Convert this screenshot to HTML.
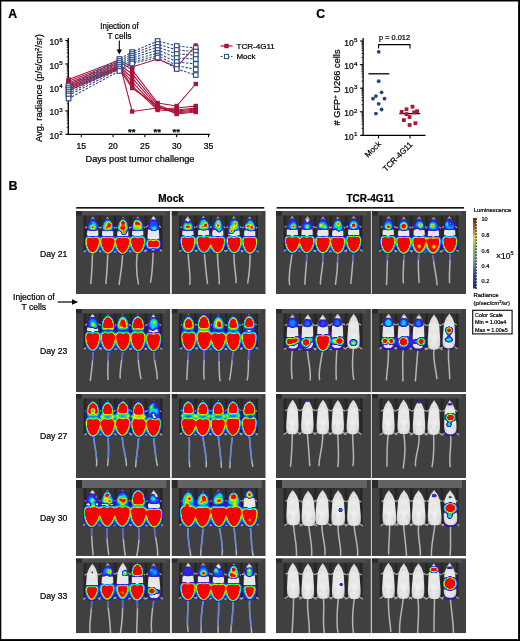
<!DOCTYPE html>
<html><head><meta charset="utf-8"><style>
html,body{margin:0;padding:0;background:#fff;}
body{width:520px;height:641px;overflow:hidden;font-family:"Liberation Sans",sans-serif;}
svg{display:block;will-change:transform;}
text{stroke:#000;stroke-width:0.22px;}
</style></head><body>
<svg width="520" height="641" viewBox="0 0 520 641">
<defs>
<filter id="heat" x="0" y="0" width="1" height="1" color-interpolation-filters="sRGB">
 <feGaussianBlur stdDeviation="1.2"/>
 <feColorMatrix type="matrix" values="1 0 0 0 0  0 1 0 0 0  0 0 1 0 0  1 0 0 0 0"/>
 <feComponentTransfer>
  <feFuncR type="table" tableValues="0.000 0.000 0.000 0.235 0.157 0.078 0.000 0.000 0.000 0.235 0.667 0.980 1.000 1.000 1.000 0.980 0.980 0.980 0.980 0.980"/>
  <feFuncG type="table" tableValues="0.000 0.000 0.000 0.078 0.157 0.353 0.627 0.882 0.902 0.902 0.941 0.922 0.647 0.314 0.059 0.000 0.000 0.000 0.000 0.000"/>
  <feFuncB type="table" tableValues="0.000 0.000 0.000 0.745 0.922 1.000 1.000 0.922 0.549 0.157 0.000 0.000 0.000 0.000 0.000 0.000 0.000 0.000 0.000 0.000"/>
  <feFuncA type="table" tableValues="0 0 0 1 1 1 1 1 1 1 1 1 1 1 1 1 1 1 1 1"/>
 </feComponentTransfer>
</filter>
<filter id="soft" x="-0.1" y="-0.1" width="1.2" height="1.2"><feGaussianBlur stdDeviation="0.45"/></filter>
<filter id="soft2" x="-0.2" y="-0.2" width="1.4" height="1.4"><feGaussianBlur stdDeviation="0.8"/></filter>
<radialGradient id="mg" cx="0.5" cy="0.55" r="0.6"><stop offset="0" stop-color="#f4f4f4"/><stop offset="0.75" stop-color="#e2e2e2"/><stop offset="1" stop-color="#bdbdbd"/></radialGradient>
<path id="mb" d="M0.000,0.000 C0.057,0.000 0.103,0.023 0.170,0.040 C0.237,0.057 0.325,0.077 0.400,0.100 C0.475,0.123 0.557,0.153 0.620,0.180 C0.683,0.207 0.738,0.232 0.780,0.260 C0.822,0.288 0.850,0.317 0.870,0.350 C0.890,0.383 0.885,0.418 0.900,0.460 C0.915,0.502 0.943,0.557 0.960,0.600 C0.977,0.643 0.993,0.683 1.000,0.720 C1.007,0.757 1.008,0.790 1.000,0.820 C0.992,0.850 0.992,0.875 0.950,0.900 C0.908,0.925 0.850,0.953 0.750,0.970 C0.650,0.987 0.533,0.995 0.350,1.000 C0.167,1.005 -0.167,1.005 -0.350,1.000 C-0.533,0.995 -0.650,0.987 -0.750,0.970 C-0.850,0.953 -0.908,0.925 -0.950,0.900 C-0.992,0.875 -0.992,0.850 -1.000,0.820 C-1.008,0.790 -1.007,0.757 -1.000,0.720 C-0.993,0.683 -0.977,0.643 -0.960,0.600 C-0.943,0.557 -0.915,0.502 -0.900,0.460 C-0.885,0.418 -0.890,0.383 -0.870,0.350 C-0.850,0.317 -0.822,0.288 -0.780,0.260 C-0.738,0.232 -0.683,0.207 -0.620,0.180 C-0.557,0.153 -0.475,0.123 -0.400,0.100 C-0.325,0.077 -0.237,0.057 -0.170,0.040 C-0.103,0.023 -0.057,0.000 0.000,0.000Z"/></defs>
<rect width="520" height="641" fill="#fff"/>
<line x1="68.3" y1="38" x2="68.3" y2="134.9" stroke="#000" stroke-width="1.3"/>
<line x1="67.7" y1="134.3" x2="210" y2="134.3" stroke="#000" stroke-width="1.3"/>
<line x1="65.3" y1="134.30" x2="68.3" y2="134.30" stroke="#000" stroke-width="1.1"/>
<line x1="66.7" y1="127.24" x2="68.3" y2="127.24" stroke="#000" stroke-width="0.8"/>
<line x1="66.7" y1="123.11" x2="68.3" y2="123.11" stroke="#000" stroke-width="0.8"/>
<line x1="66.7" y1="120.18" x2="68.3" y2="120.18" stroke="#000" stroke-width="0.8"/>
<line x1="66.7" y1="117.91" x2="68.3" y2="117.91" stroke="#000" stroke-width="0.8"/>
<line x1="66.7" y1="116.05" x2="68.3" y2="116.05" stroke="#000" stroke-width="0.8"/>
<line x1="66.7" y1="114.48" x2="68.3" y2="114.48" stroke="#000" stroke-width="0.8"/>
<line x1="66.7" y1="113.12" x2="68.3" y2="113.12" stroke="#000" stroke-width="0.8"/>
<line x1="66.7" y1="111.92" x2="68.3" y2="111.92" stroke="#000" stroke-width="0.8"/>
<text x="62.699999999999996" y="138.90" font-size="8.5" text-anchor="end" font-family="'Liberation Sans', sans-serif">10<tspan dx="0.3" dy="-3.6" font-size="6.2">2</tspan></text>
<line x1="65.3" y1="110.85" x2="68.3" y2="110.85" stroke="#000" stroke-width="1.1"/>
<line x1="66.7" y1="103.79" x2="68.3" y2="103.79" stroke="#000" stroke-width="0.8"/>
<line x1="66.7" y1="99.66" x2="68.3" y2="99.66" stroke="#000" stroke-width="0.8"/>
<line x1="66.7" y1="96.73" x2="68.3" y2="96.73" stroke="#000" stroke-width="0.8"/>
<line x1="66.7" y1="94.46" x2="68.3" y2="94.46" stroke="#000" stroke-width="0.8"/>
<line x1="66.7" y1="92.60" x2="68.3" y2="92.60" stroke="#000" stroke-width="0.8"/>
<line x1="66.7" y1="91.03" x2="68.3" y2="91.03" stroke="#000" stroke-width="0.8"/>
<line x1="66.7" y1="89.67" x2="68.3" y2="89.67" stroke="#000" stroke-width="0.8"/>
<line x1="66.7" y1="88.47" x2="68.3" y2="88.47" stroke="#000" stroke-width="0.8"/>
<text x="62.699999999999996" y="115.45" font-size="8.5" text-anchor="end" font-family="'Liberation Sans', sans-serif">10<tspan dx="0.3" dy="-3.6" font-size="6.2">3</tspan></text>
<line x1="65.3" y1="87.40" x2="68.3" y2="87.40" stroke="#000" stroke-width="1.1"/>
<line x1="66.7" y1="80.34" x2="68.3" y2="80.34" stroke="#000" stroke-width="0.8"/>
<line x1="66.7" y1="76.21" x2="68.3" y2="76.21" stroke="#000" stroke-width="0.8"/>
<line x1="66.7" y1="73.28" x2="68.3" y2="73.28" stroke="#000" stroke-width="0.8"/>
<line x1="66.7" y1="71.01" x2="68.3" y2="71.01" stroke="#000" stroke-width="0.8"/>
<line x1="66.7" y1="69.15" x2="68.3" y2="69.15" stroke="#000" stroke-width="0.8"/>
<line x1="66.7" y1="67.58" x2="68.3" y2="67.58" stroke="#000" stroke-width="0.8"/>
<line x1="66.7" y1="66.22" x2="68.3" y2="66.22" stroke="#000" stroke-width="0.8"/>
<line x1="66.7" y1="65.02" x2="68.3" y2="65.02" stroke="#000" stroke-width="0.8"/>
<text x="62.699999999999996" y="92.00" font-size="8.5" text-anchor="end" font-family="'Liberation Sans', sans-serif">10<tspan dx="0.3" dy="-3.6" font-size="6.2">4</tspan></text>
<line x1="65.3" y1="63.95" x2="68.3" y2="63.95" stroke="#000" stroke-width="1.1"/>
<line x1="66.7" y1="56.89" x2="68.3" y2="56.89" stroke="#000" stroke-width="0.8"/>
<line x1="66.7" y1="52.76" x2="68.3" y2="52.76" stroke="#000" stroke-width="0.8"/>
<line x1="66.7" y1="49.83" x2="68.3" y2="49.83" stroke="#000" stroke-width="0.8"/>
<line x1="66.7" y1="47.56" x2="68.3" y2="47.56" stroke="#000" stroke-width="0.8"/>
<line x1="66.7" y1="45.70" x2="68.3" y2="45.70" stroke="#000" stroke-width="0.8"/>
<line x1="66.7" y1="44.13" x2="68.3" y2="44.13" stroke="#000" stroke-width="0.8"/>
<line x1="66.7" y1="42.77" x2="68.3" y2="42.77" stroke="#000" stroke-width="0.8"/>
<line x1="66.7" y1="41.57" x2="68.3" y2="41.57" stroke="#000" stroke-width="0.8"/>
<text x="62.699999999999996" y="68.55" font-size="8.5" text-anchor="end" font-family="'Liberation Sans', sans-serif">10<tspan dx="0.3" dy="-3.6" font-size="6.2">5</tspan></text>
<line x1="65.3" y1="40.50" x2="68.3" y2="40.50" stroke="#000" stroke-width="1.1"/>
<text x="62.699999999999996" y="45.10" font-size="8.5" text-anchor="end" font-family="'Liberation Sans', sans-serif">10<tspan dx="0.3" dy="-3.6" font-size="6.2">6</tspan></text>
<line x1="81.30" y1="134.3" x2="81.30" y2="137.3" stroke="#000" stroke-width="1.1"/>
<text x="81.30" y="148.6" font-size="8.6" text-anchor="middle" font-family="'Liberation Sans', sans-serif">15</text>
<line x1="113.10" y1="134.3" x2="113.10" y2="137.3" stroke="#000" stroke-width="1.1"/>
<text x="113.10" y="148.6" font-size="8.6" text-anchor="middle" font-family="'Liberation Sans', sans-serif">20</text>
<line x1="144.90" y1="134.3" x2="144.90" y2="137.3" stroke="#000" stroke-width="1.1"/>
<text x="144.90" y="148.6" font-size="8.6" text-anchor="middle" font-family="'Liberation Sans', sans-serif">25</text>
<line x1="176.70" y1="134.3" x2="176.70" y2="137.3" stroke="#000" stroke-width="1.1"/>
<text x="176.70" y="148.6" font-size="8.6" text-anchor="middle" font-family="'Liberation Sans', sans-serif">30</text>
<line x1="208.50" y1="134.3" x2="208.50" y2="137.3" stroke="#000" stroke-width="1.1"/>
<text x="208.50" y="148.6" font-size="8.6" text-anchor="middle" font-family="'Liberation Sans', sans-serif">35</text>
<text x="140" y="161.5" font-size="9" text-anchor="middle" font-family="'Liberation Sans', sans-serif" textLength="109" lengthAdjust="spacingAndGlyphs">Days post tumor challenge</text>
<text transform="translate(42.3,88) rotate(-90)" font-size="9.6" text-anchor="middle" font-family="'Liberation Sans', sans-serif" textLength="108" lengthAdjust="spacingAndGlyphs">Avg. radiance (p/s/cm<tspan dy="-3" font-size="6">2</tspan><tspan dy="3">/sr)</tspan></text>
<text x="119.5" y="28.9" font-size="8.3" text-anchor="middle" font-family="'Liberation Sans', sans-serif" textLength="38.5" lengthAdjust="spacingAndGlyphs">Injection of</text>
<text x="119.5" y="38.8" font-size="8.3" text-anchor="middle" font-family="'Liberation Sans', sans-serif">T cells</text>
<line x1="119.3" y1="40.5" x2="119.3" y2="51" stroke="#000" stroke-width="1.1"/>
<path d="M116.6,49.5 L122,49.5 L119.3,54.5 Z" fill="#000"/>
<text x="131.7" y="135.2" font-size="9.5" text-anchor="middle" font-family="'Liberation Sans', sans-serif" font-weight="bold">**</text>
<text x="157.2" y="135.2" font-size="9.5" text-anchor="middle" font-family="'Liberation Sans', sans-serif" font-weight="bold">**</text>
<text x="176.2" y="135.2" font-size="9.5" text-anchor="middle" font-family="'Liberation Sans', sans-serif" font-weight="bold">**</text>
<polyline points="68.58,79.6 119.46,60 132.18,67 157.62,59 176.70,67 195.78,45.5" fill="none" stroke="#ad1238" stroke-width="1.1"/>
<polyline points="68.58,81.3 119.46,61.5 132.18,70 157.62,103 176.70,106 195.78,84" fill="none" stroke="#ad1238" stroke-width="1.1"/>
<polyline points="68.58,83 119.46,63 132.18,111.5 157.62,108 176.70,110 195.78,108" fill="none" stroke="#ad1238" stroke-width="1.1"/>
<polyline points="68.58,84.5 119.46,64.5 132.18,74 157.62,105 176.70,112 195.78,110" fill="none" stroke="#ad1238" stroke-width="1.1"/>
<polyline points="68.58,86 119.46,66 132.18,78 157.62,107 176.70,113 195.78,111" fill="none" stroke="#ad1238" stroke-width="1.1"/>
<polyline points="68.58,87.5 119.46,67 132.18,82 157.62,109 176.70,108 195.78,106" fill="none" stroke="#ad1238" stroke-width="1.1"/>
<polyline points="68.58,89 119.46,68 132.18,86 157.62,110 176.70,111 195.78,109" fill="none" stroke="#ad1238" stroke-width="1.1"/>
<polyline points="68.58,90.5 119.46,69 132.18,88 157.62,106 176.70,114 195.78,112" fill="none" stroke="#ad1238" stroke-width="1.1"/>
<polyline points="68.58,85.5 119.46,59 132.18,52 157.62,41 176.70,46 195.78,48" fill="none" stroke="#2c4a82" stroke-width="1.1" stroke-dasharray="2.4,1.5"/>
<polyline points="68.58,87.5 119.46,61 132.18,54 157.62,44 176.70,50 195.78,51.5" fill="none" stroke="#2c4a82" stroke-width="1.1" stroke-dasharray="2.4,1.5"/>
<polyline points="68.58,89.5 119.46,63 132.18,56 157.62,47 176.70,54 195.78,55" fill="none" stroke="#2c4a82" stroke-width="1.1" stroke-dasharray="2.4,1.5"/>
<polyline points="68.58,91.5 119.46,65 132.18,58 157.62,50 176.70,58 195.78,59" fill="none" stroke="#2c4a82" stroke-width="1.1" stroke-dasharray="2.4,1.5"/>
<polyline points="68.58,93.5 119.46,67 132.18,60 157.62,53 176.70,62 195.78,64" fill="none" stroke="#2c4a82" stroke-width="1.1" stroke-dasharray="2.4,1.5"/>
<polyline points="68.58,95.5 119.46,69 132.18,62 157.62,55.5 176.70,65.5 195.78,69.5" fill="none" stroke="#2c4a82" stroke-width="1.1" stroke-dasharray="2.4,1.5"/>
<polyline points="68.58,98.5 119.46,71 132.18,63.5 157.62,57.5 176.70,69 195.78,75" fill="none" stroke="#2c4a82" stroke-width="1.1" stroke-dasharray="2.4,1.5"/>
<rect x="66.38" y="77.40" width="4.4" height="4.4" fill="#ad1238"/>
<rect x="117.26" y="57.80" width="4.4" height="4.4" fill="#ad1238"/>
<rect x="129.98" y="64.80" width="4.4" height="4.4" fill="#ad1238"/>
<rect x="155.42" y="56.80" width="4.4" height="4.4" fill="#ad1238"/>
<rect x="174.50" y="64.80" width="4.4" height="4.4" fill="#ad1238"/>
<rect x="193.58" y="43.30" width="4.4" height="4.4" fill="#ad1238"/>
<rect x="66.38" y="79.10" width="4.4" height="4.4" fill="#ad1238"/>
<rect x="117.26" y="59.30" width="4.4" height="4.4" fill="#ad1238"/>
<rect x="129.98" y="67.80" width="4.4" height="4.4" fill="#ad1238"/>
<rect x="155.42" y="100.80" width="4.4" height="4.4" fill="#ad1238"/>
<rect x="174.50" y="103.80" width="4.4" height="4.4" fill="#ad1238"/>
<rect x="193.58" y="81.80" width="4.4" height="4.4" fill="#ad1238"/>
<rect x="66.38" y="80.80" width="4.4" height="4.4" fill="#ad1238"/>
<rect x="117.26" y="60.80" width="4.4" height="4.4" fill="#ad1238"/>
<rect x="129.98" y="109.30" width="4.4" height="4.4" fill="#ad1238"/>
<rect x="155.42" y="105.80" width="4.4" height="4.4" fill="#ad1238"/>
<rect x="174.50" y="107.80" width="4.4" height="4.4" fill="#ad1238"/>
<rect x="193.58" y="105.80" width="4.4" height="4.4" fill="#ad1238"/>
<rect x="66.38" y="82.30" width="4.4" height="4.4" fill="#ad1238"/>
<rect x="117.26" y="62.30" width="4.4" height="4.4" fill="#ad1238"/>
<rect x="129.98" y="71.80" width="4.4" height="4.4" fill="#ad1238"/>
<rect x="155.42" y="102.80" width="4.4" height="4.4" fill="#ad1238"/>
<rect x="174.50" y="109.80" width="4.4" height="4.4" fill="#ad1238"/>
<rect x="193.58" y="107.80" width="4.4" height="4.4" fill="#ad1238"/>
<rect x="66.38" y="83.80" width="4.4" height="4.4" fill="#ad1238"/>
<rect x="117.26" y="63.80" width="4.4" height="4.4" fill="#ad1238"/>
<rect x="129.98" y="75.80" width="4.4" height="4.4" fill="#ad1238"/>
<rect x="155.42" y="104.80" width="4.4" height="4.4" fill="#ad1238"/>
<rect x="174.50" y="110.80" width="4.4" height="4.4" fill="#ad1238"/>
<rect x="193.58" y="108.80" width="4.4" height="4.4" fill="#ad1238"/>
<rect x="66.38" y="85.30" width="4.4" height="4.4" fill="#ad1238"/>
<rect x="117.26" y="64.80" width="4.4" height="4.4" fill="#ad1238"/>
<rect x="129.98" y="79.80" width="4.4" height="4.4" fill="#ad1238"/>
<rect x="155.42" y="106.80" width="4.4" height="4.4" fill="#ad1238"/>
<rect x="174.50" y="105.80" width="4.4" height="4.4" fill="#ad1238"/>
<rect x="193.58" y="103.80" width="4.4" height="4.4" fill="#ad1238"/>
<rect x="66.38" y="86.80" width="4.4" height="4.4" fill="#ad1238"/>
<rect x="117.26" y="65.80" width="4.4" height="4.4" fill="#ad1238"/>
<rect x="129.98" y="83.80" width="4.4" height="4.4" fill="#ad1238"/>
<rect x="155.42" y="107.80" width="4.4" height="4.4" fill="#ad1238"/>
<rect x="174.50" y="108.80" width="4.4" height="4.4" fill="#ad1238"/>
<rect x="193.58" y="106.80" width="4.4" height="4.4" fill="#ad1238"/>
<rect x="66.38" y="88.30" width="4.4" height="4.4" fill="#ad1238"/>
<rect x="117.26" y="66.80" width="4.4" height="4.4" fill="#ad1238"/>
<rect x="129.98" y="85.80" width="4.4" height="4.4" fill="#ad1238"/>
<rect x="155.42" y="103.80" width="4.4" height="4.4" fill="#ad1238"/>
<rect x="174.50" y="111.80" width="4.4" height="4.4" fill="#ad1238"/>
<rect x="193.58" y="109.80" width="4.4" height="4.4" fill="#ad1238"/>
<rect x="66.28" y="83.20" width="4.6" height="4.6" fill="#fff" stroke="#2c4a82" stroke-width="1.15"/>
<rect x="117.16" y="56.70" width="4.6" height="4.6" fill="#fff" stroke="#2c4a82" stroke-width="1.15"/>
<rect x="129.88" y="49.70" width="4.6" height="4.6" fill="#fff" stroke="#2c4a82" stroke-width="1.15"/>
<rect x="155.32" y="38.70" width="4.6" height="4.6" fill="#fff" stroke="#2c4a82" stroke-width="1.15"/>
<rect x="174.40" y="43.70" width="4.6" height="4.6" fill="#fff" stroke="#2c4a82" stroke-width="1.15"/>
<rect x="193.48" y="45.70" width="4.6" height="4.6" fill="#fff" stroke="#2c4a82" stroke-width="1.15"/>
<rect x="66.28" y="85.20" width="4.6" height="4.6" fill="#fff" stroke="#2c4a82" stroke-width="1.15"/>
<rect x="117.16" y="58.70" width="4.6" height="4.6" fill="#fff" stroke="#2c4a82" stroke-width="1.15"/>
<rect x="129.88" y="51.70" width="4.6" height="4.6" fill="#fff" stroke="#2c4a82" stroke-width="1.15"/>
<rect x="155.32" y="41.70" width="4.6" height="4.6" fill="#fff" stroke="#2c4a82" stroke-width="1.15"/>
<rect x="174.40" y="47.70" width="4.6" height="4.6" fill="#fff" stroke="#2c4a82" stroke-width="1.15"/>
<rect x="193.48" y="49.20" width="4.6" height="4.6" fill="#fff" stroke="#2c4a82" stroke-width="1.15"/>
<rect x="66.28" y="87.20" width="4.6" height="4.6" fill="#fff" stroke="#2c4a82" stroke-width="1.15"/>
<rect x="117.16" y="60.70" width="4.6" height="4.6" fill="#fff" stroke="#2c4a82" stroke-width="1.15"/>
<rect x="129.88" y="53.70" width="4.6" height="4.6" fill="#fff" stroke="#2c4a82" stroke-width="1.15"/>
<rect x="155.32" y="44.70" width="4.6" height="4.6" fill="#fff" stroke="#2c4a82" stroke-width="1.15"/>
<rect x="174.40" y="51.70" width="4.6" height="4.6" fill="#fff" stroke="#2c4a82" stroke-width="1.15"/>
<rect x="193.48" y="52.70" width="4.6" height="4.6" fill="#fff" stroke="#2c4a82" stroke-width="1.15"/>
<rect x="66.28" y="89.20" width="4.6" height="4.6" fill="#fff" stroke="#2c4a82" stroke-width="1.15"/>
<rect x="117.16" y="62.70" width="4.6" height="4.6" fill="#fff" stroke="#2c4a82" stroke-width="1.15"/>
<rect x="129.88" y="55.70" width="4.6" height="4.6" fill="#fff" stroke="#2c4a82" stroke-width="1.15"/>
<rect x="155.32" y="47.70" width="4.6" height="4.6" fill="#fff" stroke="#2c4a82" stroke-width="1.15"/>
<rect x="174.40" y="55.70" width="4.6" height="4.6" fill="#fff" stroke="#2c4a82" stroke-width="1.15"/>
<rect x="193.48" y="56.70" width="4.6" height="4.6" fill="#fff" stroke="#2c4a82" stroke-width="1.15"/>
<rect x="66.28" y="91.20" width="4.6" height="4.6" fill="#fff" stroke="#2c4a82" stroke-width="1.15"/>
<rect x="117.16" y="64.70" width="4.6" height="4.6" fill="#fff" stroke="#2c4a82" stroke-width="1.15"/>
<rect x="129.88" y="57.70" width="4.6" height="4.6" fill="#fff" stroke="#2c4a82" stroke-width="1.15"/>
<rect x="155.32" y="50.70" width="4.6" height="4.6" fill="#fff" stroke="#2c4a82" stroke-width="1.15"/>
<rect x="174.40" y="59.70" width="4.6" height="4.6" fill="#fff" stroke="#2c4a82" stroke-width="1.15"/>
<rect x="193.48" y="61.70" width="4.6" height="4.6" fill="#fff" stroke="#2c4a82" stroke-width="1.15"/>
<rect x="66.28" y="93.20" width="4.6" height="4.6" fill="#fff" stroke="#2c4a82" stroke-width="1.15"/>
<rect x="117.16" y="66.70" width="4.6" height="4.6" fill="#fff" stroke="#2c4a82" stroke-width="1.15"/>
<rect x="129.88" y="59.70" width="4.6" height="4.6" fill="#fff" stroke="#2c4a82" stroke-width="1.15"/>
<rect x="155.32" y="53.20" width="4.6" height="4.6" fill="#fff" stroke="#2c4a82" stroke-width="1.15"/>
<rect x="174.40" y="63.20" width="4.6" height="4.6" fill="#fff" stroke="#2c4a82" stroke-width="1.15"/>
<rect x="193.48" y="67.20" width="4.6" height="4.6" fill="#fff" stroke="#2c4a82" stroke-width="1.15"/>
<rect x="66.28" y="96.20" width="4.6" height="4.6" fill="#fff" stroke="#2c4a82" stroke-width="1.15"/>
<rect x="117.16" y="68.70" width="4.6" height="4.6" fill="#fff" stroke="#2c4a82" stroke-width="1.15"/>
<rect x="129.88" y="61.20" width="4.6" height="4.6" fill="#fff" stroke="#2c4a82" stroke-width="1.15"/>
<rect x="155.32" y="55.20" width="4.6" height="4.6" fill="#fff" stroke="#2c4a82" stroke-width="1.15"/>
<rect x="174.40" y="66.70" width="4.6" height="4.6" fill="#fff" stroke="#2c4a82" stroke-width="1.15"/>
<rect x="193.48" y="72.70" width="4.6" height="4.6" fill="#fff" stroke="#2c4a82" stroke-width="1.15"/>
<line x1="220.5" y1="46" x2="232.5" y2="46" stroke="#ad1238" stroke-width="1.2"/>
<rect x="224.3" y="43.8" width="4.4" height="4.4" fill="#ad1238"/>
<text x="236.5" y="48.9" font-size="7.9" font-family="'Liberation Sans', sans-serif" textLength="38.3" lengthAdjust="spacingAndGlyphs">TCR-4G11</text>
<line x1="220.5" y1="56.5" x2="232.5" y2="56.5" stroke="#2c4a82" stroke-width="1.1" stroke-dasharray="2,1.5"/>
<rect x="224.4" y="54.4" width="4.2" height="4.2" fill="#fff" stroke="#2c4a82" stroke-width="1"/>
<text x="236.5" y="59.4" font-size="7.9" font-family="'Liberation Sans', sans-serif" textLength="18.9" lengthAdjust="spacingAndGlyphs">Mock</text>
<text x="8.3" y="18.3" font-size="12.3" font-weight="bold" font-family="'Liberation Sans', sans-serif">A</text>
<text x="316.3" y="18.4" font-size="12.3" font-weight="bold" font-family="'Liberation Sans', sans-serif">C</text>
<line x1="363.1" y1="38" x2="363.1" y2="136.0" stroke="#000" stroke-width="1.3"/>
<line x1="362.5" y1="135.4" x2="425.5" y2="135.4" stroke="#000" stroke-width="1.3"/>
<line x1="360.1" y1="135.40" x2="363.1" y2="135.40" stroke="#000" stroke-width="1.1"/>
<line x1="361.5" y1="128.30" x2="363.1" y2="128.30" stroke="#000" stroke-width="0.8"/>
<line x1="361.5" y1="124.14" x2="363.1" y2="124.14" stroke="#000" stroke-width="0.8"/>
<line x1="361.5" y1="121.19" x2="363.1" y2="121.19" stroke="#000" stroke-width="0.8"/>
<line x1="361.5" y1="118.90" x2="363.1" y2="118.90" stroke="#000" stroke-width="0.8"/>
<line x1="361.5" y1="117.04" x2="363.1" y2="117.04" stroke="#000" stroke-width="0.8"/>
<line x1="361.5" y1="115.46" x2="363.1" y2="115.46" stroke="#000" stroke-width="0.8"/>
<line x1="361.5" y1="114.09" x2="363.1" y2="114.09" stroke="#000" stroke-width="0.8"/>
<line x1="361.5" y1="112.88" x2="363.1" y2="112.88" stroke="#000" stroke-width="0.8"/>
<text x="357.5" y="140.00" font-size="8.5" text-anchor="end" font-family="'Liberation Sans', sans-serif">10<tspan dx="0.3" dy="-3.6" font-size="6.2">1</tspan></text>
<line x1="360.1" y1="111.80" x2="363.1" y2="111.80" stroke="#000" stroke-width="1.1"/>
<line x1="361.5" y1="104.70" x2="363.1" y2="104.70" stroke="#000" stroke-width="0.8"/>
<line x1="361.5" y1="100.54" x2="363.1" y2="100.54" stroke="#000" stroke-width="0.8"/>
<line x1="361.5" y1="97.59" x2="363.1" y2="97.59" stroke="#000" stroke-width="0.8"/>
<line x1="361.5" y1="95.30" x2="363.1" y2="95.30" stroke="#000" stroke-width="0.8"/>
<line x1="361.5" y1="93.44" x2="363.1" y2="93.44" stroke="#000" stroke-width="0.8"/>
<line x1="361.5" y1="91.86" x2="363.1" y2="91.86" stroke="#000" stroke-width="0.8"/>
<line x1="361.5" y1="90.49" x2="363.1" y2="90.49" stroke="#000" stroke-width="0.8"/>
<line x1="361.5" y1="89.28" x2="363.1" y2="89.28" stroke="#000" stroke-width="0.8"/>
<text x="357.5" y="116.40" font-size="8.5" text-anchor="end" font-family="'Liberation Sans', sans-serif">10<tspan dx="0.3" dy="-3.6" font-size="6.2">2</tspan></text>
<line x1="360.1" y1="88.20" x2="363.1" y2="88.20" stroke="#000" stroke-width="1.1"/>
<line x1="361.5" y1="81.10" x2="363.1" y2="81.10" stroke="#000" stroke-width="0.8"/>
<line x1="361.5" y1="76.94" x2="363.1" y2="76.94" stroke="#000" stroke-width="0.8"/>
<line x1="361.5" y1="73.99" x2="363.1" y2="73.99" stroke="#000" stroke-width="0.8"/>
<line x1="361.5" y1="71.70" x2="363.1" y2="71.70" stroke="#000" stroke-width="0.8"/>
<line x1="361.5" y1="69.84" x2="363.1" y2="69.84" stroke="#000" stroke-width="0.8"/>
<line x1="361.5" y1="68.26" x2="363.1" y2="68.26" stroke="#000" stroke-width="0.8"/>
<line x1="361.5" y1="66.89" x2="363.1" y2="66.89" stroke="#000" stroke-width="0.8"/>
<line x1="361.5" y1="65.68" x2="363.1" y2="65.68" stroke="#000" stroke-width="0.8"/>
<text x="357.5" y="92.80" font-size="8.5" text-anchor="end" font-family="'Liberation Sans', sans-serif">10<tspan dx="0.3" dy="-3.6" font-size="6.2">3</tspan></text>
<line x1="360.1" y1="64.60" x2="363.1" y2="64.60" stroke="#000" stroke-width="1.1"/>
<line x1="361.5" y1="57.50" x2="363.1" y2="57.50" stroke="#000" stroke-width="0.8"/>
<line x1="361.5" y1="53.34" x2="363.1" y2="53.34" stroke="#000" stroke-width="0.8"/>
<line x1="361.5" y1="50.39" x2="363.1" y2="50.39" stroke="#000" stroke-width="0.8"/>
<line x1="361.5" y1="48.10" x2="363.1" y2="48.10" stroke="#000" stroke-width="0.8"/>
<line x1="361.5" y1="46.24" x2="363.1" y2="46.24" stroke="#000" stroke-width="0.8"/>
<line x1="361.5" y1="44.66" x2="363.1" y2="44.66" stroke="#000" stroke-width="0.8"/>
<line x1="361.5" y1="43.29" x2="363.1" y2="43.29" stroke="#000" stroke-width="0.8"/>
<line x1="361.5" y1="42.08" x2="363.1" y2="42.08" stroke="#000" stroke-width="0.8"/>
<text x="357.5" y="69.20" font-size="8.5" text-anchor="end" font-family="'Liberation Sans', sans-serif">10<tspan dx="0.3" dy="-3.6" font-size="6.2">4</tspan></text>
<line x1="360.1" y1="41.00" x2="363.1" y2="41.00" stroke="#000" stroke-width="1.1"/>
<text x="357.5" y="45.60" font-size="8.5" text-anchor="end" font-family="'Liberation Sans', sans-serif">10<tspan dx="0.3" dy="-3.6" font-size="6.2">5</tspan></text>
<line x1="378.5" y1="135.4" x2="378.5" y2="138.4" stroke="#000" stroke-width="1.1"/>
<line x1="410" y1="135.4" x2="410" y2="138.4" stroke="#000" stroke-width="1.1"/>
<text transform="translate(340,87.5) rotate(-90)" font-size="8.3" text-anchor="middle" font-family="'Liberation Sans', sans-serif" textLength="76" lengthAdjust="spacingAndGlyphs"># GFP<tspan dy="-3" font-size="5.5">+</tspan><tspan dy="3"> U266 cells</tspan></text>
<path d="M378.6,48.4 L378.6,44.6 L410,44.6 L410,48.4" fill="none" stroke="#000" stroke-width="1.1"/>
<text x="394.5" y="40" font-size="7.4" text-anchor="middle" font-family="'Liberation Sans', sans-serif">p = 0.012</text>
<line x1="368.4" y1="73.8" x2="389.3" y2="73.8" stroke="#000" stroke-width="1.3"/>
<line x1="399.3" y1="113.6" x2="420.2" y2="113.6" stroke="#000" stroke-width="1.3"/>
<circle cx="378.7" cy="51.8" r="1.9" fill="#26467a"/>
<circle cx="378.7" cy="81.2" r="1.9" fill="#26467a"/>
<circle cx="381.6" cy="92.3" r="1.9" fill="#26467a"/>
<circle cx="375.9" cy="96.1" r="1.9" fill="#26467a"/>
<circle cx="373" cy="98.7" r="1.9" fill="#26467a"/>
<circle cx="384.5" cy="98.7" r="1.9" fill="#26467a"/>
<circle cx="378.7" cy="103.8" r="1.9" fill="#26467a"/>
<circle cx="381.6" cy="109.5" r="1.9" fill="#26467a"/>
<circle cx="375.9" cy="113.6" r="1.9" fill="#26467a"/>
<rect x="410.6" y="104.8" width="3.8" height="3.8" fill="#a8183a"/>
<rect x="404.6" y="107.39999999999999" width="3.8" height="3.8" fill="#a8183a"/>
<rect x="399.8" y="110.0" width="3.8" height="3.8" fill="#a8183a"/>
<rect x="415.20000000000005" y="109.3" width="3.8" height="3.8" fill="#a8183a"/>
<rect x="412.3" y="110.5" width="3.8" height="3.8" fill="#a8183a"/>
<rect x="404.6" y="112.19999999999999" width="3.8" height="3.8" fill="#a8183a"/>
<rect x="407.70000000000005" y="115.1" width="3.8" height="3.8" fill="#a8183a"/>
<rect x="402.0" y="118.19999999999999" width="3.8" height="3.8" fill="#a8183a"/>
<rect x="413.5" y="121.3" width="3.8" height="3.8" fill="#a8183a"/>
<rect x="407.70000000000005" y="123.1" width="3.8" height="3.8" fill="#a8183a"/>
<text transform="translate(381.5,144.5) rotate(-45)" font-size="8" text-anchor="end" font-family="'Liberation Sans', sans-serif">Mock</text>
<text transform="translate(413,145) rotate(-45)" font-size="8" text-anchor="end" font-family="'Liberation Sans', sans-serif">TCR-4G11</text>
<text x="8.5" y="190" font-size="12.5" font-weight="bold" font-family="'Liberation Sans', sans-serif">B</text>
<text x="171" y="202.3" font-size="10" font-weight="bold" text-anchor="middle" font-family="'Liberation Sans', sans-serif">Mock</text>
<text x="370.3" y="202.2" font-size="10" font-weight="bold" text-anchor="middle" font-family="'Liberation Sans', sans-serif">TCR-4G11</text>
<rect x="76.2" y="207.1" width="188" height="1.5" fill="#000"/>
<rect x="276.6" y="207.1" width="187.5" height="1.5" fill="#000"/>
<text x="53.7" y="256.7" font-size="8.6" text-anchor="middle" font-family="'Liberation Sans', sans-serif">Day 21</text>
<text x="53.7" y="353.70000000000005" font-size="8.6" text-anchor="middle" font-family="'Liberation Sans', sans-serif">Day 23</text>
<text x="53.7" y="439.1" font-size="8.6" text-anchor="middle" font-family="'Liberation Sans', sans-serif">Day 27</text>
<text x="53.7" y="521.1" font-size="8.6" text-anchor="middle" font-family="'Liberation Sans', sans-serif">Day 30</text>
<text x="53.7" y="598.5" font-size="8.6" text-anchor="middle" font-family="'Liberation Sans', sans-serif">Day 33</text>
<text x="33.8" y="299.6" font-size="8.6" text-anchor="middle" font-family="'Liberation Sans', sans-serif">Injection of</text>
<text x="33.8" y="309.6" font-size="8.6" text-anchor="middle" font-family="'Liberation Sans', sans-serif">T cells</text>
<line x1="57.7" y1="302" x2="73" y2="302" stroke="#000" stroke-width="1.2"/>
<path d="M72,299.2 L78.2,302 L72,304.8 Z" fill="#000"/>
<rect x="370.7" y="211" width="1.5" height="83" fill="#c4c4c4"/>
<rect x="370.7" y="309" width="1.5" height="83.3" fill="#c4c4c4"/>
<rect x="370.7" y="394" width="1.5" height="84" fill="#c4c4c4"/>
<rect x="370.7" y="480" width="1.5" height="76" fill="#c4c4c4"/>
<rect x="370.7" y="558.2" width="1.5" height="75" fill="#c4c4c4"/>
<clipPath id="cp00"><rect x="76" y="211" width="94.4" height="83"/></clipPath>
<g clip-path="url(#cp00)">
<g filter="url(#soft)"><rect x="76" y="211" width="94.4" height="83" fill="#414141"/><rect x="82" y="211" width="84.4" height="4.5" fill="#4e4e4e"/><rect x="76" y="211" width="6" height="4.5" fill="#2a2a2a"/><rect x="84.00" y="215.5" width="78.20" height="34.1" fill="#333"/><rect x="83.60" y="215.5" width="2.4" height="34.1" fill="#262626"/><rect x="98.90" y="215.5" width="2.4" height="34.1" fill="#262626"/><rect x="114.20" y="215.5" width="2.4" height="34.1" fill="#262626"/><rect x="129.50" y="215.5" width="2.4" height="34.1" fill="#262626"/><rect x="144.80" y="215.5" width="2.4" height="34.1" fill="#262626"/><rect x="160.10" y="215.5" width="2.4" height="34.1" fill="#262626"/><path d="M92.65,250.71 C92.08,262.85 92.05,273.99 90.72,283.53" fill="none" stroke="#b4b4b4" stroke-width="1.5" stroke-linecap="round"/><path d="M88.1,249.2 L84.3,251.7 M97.1,249.2 L100.9,251.7 M88.2,226.5 l-2.6,1.2 M97.2,226.5 l2.6,1.2" stroke="#a8a8a8" stroke-width="1.3" stroke-linecap="round"/><use href="#mb" transform="matrix(6.20 0 -0.13 35.00 92.78 216.71)" fill="url(#mg)"/><ellipse cx="91.01" cy="223.71" rx="0.74" ry="0.97" fill="#9a9a9a" opacity="0.25"/><ellipse cx="94.49" cy="223.71" rx="0.74" ry="0.97" fill="#9a9a9a" opacity="0.25"/><ellipse cx="92.71" cy="234.21" rx="2.79" ry="3.63" fill="#9a9a9a" opacity="0.1"/><ellipse cx="89.58" cy="242.96" rx="1.55" ry="2.02" fill="#9a9a9a" opacity="0.1"/><ellipse cx="95.78" cy="244.01" rx="1.55" ry="2.02" fill="#9a9a9a" opacity="0.1"/><path d="M107.93,250.82 C107.53,262.90 106.77,273.99 105.97,283.49" fill="none" stroke="#b4b4b4" stroke-width="1.5" stroke-linecap="round"/><path d="M103.4,249.3 L99.6,251.8 M112.4,249.3 L116.2,251.8 M103.1,226.6 l-2.6,1.2 M112.1,226.6 l2.6,1.2" stroke="#a8a8a8" stroke-width="1.3" stroke-linecap="round"/><use href="#mb" transform="matrix(6.20 0 0.42 35.00 107.51 216.82)" fill="url(#mg)"/><ellipse cx="105.86" cy="223.82" rx="0.74" ry="0.97" fill="#9a9a9a" opacity="0.25"/><ellipse cx="109.33" cy="223.82" rx="0.74" ry="0.97" fill="#9a9a9a" opacity="0.25"/><ellipse cx="107.72" cy="234.32" rx="2.79" ry="3.63" fill="#9a9a9a" opacity="0.1"/><ellipse cx="104.72" cy="243.07" rx="1.55" ry="2.02" fill="#9a9a9a" opacity="0.1"/><ellipse cx="110.94" cy="244.12" rx="1.55" ry="2.02" fill="#9a9a9a" opacity="0.1"/><path d="M122.46,250.94 C123.07,263.34 120.15,274.74 119.13,284.51" fill="none" stroke="#b4b4b4" stroke-width="1.5" stroke-linecap="round"/><path d="M118.0,249.4 L114.2,251.9 M127.0,249.4 L130.8,251.9 M118.5,226.7 l-2.6,1.2 M127.5,226.7 l2.6,1.2" stroke="#a8a8a8" stroke-width="1.3" stroke-linecap="round"/><use href="#mb" transform="matrix(6.20 0 -0.71 35.00 123.16 216.94)" fill="url(#mg)"/><ellipse cx="121.29" cy="223.94" rx="0.74" ry="0.97" fill="#9a9a9a" opacity="0.25"/><ellipse cx="124.76" cy="223.94" rx="0.74" ry="0.97" fill="#9a9a9a" opacity="0.25"/><ellipse cx="122.81" cy="234.44" rx="2.79" ry="3.63" fill="#9a9a9a" opacity="0.1"/><ellipse cx="119.53" cy="243.19" rx="1.55" ry="2.02" fill="#9a9a9a" opacity="0.1"/><ellipse cx="125.71" cy="244.24" rx="1.55" ry="2.02" fill="#9a9a9a" opacity="0.1"/><path d="M137.58,250.45 C135.93,262.80 136.38,274.15 138.41,283.88" fill="none" stroke="#b4b4b4" stroke-width="1.5" stroke-linecap="round"/><path d="M133.1,249.0 L129.3,251.5 M142.1,249.0 L145.9,251.5 M133.2,226.3 l-2.6,1.2 M142.2,226.3 l2.6,1.2" stroke="#a8a8a8" stroke-width="1.3" stroke-linecap="round"/><use href="#mb" transform="matrix(6.20 0 -0.21 35.00 137.79 216.45)" fill="url(#mg)"/><ellipse cx="136.01" cy="223.45" rx="0.74" ry="0.97" fill="#9a9a9a" opacity="0.25"/><ellipse cx="139.48" cy="223.45" rx="0.74" ry="0.97" fill="#9a9a9a" opacity="0.25"/><ellipse cx="137.69" cy="233.95" rx="2.79" ry="3.63" fill="#9a9a9a" opacity="0.1"/><ellipse cx="134.53" cy="242.70" rx="1.55" ry="2.02" fill="#9a9a9a" opacity="0.1"/><ellipse cx="140.73" cy="243.75" rx="1.55" ry="2.02" fill="#9a9a9a" opacity="0.1"/><path d="M153.32,249.92 C152.65,261.87 152.51,272.82 150.56,282.20" fill="none" stroke="#b4b4b4" stroke-width="1.5" stroke-linecap="round"/><path d="M148.8,248.4 L145.0,250.9 M157.8,248.4 L161.6,250.9 M148.9,225.7 l-2.6,1.2 M157.9,225.7 l2.6,1.2" stroke="#a8a8a8" stroke-width="1.3" stroke-linecap="round"/><use href="#mb" transform="matrix(6.20 0 -0.17 35.00 153.49 215.92)" fill="url(#mg)"/><ellipse cx="151.72" cy="222.92" rx="0.74" ry="0.97" fill="#9a9a9a" opacity="0.25"/><ellipse cx="155.19" cy="222.92" rx="0.74" ry="0.97" fill="#9a9a9a" opacity="0.25"/><ellipse cx="153.41" cy="233.42" rx="2.79" ry="3.63" fill="#9a9a9a" opacity="0.1"/><ellipse cx="150.26" cy="242.17" rx="1.55" ry="2.02" fill="#9a9a9a" opacity="0.1"/><ellipse cx="156.46" cy="243.22" rx="1.55" ry="2.02" fill="#9a9a9a" opacity="0.1"/></g>
<g filter="url(#heat)"><rect x="76" y="211" width="94.4" height="83" fill="#000"/><use href="#mb" transform="matrix(7.44 0 -0.13 37.40 92.78 216.11)" fill="rgb(56,56,56)"/><use href="#mb" transform="matrix(5.58 0 -0.13 32.60 92.78 218.11)" fill="rgb(0,0,0)"/><use href="#mb" transform="matrix(4.46 0 -0.04 10.50 92.74 220.00)" fill="rgb(89,89,89)"/><ellipse cx="92.70" cy="236.31" rx="4.92" ry="2.50" fill="#000"/><path d="M86.00,238.41 Q89.61,235.96 92.70,238.06 Q95.81,235.96 99.39,238.41 C99.93,244.71 97.61,251.36 92.64,253.46 C87.69,251.36 85.42,244.71 86.00,238.41Z" fill="rgb(230,230,230)"/><ellipse cx="92.74" cy="227.21" rx="1.55" ry="1.63" fill="rgb(255,255,255)"/><ellipse cx="90.89" cy="223.71" rx="0.93" ry="0.98" fill="rgb(0,0,0)"/><use href="#mb" transform="matrix(7.44 0 0.42 37.40 107.51 216.22)" fill="rgb(56,56,56)"/><use href="#mb" transform="matrix(5.58 0 0.42 32.60 107.51 218.22)" fill="rgb(0,0,0)"/><use href="#mb" transform="matrix(4.46 0 0.13 10.50 107.63 220.11)" fill="rgb(128,128,128)"/><ellipse cx="109.19" cy="222.70" rx="1.14" ry="1.25" fill="rgb(204,204,204)"/><ellipse cx="107.29" cy="229.72" rx="1.12" ry="1.23" fill="rgb(204,204,204)"/><ellipse cx="106.36" cy="230.14" rx="1.63" ry="1.79" fill="rgb(38,38,38)"/><ellipse cx="107.74" cy="236.42" rx="4.18" ry="2.08" fill="#000"/><path d="M101.07,238.52 Q104.64,236.07 107.76,238.17 Q110.84,236.07 114.47,238.52 C115.10,244.82 112.89,251.47 107.95,253.57 C102.97,251.47 100.59,244.82 101.07,238.52Z" fill="rgb(255,255,255)"/><ellipse cx="109.47" cy="225.22" rx="1.86" ry="1.95" fill="rgb(242,242,242)"/><ellipse cx="106.40" cy="228.02" rx="1.55" ry="1.63" fill="rgb(230,230,230)"/><use href="#mb" transform="matrix(7.44 0 -0.71 37.40 123.16 216.34)" fill="rgb(56,56,56)"/><use href="#mb" transform="matrix(5.58 0 -0.71 32.60 123.16 218.34)" fill="rgb(0,0,0)"/><use href="#mb" transform="matrix(4.46 0 -0.21 10.50 122.97 220.23)" fill="rgb(140,140,140)"/><ellipse cx="121.87" cy="228.20" rx="1.64" ry="1.81" fill="rgb(255,255,255)"/><ellipse cx="123.86" cy="232.33" rx="1.67" ry="1.84" fill="rgb(255,255,255)"/><ellipse cx="125.46" cy="227.55" rx="1.50" ry="1.65" fill="rgb(179,179,179)"/><ellipse cx="122.77" cy="236.54" rx="4.92" ry="2.50" fill="#000"/><path d="M116.03,238.64 Q119.67,236.19 122.73,238.29 Q125.87,236.19 129.42,238.64 C129.85,244.94 127.42,251.59 122.42,253.69 C117.50,251.59 115.34,244.94 116.03,238.64Z" fill="rgb(255,255,255)"/><ellipse cx="123.05" cy="222.54" rx="2.17" ry="2.28" fill="rgb(242,242,242)"/><ellipse cx="124.19" cy="227.44" rx="1.24" ry="1.30" fill="rgb(230,230,230)"/><use href="#mb" transform="matrix(7.44 0 -0.21 37.40 137.79 215.85)" fill="rgb(56,56,56)"/><use href="#mb" transform="matrix(5.58 0 -0.21 32.60 137.79 217.85)" fill="rgb(0,0,0)"/><use href="#mb" transform="matrix(4.46 0 -0.06 10.50 137.73 219.74)" fill="rgb(153,153,153)"/><ellipse cx="139.63" cy="224.08" rx="1.32" ry="1.45" fill="rgb(229,229,229)"/><ellipse cx="137.96" cy="227.12" rx="1.46" ry="1.61" fill="rgb(102,102,102)"/><ellipse cx="136.26" cy="222.95" rx="1.92" ry="2.11" fill="rgb(229,229,229)"/><ellipse cx="137.67" cy="236.05" rx="4.92" ry="2.50" fill="#000"/><path d="M130.97,238.15 Q134.58,235.70 137.66,237.80 Q140.78,235.70 144.36,238.15 C144.88,244.45 142.54,251.10 137.57,253.20 C132.62,251.10 130.37,244.45 130.97,238.15Z" fill="rgb(255,255,255)"/><ellipse cx="135.86" cy="227.65" rx="1.24" ry="1.30" fill="rgb(128,128,128)"/><use href="#mb" transform="matrix(7.44 0 -0.17 37.40 153.49 215.32)" fill="rgb(56,56,56)"/><use href="#mb" transform="matrix(5.58 0 -0.17 32.60 153.49 217.32)" fill="rgb(0,0,0)"/><ellipse cx="153.48" cy="217.67" rx="1.55" ry="2.10" fill="rgb(0,0,0)"/><use href="#mb" transform="matrix(4.46 0 -0.05 10.50 153.44 219.21)" fill="rgb(64,64,64)"/><ellipse cx="155.10" cy="228.86" rx="1.31" ry="1.44" fill="rgb(191,191,191)"/><ellipse cx="152.65" cy="229.01" rx="1.83" ry="2.02" fill="rgb(102,102,102)"/><ellipse cx="150.75" cy="243.92" rx="3.41" ry="4.09" fill="rgb(255,255,255)"/><ellipse cx="155.96" cy="243.92" rx="3.41" ry="4.09" fill="rgb(255,255,255)"/><ellipse cx="153.36" cy="243.92" rx="1.86" ry="1.95" fill="rgb(153,153,153)"/></g>
</g>
<clipPath id="cp01"><rect x="76" y="309" width="94.4" height="83.3"/></clipPath>
<g clip-path="url(#cp01)">
<g filter="url(#soft)"><rect x="76" y="309" width="94.4" height="83.3" fill="#414141"/><rect x="82" y="309" width="84.4" height="4.5" fill="#4e4e4e"/><rect x="76" y="309" width="6" height="4.5" fill="#2a2a2a"/><rect x="84.00" y="313.5" width="78.20" height="33.8" fill="#333"/><rect x="83.60" y="313.5" width="2.4" height="33.8" fill="#262626"/><rect x="98.90" y="313.5" width="2.4" height="33.8" fill="#262626"/><rect x="114.20" y="313.5" width="2.4" height="33.8" fill="#262626"/><rect x="129.50" y="313.5" width="2.4" height="33.8" fill="#262626"/><rect x="144.80" y="313.5" width="2.4" height="33.8" fill="#262626"/><rect x="160.10" y="313.5" width="2.4" height="33.8" fill="#262626"/><path d="M92.68,347.91 C93.74,359.95 91.18,370.98 90.33,380.44" fill="none" stroke="#b4b4b4" stroke-width="1.5" stroke-linecap="round"/><path d="M88.2,346.4 L84.4,348.9 M97.2,346.4 L101.0,348.9 M88.1,323.7 l-2.6,1.2 M97.1,323.7 l2.6,1.2" stroke="#a8a8a8" stroke-width="1.3" stroke-linecap="round"/><use href="#mb" transform="matrix(6.20 0 0.12 35.00 92.56 313.91)" fill="url(#mg)"/><ellipse cx="90.85" cy="320.91" rx="0.74" ry="0.97" fill="#9a9a9a" opacity="0.25"/><ellipse cx="94.32" cy="320.91" rx="0.74" ry="0.97" fill="#9a9a9a" opacity="0.25"/><ellipse cx="92.62" cy="331.41" rx="2.79" ry="3.63" fill="#9a9a9a" opacity="0.1"/><ellipse cx="89.55" cy="340.16" rx="1.55" ry="2.02" fill="#9a9a9a" opacity="0.1"/><ellipse cx="95.75" cy="341.21" rx="1.55" ry="2.02" fill="#9a9a9a" opacity="0.1"/><path d="M92.68,347.91 C93.74,359.95 91.18,370.98 90.33,380.44" fill="none" stroke="#4048d8" stroke-width="1.5" opacity="0.75" stroke-dasharray="12.6,200"/><path d="M108.44,348.07 C108.76,359.73 106.93,370.39 108.17,379.52" fill="none" stroke="#b4b4b4" stroke-width="1.5" stroke-linecap="round"/><path d="M103.9,346.6 L100.1,349.1 M112.9,346.6 L116.7,349.1 M103.5,323.9 l-2.6,1.2 M112.5,323.9 l2.6,1.2" stroke="#a8a8a8" stroke-width="1.3" stroke-linecap="round"/><use href="#mb" transform="matrix(6.20 0 0.68 35.00 107.76 314.07)" fill="url(#mg)"/><ellipse cx="106.16" cy="321.07" rx="0.74" ry="0.97" fill="#9a9a9a" opacity="0.25"/><ellipse cx="109.63" cy="321.07" rx="0.74" ry="0.97" fill="#9a9a9a" opacity="0.25"/><ellipse cx="108.10" cy="331.57" rx="2.79" ry="3.63" fill="#9a9a9a" opacity="0.1"/><ellipse cx="105.17" cy="340.32" rx="1.55" ry="2.02" fill="#9a9a9a" opacity="0.1"/><ellipse cx="111.39" cy="341.37" rx="1.55" ry="2.02" fill="#9a9a9a" opacity="0.1"/><path d="M108.44,348.07 C108.76,359.73 106.93,370.39 108.17,379.52" fill="none" stroke="#4048d8" stroke-width="1.5" opacity="0.75" stroke-dasharray="12.2,200"/><path d="M123.05,348.19 C122.26,359.28 119.57,369.38 120.19,378.03" fill="none" stroke="#b4b4b4" stroke-width="1.5" stroke-linecap="round"/><path d="M118.5,346.7 L114.7,349.2 M127.5,346.7 L131.3,349.2 M118.4,324.0 l-2.6,1.2 M127.4,324.0 l2.6,1.2" stroke="#a8a8a8" stroke-width="1.3" stroke-linecap="round"/><use href="#mb" transform="matrix(6.20 0 0.27 35.00 122.78 314.19)" fill="url(#mg)"/><ellipse cx="121.10" cy="321.19" rx="0.74" ry="0.97" fill="#9a9a9a" opacity="0.25"/><ellipse cx="124.57" cy="321.19" rx="0.74" ry="0.97" fill="#9a9a9a" opacity="0.25"/><ellipse cx="122.91" cy="331.69" rx="2.79" ry="3.63" fill="#9a9a9a" opacity="0.1"/><ellipse cx="119.88" cy="340.44" rx="1.55" ry="2.02" fill="#9a9a9a" opacity="0.1"/><ellipse cx="126.09" cy="341.49" rx="1.55" ry="2.02" fill="#9a9a9a" opacity="0.1"/><path d="M123.05,348.19 C122.26,359.28 119.57,369.38 120.19,378.03" fill="none" stroke="#4048d8" stroke-width="1.5" opacity="0.75" stroke-dasharray="11.5,200"/><path d="M138.10,348.22 C137.30,359.49 139.21,369.76 140.90,378.56" fill="none" stroke="#b4b4b4" stroke-width="1.5" stroke-linecap="round"/><path d="M133.6,346.7 L129.8,349.2 M142.6,346.7 L146.4,349.2 M133.4,324.0 l-2.6,1.2 M142.4,324.0 l2.6,1.2" stroke="#a8a8a8" stroke-width="1.3" stroke-linecap="round"/><use href="#mb" transform="matrix(6.20 0 0.29 35.00 137.81 314.22)" fill="url(#mg)"/><ellipse cx="136.13" cy="321.22" rx="0.74" ry="0.97" fill="#9a9a9a" opacity="0.25"/><ellipse cx="139.60" cy="321.22" rx="0.74" ry="0.97" fill="#9a9a9a" opacity="0.25"/><ellipse cx="137.95" cy="331.72" rx="2.79" ry="3.63" fill="#9a9a9a" opacity="0.1"/><ellipse cx="134.93" cy="340.47" rx="1.55" ry="2.02" fill="#9a9a9a" opacity="0.1"/><ellipse cx="141.14" cy="341.52" rx="1.55" ry="2.02" fill="#9a9a9a" opacity="0.1"/><path d="M138.10,348.22 C137.30,359.49 139.21,369.76 140.90,378.56" fill="none" stroke="#4048d8" stroke-width="1.5" opacity="0.75" stroke-dasharray="11.7,200"/><path d="M153.63,348.24 C153.00,359.59 157.74,369.94 157.15,378.81" fill="none" stroke="#b4b4b4" stroke-width="1.5" stroke-linecap="round"/><path d="M149.1,346.7 L145.3,349.2 M158.1,346.7 L161.9,349.2 M149.0,324.0 l-2.6,1.2 M158.0,324.0 l2.6,1.2" stroke="#a8a8a8" stroke-width="1.3" stroke-linecap="round"/><use href="#mb" transform="matrix(6.20 0 0.24 35.00 153.39 314.24)" fill="url(#mg)"/><ellipse cx="151.70" cy="321.24" rx="0.74" ry="0.97" fill="#9a9a9a" opacity="0.25"/><ellipse cx="155.17" cy="321.24" rx="0.74" ry="0.97" fill="#9a9a9a" opacity="0.25"/><ellipse cx="153.51" cy="331.74" rx="2.79" ry="3.63" fill="#9a9a9a" opacity="0.1"/><ellipse cx="150.47" cy="340.49" rx="1.55" ry="2.02" fill="#9a9a9a" opacity="0.1"/><ellipse cx="156.68" cy="341.54" rx="1.55" ry="2.02" fill="#9a9a9a" opacity="0.1"/><path d="M153.63,348.24 C153.00,359.59 157.74,369.94 157.15,378.81" fill="none" stroke="#4048d8" stroke-width="1.5" opacity="0.75" stroke-dasharray="11.8,200"/></g>
<g filter="url(#heat)"><rect x="76" y="309" width="94.4" height="83.3" fill="#000"/><use href="#mb" transform="matrix(7.44 0 0.12 37.40 92.56 313.31)" fill="rgb(56,56,56)"/><use href="#mb" transform="matrix(5.58 0 0.12 32.60 92.56 315.31)" fill="rgb(0,0,0)"/><ellipse cx="92.56" cy="315.66" rx="1.55" ry="2.10" fill="rgb(0,0,0)"/><use href="#mb" transform="matrix(4.46 0 0.04 10.50 92.59 317.20)" fill="rgb(76,76,76)"/><ellipse cx="90.70" cy="324.28" rx="1.40" ry="1.54" fill="rgb(25,25,25)"/><ellipse cx="95.13" cy="326.64" rx="1.43" ry="1.57" fill="rgb(153,153,153)"/><path d="M85.93,333.94 Q89.52,331.22 92.63,333.55 Q95.72,331.22 99.32,333.94 C99.91,340.94 97.64,348.33 92.69,350.66 C87.72,348.33 85.40,340.94 85.93,333.94Z" fill="rgb(255,255,255)"/><ellipse cx="92.59" cy="324.41" rx="1.36" ry="1.43" fill="rgb(242,242,242)"/><ellipse cx="92.61" cy="327.91" rx="0.93" ry="0.98" fill="rgb(0,0,0)"/><use href="#mb" transform="matrix(7.44 0 0.68 37.40 107.76 313.47)" fill="rgb(56,56,56)"/><use href="#mb" transform="matrix(5.58 0 0.68 32.60 107.76 315.47)" fill="rgb(76,76,76)"/><use href="#mb" transform="matrix(5.36 0 0.20 13.12 107.97 316.43)" fill="rgb(255,255,255)"/><ellipse cx="108.10" cy="331.57" rx="5.89" ry="3.50" fill="rgb(56,56,56)"/><path d="M101.45,334.10 Q105.00,331.38 108.14,333.71 Q111.20,331.38 114.85,334.10 C115.54,341.10 113.39,348.49 108.47,350.82 C103.47,348.49 101.03,341.10 101.45,334.10Z" fill="rgb(255,255,255)"/><use href="#mb" transform="matrix(7.44 0 0.27 37.40 122.78 313.59)" fill="rgb(56,56,56)"/><use href="#mb" transform="matrix(5.58 0 0.27 32.60 122.78 315.59)" fill="rgb(51,51,51)"/><use href="#mb" transform="matrix(4.91 0 0.08 11.55 122.85 316.83)" fill="rgb(153,153,153)"/><ellipse cx="124.60" cy="326.34" rx="1.64" ry="1.80" fill="rgb(255,255,255)"/><ellipse cx="120.09" cy="325.64" rx="1.96" ry="2.16" fill="rgb(191,191,191)"/><ellipse cx="121.00" cy="328.60" rx="1.17" ry="1.28" fill="rgb(102,102,102)"/><ellipse cx="122.93" cy="333.79" rx="3.43" ry="1.66" fill="#000"/><path d="M116.24,334.22 Q119.81,331.49 122.93,333.83 Q126.01,331.49 129.63,334.22 C130.24,341.22 128.00,348.61 123.06,350.94 C118.08,348.61 115.73,341.22 116.24,334.22Z" fill="rgb(255,255,255)"/><ellipse cx="122.84" cy="321.89" rx="1.86" ry="1.95" fill="rgb(255,255,255)"/><use href="#mb" transform="matrix(7.44 0 0.29 37.40 137.81 313.62)" fill="rgb(56,56,56)"/><use href="#mb" transform="matrix(5.58 0 0.29 32.60 137.81 315.62)" fill="rgb(76,76,76)"/><use href="#mb" transform="matrix(5.36 0 0.09 12.60 137.90 316.91)" fill="rgb(255,255,255)"/><ellipse cx="137.95" cy="331.72" rx="5.89" ry="3.50" fill="rgb(64,64,64)"/><path d="M131.28,334.25 Q134.85,331.53 137.97,333.86 Q141.05,331.53 144.67,334.25 C145.29,341.25 143.06,348.64 138.12,350.97 C133.14,348.64 130.78,341.25 131.28,334.25Z" fill="rgb(255,255,255)"/><use href="#mb" transform="matrix(7.44 0 0.24 37.40 153.39 313.64)" fill="rgb(56,56,56)"/><use href="#mb" transform="matrix(5.58 0 0.24 32.60 153.39 315.64)" fill="rgb(26,26,26)"/><ellipse cx="153.40" cy="315.99" rx="1.55" ry="2.10" fill="rgb(0,0,0)"/><use href="#mb" transform="matrix(4.46 0 0.07 10.50 153.45 317.53)" fill="rgb(89,89,89)"/><ellipse cx="154.33" cy="322.32" rx="1.71" ry="1.88" fill="rgb(166,166,166)"/><ellipse cx="152.89" cy="328.69" rx="1.34" ry="1.48" fill="rgb(128,128,128)"/><ellipse cx="153.52" cy="333.84" rx="4.92" ry="2.50" fill="#000"/><path d="M146.83,334.94 Q150.41,332.33 153.53,334.57 Q156.61,332.33 160.23,334.94 C160.83,341.66 158.59,348.75 153.64,350.99 C148.67,348.75 146.32,341.66 146.83,334.94Z" fill="rgb(255,255,255)"/></g>
</g>
<clipPath id="cp02"><rect x="76" y="394" width="94.4" height="84"/></clipPath>
<g clip-path="url(#cp02)">
<g filter="url(#soft)"><rect x="76" y="394" width="94.4" height="84" fill="#414141"/><rect x="82" y="394" width="84.4" height="4.5" fill="#4e4e4e"/><rect x="76" y="394" width="6" height="4.5" fill="#2a2a2a"/><rect x="84.00" y="398.5" width="78.20" height="34.3" fill="#333"/><rect x="83.60" y="398.5" width="2.4" height="34.3" fill="#262626"/><rect x="98.90" y="398.5" width="2.4" height="34.3" fill="#262626"/><rect x="114.20" y="398.5" width="2.4" height="34.3" fill="#262626"/><rect x="129.50" y="398.5" width="2.4" height="34.3" fill="#262626"/><rect x="144.80" y="398.5" width="2.4" height="34.3" fill="#262626"/><rect x="160.10" y="398.5" width="2.4" height="34.3" fill="#262626"/><path d="M93.25,433.72 C94.12,445.59 97.78,456.46 96.49,465.78" fill="none" stroke="#b4b4b4" stroke-width="1.5" stroke-linecap="round"/><path d="M88.8,432.2 L85.0,434.7 M97.8,432.2 L101.6,434.7 M88.4,409.9 l-2.6,1.2 M97.4,409.9 l2.6,1.2" stroke="#a8a8a8" stroke-width="1.3" stroke-linecap="round"/><use href="#mb" transform="matrix(6.20 0 0.43 34.50 92.82 400.22)" fill="url(#mg)"/><ellipse cx="91.17" cy="407.12" rx="0.74" ry="0.97" fill="#9a9a9a" opacity="0.25"/><ellipse cx="94.65" cy="407.12" rx="0.74" ry="0.97" fill="#9a9a9a" opacity="0.25"/><ellipse cx="93.04" cy="417.47" rx="2.79" ry="3.63" fill="#9a9a9a" opacity="0.1"/><ellipse cx="90.04" cy="426.10" rx="1.55" ry="2.02" fill="#9a9a9a" opacity="0.1"/><ellipse cx="96.26" cy="427.13" rx="1.55" ry="2.02" fill="#9a9a9a" opacity="0.1"/><path d="M93.25,433.72 C94.12,445.59 97.78,456.46 96.49,465.78" fill="none" stroke="#4a78e8" stroke-width="1.5" opacity="0.75" stroke-dasharray="24.8,200"/><path d="M107.75,433.73 C108.90,445.55 108.83,456.37 107.58,465.65" fill="none" stroke="#b4b4b4" stroke-width="1.5" stroke-linecap="round"/><path d="M103.2,432.2 L99.4,434.7 M112.2,432.2 L116.0,434.7 M103.1,409.9 l-2.6,1.2 M112.1,409.9 l2.6,1.2" stroke="#a8a8a8" stroke-width="1.3" stroke-linecap="round"/><use href="#mb" transform="matrix(6.20 0 0.22 34.50 107.53 400.23)" fill="url(#mg)"/><ellipse cx="105.84" cy="407.13" rx="0.74" ry="0.97" fill="#9a9a9a" opacity="0.25"/><ellipse cx="109.31" cy="407.13" rx="0.74" ry="0.97" fill="#9a9a9a" opacity="0.25"/><ellipse cx="107.64" cy="417.48" rx="2.79" ry="3.63" fill="#9a9a9a" opacity="0.1"/><ellipse cx="104.59" cy="426.10" rx="1.55" ry="2.02" fill="#9a9a9a" opacity="0.1"/><ellipse cx="110.80" cy="427.14" rx="1.55" ry="2.02" fill="#9a9a9a" opacity="0.1"/><path d="M107.75,433.73 C108.90,445.55 108.83,456.37 107.58,465.65" fill="none" stroke="#4a78e8" stroke-width="1.5" opacity="0.75" stroke-dasharray="24.7,200"/><path d="M122.40,433.07 C121.29,445.09 126.60,456.11 126.39,465.55" fill="none" stroke="#b4b4b4" stroke-width="1.5" stroke-linecap="round"/><path d="M117.9,431.6 L114.1,434.1 M126.9,431.6 L130.7,434.1 M118.5,409.2 l-2.6,1.2 M127.5,409.2 l2.6,1.2" stroke="#a8a8a8" stroke-width="1.3" stroke-linecap="round"/><use href="#mb" transform="matrix(6.20 0 -0.76 34.50 123.17 399.57)" fill="url(#mg)"/><ellipse cx="121.28" cy="406.47" rx="0.74" ry="0.97" fill="#9a9a9a" opacity="0.25"/><ellipse cx="124.75" cy="406.47" rx="0.74" ry="0.97" fill="#9a9a9a" opacity="0.25"/><ellipse cx="122.79" cy="416.82" rx="2.79" ry="3.63" fill="#9a9a9a" opacity="0.1"/><ellipse cx="119.49" cy="425.44" rx="1.55" ry="2.02" fill="#9a9a9a" opacity="0.1"/><ellipse cx="125.67" cy="426.48" rx="1.55" ry="2.02" fill="#9a9a9a" opacity="0.1"/><path d="M122.40,433.07 C121.29,445.09 126.60,456.11 126.39,465.55" fill="none" stroke="#4a78e8" stroke-width="1.5" opacity="0.75" stroke-dasharray="25.2,200"/><path d="M138.97,434.04 C138.33,446.15 136.09,457.25 135.64,466.78" fill="none" stroke="#b4b4b4" stroke-width="1.5" stroke-linecap="round"/><path d="M134.5,432.5 L130.7,435.0 M143.5,432.5 L147.3,435.0 M134.0,410.2 l-2.6,1.2 M143.0,410.2 l2.6,1.2" stroke="#a8a8a8" stroke-width="1.3" stroke-linecap="round"/><use href="#mb" transform="matrix(6.20 0 0.63 34.50 138.34 400.54)" fill="url(#mg)"/><ellipse cx="136.73" cy="407.44" rx="0.74" ry="0.97" fill="#9a9a9a" opacity="0.25"/><ellipse cx="140.20" cy="407.44" rx="0.74" ry="0.97" fill="#9a9a9a" opacity="0.25"/><ellipse cx="138.65" cy="417.79" rx="2.79" ry="3.63" fill="#9a9a9a" opacity="0.1"/><ellipse cx="135.71" cy="426.41" rx="1.55" ry="2.02" fill="#9a9a9a" opacity="0.1"/><ellipse cx="141.93" cy="427.45" rx="1.55" ry="2.02" fill="#9a9a9a" opacity="0.1"/><path d="M138.97,434.04 C138.33,446.15 136.09,457.25 135.64,466.78" fill="none" stroke="#4a78e8" stroke-width="1.5" opacity="0.75" stroke-dasharray="25.4,200"/><path d="M153.36,433.91 C154.44,445.64 155.32,456.38 157.35,465.58" fill="none" stroke="#b4b4b4" stroke-width="1.5" stroke-linecap="round"/><path d="M148.9,432.4 L145.1,434.9 M157.9,432.4 L161.7,434.9 M149.2,410.1 l-2.6,1.2 M158.2,410.1 l2.6,1.2" stroke="#a8a8a8" stroke-width="1.3" stroke-linecap="round"/><use href="#mb" transform="matrix(6.20 0 -0.51 34.50 153.87 400.41)" fill="url(#mg)"/><ellipse cx="152.03" cy="407.31" rx="0.74" ry="0.97" fill="#9a9a9a" opacity="0.25"/><ellipse cx="155.50" cy="407.31" rx="0.74" ry="0.97" fill="#9a9a9a" opacity="0.25"/><ellipse cx="153.62" cy="417.66" rx="2.79" ry="3.63" fill="#9a9a9a" opacity="0.1"/><ellipse cx="150.39" cy="426.28" rx="1.55" ry="2.02" fill="#9a9a9a" opacity="0.1"/><ellipse cx="156.57" cy="427.32" rx="1.55" ry="2.02" fill="#9a9a9a" opacity="0.1"/><path d="M153.36,433.91 C154.44,445.64 155.32,456.38 157.35,465.58" fill="none" stroke="#4a78e8" stroke-width="1.5" opacity="0.75" stroke-dasharray="24.5,200"/></g>
<g filter="url(#heat)"><rect x="76" y="394" width="94.4" height="84" fill="#000"/><use href="#mb" transform="matrix(7.44 0 0.43 36.90 92.82 399.62)" fill="rgb(56,56,56)"/><use href="#mb" transform="matrix(5.58 0 0.43 32.10 92.82 401.62)" fill="rgb(89,89,89)"/><use href="#mb" transform="matrix(5.36 0 0.13 12.42 92.94 402.18)" fill="rgb(242,242,242)"/><ellipse cx="93.04" cy="417.47" rx="5.89" ry="3.45" fill="rgb(76,76,76)"/><path d="M86.38,420.29 Q89.94,417.67 93.07,419.92 Q96.14,417.67 99.77,420.29 C100.41,427.06 98.20,434.19 93.27,436.45 C88.28,434.19 85.90,427.06 86.38,420.29Z" fill="rgb(255,255,255)"/><ellipse cx="93.88" cy="410.57" rx="1.24" ry="1.30" fill="rgb(0,0,0)"/><ellipse cx="92.95" cy="410.57" rx="2.48" ry="2.60" fill="rgb(89,89,89)"/><use href="#mb" transform="matrix(7.44 0 0.22 36.90 107.53 399.63)" fill="rgb(56,56,56)"/><use href="#mb" transform="matrix(5.58 0 0.22 32.10 107.53 401.63)" fill="rgb(89,89,89)"/><use href="#mb" transform="matrix(4.82 0 0.06 11.18 107.59 402.96)" fill="rgb(255,255,255)"/><ellipse cx="107.64" cy="417.48" rx="5.89" ry="3.45" fill="rgb(107,107,107)"/><path d="M100.96,420.63 Q104.54,418.05 107.66,420.26 Q110.74,418.05 114.36,420.63 C114.96,427.25 112.70,434.24 107.76,436.45 C102.78,434.24 100.45,427.25 100.96,420.63Z" fill="rgb(255,255,255)"/><ellipse cx="101.74" cy="416.44" rx="0.99" ry="1.79" fill="rgb(255,255,255)"/><ellipse cx="113.52" cy="416.44" rx="0.99" ry="1.79" fill="rgb(255,255,255)"/><ellipse cx="107.64" cy="417.13" rx="2.17" ry="1.30" fill="rgb(56,56,56)"/><use href="#mb" transform="matrix(7.44 0 -0.76 36.90 123.17 398.97)" fill="rgb(56,56,56)"/><use href="#mb" transform="matrix(5.58 0 -0.76 32.10 123.17 400.97)" fill="rgb(89,89,89)"/><use href="#mb" transform="matrix(4.82 0 -0.23 11.18 122.95 402.30)" fill="rgb(255,255,255)"/><ellipse cx="122.79" cy="416.82" rx="5.89" ry="3.45" fill="rgb(97,97,97)"/><path d="M116.02,419.97 Q119.67,417.39 122.72,419.60 Q125.87,417.39 129.41,419.97 C129.82,426.59 127.38,433.59 122.37,435.79 C117.46,433.59 115.32,426.59 116.02,419.97Z" fill="rgb(255,255,255)"/><ellipse cx="116.92" cy="415.78" rx="0.99" ry="1.79" fill="rgb(255,255,255)"/><ellipse cx="128.70" cy="415.78" rx="0.99" ry="1.79" fill="rgb(255,255,255)"/><ellipse cx="122.79" cy="416.47" rx="2.17" ry="1.30" fill="rgb(64,64,64)"/><use href="#mb" transform="matrix(7.44 0 0.63 36.90 138.34 399.94)" fill="rgb(56,56,56)"/><use href="#mb" transform="matrix(5.58 0 0.63 32.10 138.34 401.94)" fill="rgb(115,115,115)"/><use href="#mb" transform="matrix(4.82 0 0.19 11.18 138.52 403.27)" fill="rgb(255,255,255)"/><ellipse cx="138.65" cy="417.79" rx="5.89" ry="3.45" fill="rgb(128,128,128)"/><path d="M132.02,420.94 Q135.56,418.36 138.70,420.57 Q141.76,418.36 145.41,420.94 C146.09,427.56 143.92,434.56 139.00,436.76 C134.00,434.56 131.58,427.56 132.02,420.94Z" fill="rgb(255,255,255)"/><ellipse cx="132.75" cy="416.75" rx="0.99" ry="1.79" fill="rgb(255,255,255)"/><ellipse cx="144.53" cy="416.75" rx="0.99" ry="1.79" fill="rgb(255,255,255)"/><use href="#mb" transform="matrix(7.44 0 -0.51 36.90 153.87 399.81)" fill="rgb(56,56,56)"/><use href="#mb" transform="matrix(5.58 0 -0.51 32.10 153.87 401.81)" fill="rgb(64,64,64)"/><use href="#mb" transform="matrix(4.46 0 -0.15 10.35 153.73 403.65)" fill="rgb(102,102,102)"/><ellipse cx="155.21" cy="406.80" rx="1.73" ry="1.90" fill="rgb(13,13,13)"/><ellipse cx="153.34" cy="414.20" rx="1.97" ry="2.17" fill="rgb(13,13,13)"/><ellipse cx="151.14" cy="406.98" rx="1.54" ry="1.70" fill="rgb(178,178,178)"/><ellipse cx="153.59" cy="419.73" rx="4.55" ry="2.26" fill="#000"/><path d="M146.88,420.15 Q150.52,417.47 153.58,419.77 Q156.72,417.47 160.28,420.15 C160.73,427.05 158.33,434.33 153.34,436.63 C148.41,434.33 146.22,427.05 146.88,420.15Z" fill="rgb(255,255,255)"/><ellipse cx="155.16" cy="418.35" rx="1.86" ry="1.95" fill="rgb(0,0,0)"/></g>
</g>
<clipPath id="cp03"><rect x="76" y="480" width="94.4" height="76"/></clipPath>
<g clip-path="url(#cp03)">
<g filter="url(#soft)"><rect x="76" y="480" width="94.4" height="76" fill="#414141"/><rect x="82" y="480" width="84.4" height="8" fill="#646464"/><rect x="76" y="480" width="6" height="8" fill="#2a2a2a"/><rect x="84.00" y="488" width="78.20" height="35.6" fill="#333"/><rect x="83.60" y="488" width="2.4" height="35.6" fill="#262626"/><rect x="98.90" y="488" width="2.4" height="35.6" fill="#262626"/><rect x="114.20" y="488" width="2.4" height="35.6" fill="#262626"/><rect x="129.50" y="488" width="2.4" height="35.6" fill="#262626"/><rect x="144.80" y="488" width="2.4" height="35.6" fill="#262626"/><rect x="160.10" y="488" width="2.4" height="35.6" fill="#262626"/><path d="M91.78,524.15 C90.93,535.47 92.47,545.79 93.01,554.63" fill="none" stroke="#b4b4b4" stroke-width="1.5" stroke-linecap="round"/><path d="M87.3,522.6 L83.5,525.1 M96.3,522.6 L100.1,525.1 M87.8,499.8 l-2.6,1.2 M96.8,499.8 l2.6,1.2" stroke="#a8a8a8" stroke-width="1.3" stroke-linecap="round"/><use href="#mb" transform="matrix(6.80 0 -0.75 35.20 92.53 489.95)" fill="url(#mg)"/><ellipse cx="90.48" cy="496.99" rx="0.82" ry="1.06" fill="#9a9a9a" opacity="0.25"/><ellipse cx="94.28" cy="496.99" rx="0.82" ry="1.06" fill="#9a9a9a" opacity="0.25"/><ellipse cx="92.16" cy="507.55" rx="3.06" ry="3.98" fill="#9a9a9a" opacity="0.1"/><ellipse cx="88.57" cy="516.35" rx="1.70" ry="2.21" fill="#9a9a9a" opacity="0.1"/><ellipse cx="95.34" cy="517.40" rx="1.70" ry="2.21" fill="#9a9a9a" opacity="0.1"/><path d="M91.78,524.15 C90.93,535.47 92.47,545.79 93.01,554.63" fill="none" stroke="#4048d8" stroke-width="1.5" opacity="0.75" stroke-dasharray="11.8,200"/><path d="M107.24,523.93 C105.84,535.25 107.49,545.57 108.71,554.42" fill="none" stroke="#b4b4b4" stroke-width="1.5" stroke-linecap="round"/><path d="M102.7,522.4 L98.9,524.9 M111.7,522.4 L115.5,524.9 M102.9,499.6 l-2.6,1.2 M111.9,499.6 l2.6,1.2" stroke="#a8a8a8" stroke-width="1.3" stroke-linecap="round"/><use href="#mb" transform="matrix(6.80 0 -0.17 35.20 107.41 489.73)" fill="url(#mg)"/><ellipse cx="105.47" cy="496.77" rx="0.82" ry="1.06" fill="#9a9a9a" opacity="0.25"/><ellipse cx="109.28" cy="496.77" rx="0.82" ry="1.06" fill="#9a9a9a" opacity="0.25"/><ellipse cx="107.32" cy="507.33" rx="3.06" ry="3.98" fill="#9a9a9a" opacity="0.1"/><ellipse cx="103.88" cy="516.13" rx="1.70" ry="2.21" fill="#9a9a9a" opacity="0.1"/><ellipse cx="110.68" cy="517.19" rx="1.70" ry="2.21" fill="#9a9a9a" opacity="0.1"/><path d="M107.24,523.93 C105.84,535.25 107.49,545.57 108.71,554.42" fill="none" stroke="#4048d8" stroke-width="1.5" opacity="0.75" stroke-dasharray="14.7,200"/><path d="M122.15,524.06 C123.35,535.71 123.43,546.36 125.35,555.49" fill="none" stroke="#b4b4b4" stroke-width="1.5" stroke-linecap="round"/><path d="M117.6,522.6 L113.8,525.1 M126.6,522.6 L130.4,525.1 M117.9,499.7 l-2.6,1.2 M126.9,499.7 l2.6,1.2" stroke="#a8a8a8" stroke-width="1.3" stroke-linecap="round"/><use href="#mb" transform="matrix(6.80 0 -0.31 35.20 122.46 489.86)" fill="url(#mg)"/><ellipse cx="120.49" cy="496.90" rx="0.82" ry="1.06" fill="#9a9a9a" opacity="0.25"/><ellipse cx="124.30" cy="496.90" rx="0.82" ry="1.06" fill="#9a9a9a" opacity="0.25"/><ellipse cx="122.30" cy="507.46" rx="3.06" ry="3.98" fill="#9a9a9a" opacity="0.1"/><ellipse cx="118.83" cy="516.26" rx="1.70" ry="2.21" fill="#9a9a9a" opacity="0.1"/><ellipse cx="125.62" cy="517.31" rx="1.70" ry="2.21" fill="#9a9a9a" opacity="0.1"/><path d="M122.15,524.06 C123.35,535.71 123.43,546.36 125.35,555.49" fill="none" stroke="#4048d8" stroke-width="1.5" opacity="0.75" stroke-dasharray="15.2,200"/><path d="M138.56,524.56 C139.95,536.20 138.60,546.84 136.78,555.96" fill="none" stroke="#b4b4b4" stroke-width="1.5" stroke-linecap="round"/><path d="M134.1,523.1 L130.3,525.6 M143.1,523.1 L146.9,525.6 M133.7,500.2 l-2.6,1.2 M142.7,500.2 l2.6,1.2" stroke="#a8a8a8" stroke-width="1.3" stroke-linecap="round"/><use href="#mb" transform="matrix(6.80 0 0.51 35.20 138.06 490.36)" fill="url(#mg)"/><ellipse cx="136.25" cy="497.40" rx="0.82" ry="1.06" fill="#9a9a9a" opacity="0.25"/><ellipse cx="140.06" cy="497.40" rx="0.82" ry="1.06" fill="#9a9a9a" opacity="0.25"/><ellipse cx="138.31" cy="507.96" rx="3.06" ry="3.98" fill="#9a9a9a" opacity="0.1"/><ellipse cx="135.04" cy="516.76" rx="1.70" ry="2.21" fill="#9a9a9a" opacity="0.1"/><ellipse cx="141.85" cy="517.81" rx="1.70" ry="2.21" fill="#9a9a9a" opacity="0.1"/><path d="M138.56,524.56 C139.95,536.20 138.60,546.84 136.78,555.96" fill="none" stroke="#4048d8" stroke-width="1.5" opacity="0.75" stroke-dasharray="15.2,200"/><path d="M154.27,524.50 C154.05,536.40 158.94,547.30 157.46,556.65" fill="none" stroke="#b4b4b4" stroke-width="1.5" stroke-linecap="round"/><path d="M149.8,523.0 L146.0,525.5 M158.8,523.0 L162.6,525.5 M149.4,500.2 l-2.6,1.2 M158.4,500.2 l2.6,1.2" stroke="#a8a8a8" stroke-width="1.3" stroke-linecap="round"/><use href="#mb" transform="matrix(6.80 0 0.55 35.20 153.72 490.30)" fill="url(#mg)"/><ellipse cx="151.93" cy="497.34" rx="0.82" ry="1.06" fill="#9a9a9a" opacity="0.25"/><ellipse cx="155.74" cy="497.34" rx="0.82" ry="1.06" fill="#9a9a9a" opacity="0.25"/><ellipse cx="154.00" cy="507.90" rx="3.06" ry="3.98" fill="#9a9a9a" opacity="0.1"/><ellipse cx="150.74" cy="516.70" rx="1.70" ry="2.21" fill="#9a9a9a" opacity="0.1"/><ellipse cx="157.55" cy="517.76" rx="1.70" ry="2.21" fill="#9a9a9a" opacity="0.1"/><path d="M154.27,524.50 C154.05,536.40 158.94,547.30 157.46,556.65" fill="none" stroke="#4048d8" stroke-width="1.5" opacity="0.75" stroke-dasharray="12.5,200"/></g>
<g filter="url(#heat)"><rect x="76" y="480" width="94.4" height="76" fill="#000"/><use href="#mb" transform="matrix(8.16 0 -0.75 37.60 92.53 489.35)" fill="rgb(56,56,56)"/><use href="#mb" transform="matrix(6.12 0 -0.75 32.80 92.53 491.35)" fill="rgb(0,0,0)"/><ellipse cx="92.49" cy="491.71" rx="1.70" ry="2.11" fill="rgb(0,0,0)"/><use href="#mb" transform="matrix(4.90 0 -0.23 10.56 92.32 493.26)" fill="rgb(64,64,64)"/><ellipse cx="93.07" cy="505.32" rx="1.66" ry="1.83" fill="rgb(191,191,191)"/><ellipse cx="95.39" cy="497.44" rx="1.29" ry="1.42" fill="rgb(13,13,13)"/><path d="M84.79,508.41 Q88.80,505.40 92.15,507.98 Q95.60,505.40 99.48,508.41 C99.93,516.15 97.24,524.33 91.74,526.91 C86.36,524.33 84.02,516.15 84.79,508.41Z" fill="rgb(255,255,255)"/><ellipse cx="92.31" cy="500.51" rx="1.36" ry="1.43" fill="rgb(242,242,242)"/><use href="#mb" transform="matrix(8.16 0 -0.17 37.60 107.41 489.13)" fill="rgb(56,56,56)"/><use href="#mb" transform="matrix(6.12 0 -0.17 32.80 107.41 491.13)" fill="rgb(0,0,0)"/><use href="#mb" transform="matrix(4.90 0 -0.05 10.56 107.36 493.04)" fill="rgb(115,115,115)"/><ellipse cx="108.95" cy="496.22" rx="1.93" ry="2.12" fill="rgb(26,26,26)"/><ellipse cx="105.13" cy="500.32" rx="1.65" ry="1.82" fill="rgb(191,191,191)"/><path d="M99.98,508.20 Q103.93,505.18 107.32,507.77 Q110.73,505.18 114.66,508.20 C115.24,515.94 112.68,524.11 107.23,526.69 C101.80,524.11 99.33,515.94 99.98,508.20Z" fill="rgb(255,255,255)"/><ellipse cx="107.38" cy="495.01" rx="2.38" ry="2.50" fill="rgb(255,255,255)"/><ellipse cx="109.73" cy="501.35" rx="1.70" ry="1.78" fill="rgb(230,230,230)"/><use href="#mb" transform="matrix(8.16 0 -0.31 37.60 122.46 489.26)" fill="rgb(56,56,56)"/><use href="#mb" transform="matrix(6.12 0 -0.31 32.80 122.46 491.26)" fill="rgb(51,51,51)"/><use href="#mb" transform="matrix(4.90 0 -0.09 10.56 122.37 493.17)" fill="rgb(115,115,115)"/><ellipse cx="122.39" cy="503.69" rx="1.72" ry="1.89" fill="rgb(191,191,191)"/><ellipse cx="121.63" cy="494.79" rx="1.94" ry="2.14" fill="rgb(64,64,64)"/><path d="M114.95,508.32 Q118.92,505.31 122.30,507.89 Q125.72,505.31 129.64,508.32 C130.18,516.06 127.59,524.24 122.13,526.82 C116.71,524.24 114.27,516.06 114.95,508.32Z" fill="rgb(255,255,255)"/><ellipse cx="124.41" cy="500.42" rx="1.70" ry="1.78" fill="rgb(255,255,255)"/><ellipse cx="120.33" cy="499.71" rx="1.70" ry="1.78" fill="rgb(242,242,242)"/><use href="#mb" transform="matrix(8.16 0 0.51 37.60 138.06 489.76)" fill="rgb(56,56,56)"/><use href="#mb" transform="matrix(6.12 0 0.51 32.80 138.06 491.76)" fill="rgb(64,64,64)"/><use href="#mb" transform="matrix(5.88 0 0.15 14.26 138.18 490.32)" fill="rgb(255,255,255)"/><path d="M130.98,508.82 Q134.88,505.81 138.32,508.39 Q141.68,505.81 145.67,508.82 C146.39,516.56 143.99,524.74 138.59,527.32 C133.11,524.74 130.48,516.56 130.98,508.82Z" fill="rgb(255,255,255)"/><use href="#mb" transform="matrix(8.16 0 0.55 37.60 153.72 489.70)" fill="rgb(56,56,56)"/><use href="#mb" transform="matrix(6.12 0 0.55 32.80 153.72 491.70)" fill="rgb(0,0,0)"/><ellipse cx="153.75" cy="492.06" rx="1.70" ry="2.11" fill="rgb(0,0,0)"/><use href="#mb" transform="matrix(4.90 0 0.16 10.56 153.88 493.61)" fill="rgb(64,64,64)"/><ellipse cx="153.39" cy="498.46" rx="1.31" ry="1.45" fill="rgb(191,191,191)"/><ellipse cx="155.79" cy="496.25" rx="1.55" ry="1.71" fill="rgb(0,0,0)"/><path d="M146.69,510.45 Q150.59,507.71 154.03,510.05 Q157.39,507.71 161.38,510.45 C162.10,517.49 159.70,524.92 154.30,527.26 C148.82,524.92 146.19,517.49 146.69,510.45Z" fill="rgb(255,255,255)"/></g>
</g>
<clipPath id="cp04"><rect x="76" y="558.2" width="94.4" height="75"/></clipPath>
<g clip-path="url(#cp04)">
<g filter="url(#soft)"><rect x="76" y="558.2" width="94.4" height="75" fill="#414141"/><rect x="82" y="558.2" width="84.4" height="4.5" fill="#4e4e4e"/><rect x="76" y="558.2" width="6" height="4.5" fill="#2a2a2a"/><rect x="84.00" y="562.7" width="78.20" height="34.2" fill="#333"/><rect x="83.60" y="562.7" width="2.4" height="34.2" fill="#262626"/><rect x="98.90" y="562.7" width="2.4" height="34.2" fill="#262626"/><rect x="114.20" y="562.7" width="2.4" height="34.2" fill="#262626"/><rect x="129.50" y="562.7" width="2.4" height="34.2" fill="#262626"/><rect x="144.80" y="562.7" width="2.4" height="34.2" fill="#262626"/><rect x="160.10" y="562.7" width="2.4" height="34.2" fill="#262626"/><path d="M91.72,598.15 C92.20,611.38 88.66,623.61 89.98,634.09" fill="none" stroke="#b4b4b4" stroke-width="1.5" stroke-linecap="round"/><path d="M87.2,596.7 L83.4,599.2 M96.2,596.7 L100.0,599.2 M87.8,573.6 l-2.6,1.2 M96.8,573.6 l2.6,1.2" stroke="#a8a8a8" stroke-width="1.3" stroke-linecap="round"/><use href="#mb" transform="matrix(6.30 0 -0.75 35.50 92.47 563.65)" fill="url(#mg)"/><ellipse cx="90.55" cy="570.75" rx="0.76" ry="0.98" fill="#9a9a9a" opacity="0.25"/><ellipse cx="94.08" cy="570.75" rx="0.76" ry="0.98" fill="#9a9a9a" opacity="0.25"/><ellipse cx="92.09" cy="581.40" rx="2.83" ry="3.69" fill="#9a9a9a" opacity="0.1"/><ellipse cx="88.76" cy="590.28" rx="1.57" ry="2.05" fill="#9a9a9a" opacity="0.1"/><ellipse cx="95.03" cy="591.34" rx="1.57" ry="2.05" fill="#9a9a9a" opacity="0.1"/><path d="M91.72,598.15 C92.20,611.38 88.66,623.61 89.98,634.09" fill="none" stroke="#4048d8" stroke-width="1.5" opacity="0.75" stroke-dasharray="10.5,200"/><path d="M107.17,597.38 C108.26,610.47 110.36,622.57 110.48,632.93" fill="none" stroke="#b4b4b4" stroke-width="1.5" stroke-linecap="round"/><path d="M102.7,595.9 L98.9,598.4 M111.7,595.9 L115.5,598.4 M103.1,572.8 l-2.6,1.2 M112.1,572.8 l2.6,1.2" stroke="#a8a8a8" stroke-width="1.3" stroke-linecap="round"/><use href="#mb" transform="matrix(6.30 0 -0.53 35.50 107.70 562.88)" fill="url(#mg)"/><ellipse cx="105.83" cy="569.98" rx="0.76" ry="0.98" fill="#9a9a9a" opacity="0.25"/><ellipse cx="109.36" cy="569.98" rx="0.76" ry="0.98" fill="#9a9a9a" opacity="0.25"/><ellipse cx="107.44" cy="580.63" rx="2.83" ry="3.69" fill="#9a9a9a" opacity="0.1"/><ellipse cx="104.15" cy="589.50" rx="1.57" ry="2.05" fill="#9a9a9a" opacity="0.1"/><ellipse cx="110.44" cy="590.57" rx="1.57" ry="2.05" fill="#9a9a9a" opacity="0.1"/><path d="M107.17,597.38 C108.26,610.47 110.36,622.57 110.48,632.93" fill="none" stroke="#4048d8" stroke-width="1.5" opacity="0.75" stroke-dasharray="10.4,200"/><path d="M122.55,597.13 C123.04,610.48 122.13,622.83 120.34,633.41" fill="none" stroke="#b4b4b4" stroke-width="1.5" stroke-linecap="round"/><path d="M118.1,595.6 L114.3,598.1 M127.1,595.6 L130.9,598.1 M118.3,572.6 l-2.6,1.2 M127.3,572.6 l2.6,1.2" stroke="#a8a8a8" stroke-width="1.3" stroke-linecap="round"/><use href="#mb" transform="matrix(6.30 0 -0.36 35.50 122.91 562.63)" fill="url(#mg)"/><ellipse cx="121.08" cy="569.73" rx="0.76" ry="0.98" fill="#9a9a9a" opacity="0.25"/><ellipse cx="124.60" cy="569.73" rx="0.76" ry="0.98" fill="#9a9a9a" opacity="0.25"/><ellipse cx="122.73" cy="580.38" rx="2.83" ry="3.69" fill="#9a9a9a" opacity="0.1"/><ellipse cx="119.49" cy="589.26" rx="1.57" ry="2.05" fill="#9a9a9a" opacity="0.1"/><ellipse cx="125.78" cy="590.32" rx="1.57" ry="2.05" fill="#9a9a9a" opacity="0.1"/><path d="M122.55,597.13 C123.04,610.48 122.13,622.83 120.34,633.41" fill="none" stroke="#4048d8" stroke-width="1.5" opacity="0.75" stroke-dasharray="10.6,200"/><path d="M137.06,597.94 C138.20,610.93 136.60,622.93 136.76,633.21" fill="none" stroke="#b4b4b4" stroke-width="1.5" stroke-linecap="round"/><path d="M132.6,596.4 L128.8,598.9 M141.6,596.4 L145.4,598.9 M133.0,573.4 l-2.6,1.2 M142.0,573.4 l2.6,1.2" stroke="#a8a8a8" stroke-width="1.3" stroke-linecap="round"/><use href="#mb" transform="matrix(6.30 0 -0.57 35.50 137.63 563.44)" fill="url(#mg)"/><ellipse cx="135.75" cy="570.54" rx="0.76" ry="0.98" fill="#9a9a9a" opacity="0.25"/><ellipse cx="139.28" cy="570.54" rx="0.76" ry="0.98" fill="#9a9a9a" opacity="0.25"/><ellipse cx="137.35" cy="581.19" rx="2.83" ry="3.69" fill="#9a9a9a" opacity="0.1"/><ellipse cx="134.05" cy="590.06" rx="1.57" ry="2.05" fill="#9a9a9a" opacity="0.1"/><ellipse cx="140.34" cy="591.13" rx="1.57" ry="2.05" fill="#9a9a9a" opacity="0.1"/><path d="M137.06,597.94 C138.20,610.93 136.60,622.93 136.76,633.21" fill="none" stroke="#4048d8" stroke-width="1.5" opacity="0.75" stroke-dasharray="10.3,200"/><path d="M154.21,597.75 C152.06,610.34 150.34,621.94 151.62,631.88" fill="none" stroke="#b4b4b4" stroke-width="1.5" stroke-linecap="round"/><path d="M149.7,596.3 L145.9,598.8 M158.7,596.3 L162.5,598.8 M149.3,573.2 l-2.6,1.2 M158.3,573.2 l2.6,1.2" stroke="#a8a8a8" stroke-width="1.3" stroke-linecap="round"/><use href="#mb" transform="matrix(6.30 0 0.58 35.50 153.63 563.25)" fill="url(#mg)"/><ellipse cx="151.98" cy="570.35" rx="0.76" ry="0.98" fill="#9a9a9a" opacity="0.25"/><ellipse cx="155.51" cy="570.35" rx="0.76" ry="0.98" fill="#9a9a9a" opacity="0.25"/><ellipse cx="153.92" cy="581.00" rx="2.83" ry="3.69" fill="#9a9a9a" opacity="0.1"/><ellipse cx="150.91" cy="589.88" rx="1.57" ry="2.05" fill="#9a9a9a" opacity="0.1"/><ellipse cx="157.23" cy="590.94" rx="1.57" ry="2.05" fill="#9a9a9a" opacity="0.1"/><path d="M154.21,597.75 C152.06,610.34 150.34,621.94 151.62,631.88" fill="none" stroke="#4048d8" stroke-width="1.5" opacity="0.75" stroke-dasharray="9.9,200"/></g>
<g filter="url(#heat)"><rect x="76" y="558.2" width="94.4" height="75" fill="#000"/><use href="#mb" transform="matrix(7.56 0 -0.75 37.90 92.47 563.05)" fill="rgb(51,51,51)"/><use href="#mb" transform="matrix(5.67 0 -0.75 33.10 92.47 565.05)" fill="rgb(0,0,0)"/><path d="M86.53,587.23 Q89.49,585.24 91.98,586.94 Q94.53,585.24 97.41,587.23 C97.76,592.34 95.78,597.73 91.71,599.44 C87.72,597.73 85.96,592.34 86.53,587.23Z" fill="rgb(242,242,242)"/><ellipse cx="92.28" cy="572.53" rx="1.39" ry="1.46" fill="rgb(76,76,76)"/><use href="#mb" transform="matrix(7.56 0 -0.53 37.90 107.70 562.28)" fill="rgb(56,56,56)"/><use href="#mb" transform="matrix(5.67 0 -0.53 33.10 107.70 564.28)" fill="rgb(0,0,0)"/><use href="#mb" transform="matrix(4.54 0 -0.16 10.65 107.56 566.21)" fill="rgb(76,76,76)"/><ellipse cx="106.85" cy="575.64" rx="1.64" ry="1.81" fill="rgb(25,25,25)"/><path d="M101.37,585.82 Q104.62,583.64 107.36,585.51 Q110.16,583.64 113.35,585.82 C113.76,591.45 111.62,597.38 107.16,599.26 C102.75,597.38 100.79,591.45 101.37,585.82Z" fill="rgb(255,255,255)"/><ellipse cx="109.47" cy="571.40" rx="1.57" ry="1.65" fill="rgb(242,242,242)"/><use href="#mb" transform="matrix(7.56 0 -0.36 37.90 122.91 562.03)" fill="rgb(51,51,51)"/><use href="#mb" transform="matrix(5.67 0 -0.36 33.10 122.91 564.03)" fill="rgb(0,0,0)"/><path d="M117.09,586.05 Q120.11,584.01 122.68,585.75 Q125.28,584.01 128.25,586.05 C128.67,591.29 126.70,596.82 122.55,598.56 C118.43,596.82 116.58,591.29 117.09,586.05Z" fill="rgb(217,217,217)"/><ellipse cx="124.69" cy="573.28" rx="2.65" ry="2.78" fill="rgb(76,76,76)"/><ellipse cx="124.69" cy="573.28" rx="1.57" ry="1.65" fill="rgb(242,242,242)"/><ellipse cx="122.61" cy="592.81" rx="1.89" ry="1.98" fill="rgb(153,153,153)"/><use href="#mb" transform="matrix(7.56 0 -0.57 37.90 137.63 562.84)" fill="rgb(56,56,56)"/><use href="#mb" transform="matrix(5.67 0 -0.57 33.10 137.63 564.84)" fill="rgb(0,0,0)"/><use href="#mb" transform="matrix(4.99 0 -0.17 11.72 137.51 563.98)" fill="rgb(255,255,255)"/><ellipse cx="137.31" cy="583.32" rx="4.60" ry="2.32" fill="#000"/><path d="M130.81,585.84 Q134.32,583.48 137.28,585.50 Q140.30,583.48 143.74,585.84 C144.18,591.91 141.86,598.31 137.04,600.34 C132.28,598.31 130.17,591.91 130.81,585.84Z" fill="rgb(255,255,255)"/><use href="#mb" transform="matrix(7.56 0 0.58 37.90 153.63 562.65)" fill="rgb(56,56,56)"/><use href="#mb" transform="matrix(5.67 0 0.58 33.10 153.63 564.65)" fill="rgb(0,0,0)"/><use href="#mb" transform="matrix(4.54 0 0.17 10.65 153.79 566.59)" fill="rgb(64,64,64)"/><ellipse cx="150.95" cy="569.89" rx="1.59" ry="1.75" fill="rgb(102,102,102)"/><ellipse cx="154.87" cy="572.25" rx="1.49" ry="1.64" fill="rgb(102,102,102)"/><ellipse cx="151.87" cy="590.94" rx="3.15" ry="3.31" fill="rgb(255,255,255)"/><ellipse cx="156.61" cy="591.65" rx="2.20" ry="2.32" fill="rgb(102,102,102)"/></g>
</g>
<clipPath id="cp10"><rect x="171.5" y="211" width="94.2" height="83"/></clipPath>
<g clip-path="url(#cp10)">
<g filter="url(#soft)"><rect x="171.5" y="211" width="94.2" height="83" fill="#414141"/><rect x="177.5" y="211" width="84.2" height="4.5" fill="#4e4e4e"/><rect x="171.5" y="211" width="6" height="4.5" fill="#2a2a2a"/><rect x="179.50" y="215.5" width="78.20" height="34.1" fill="#333"/><rect x="179.10" y="215.5" width="2.4" height="34.1" fill="#262626"/><rect x="194.40" y="215.5" width="2.4" height="34.1" fill="#262626"/><rect x="209.70" y="215.5" width="2.4" height="34.1" fill="#262626"/><rect x="225.00" y="215.5" width="2.4" height="34.1" fill="#262626"/><rect x="240.30" y="215.5" width="2.4" height="34.1" fill="#262626"/><rect x="255.60" y="215.5" width="2.4" height="34.1" fill="#262626"/><path d="M188.15,250.35 C188.05,262.84 190.83,274.34 189.79,284.20" fill="none" stroke="#b4b4b4" stroke-width="1.5" stroke-linecap="round"/><path d="M183.6,248.8 L179.8,251.3 M192.6,248.8 L196.4,251.3 M183.3,226.1 l-2.6,1.2 M192.3,226.1 l2.6,1.2" stroke="#a8a8a8" stroke-width="1.3" stroke-linecap="round"/><use href="#mb" transform="matrix(6.20 0 0.43 35.00 187.72 216.35)" fill="url(#mg)"/><ellipse cx="186.07" cy="223.35" rx="0.74" ry="0.97" fill="#9a9a9a" opacity="0.25"/><ellipse cx="189.54" cy="223.35" rx="0.74" ry="0.97" fill="#9a9a9a" opacity="0.25"/><ellipse cx="187.93" cy="233.85" rx="2.79" ry="3.63" fill="#9a9a9a" opacity="0.1"/><ellipse cx="184.94" cy="242.60" rx="1.55" ry="2.02" fill="#9a9a9a" opacity="0.1"/><ellipse cx="191.15" cy="243.65" rx="1.55" ry="2.02" fill="#9a9a9a" opacity="0.1"/><path d="M204.11,250.03 C205.10,262.36 206.02,273.69 207.50,283.40" fill="none" stroke="#b4b4b4" stroke-width="1.5" stroke-linecap="round"/><path d="M199.6,248.5 L195.8,251.0 M208.6,248.5 L212.4,251.0 M199.1,225.8 l-2.6,1.2 M208.1,225.8 l2.6,1.2" stroke="#a8a8a8" stroke-width="1.3" stroke-linecap="round"/><use href="#mb" transform="matrix(6.20 0 0.74 35.00 203.36 216.03)" fill="url(#mg)"/><ellipse cx="201.78" cy="223.03" rx="0.74" ry="0.97" fill="#9a9a9a" opacity="0.25"/><ellipse cx="205.25" cy="223.03" rx="0.74" ry="0.97" fill="#9a9a9a" opacity="0.25"/><ellipse cx="203.74" cy="233.53" rx="2.79" ry="3.63" fill="#9a9a9a" opacity="0.1"/><ellipse cx="200.82" cy="242.28" rx="1.55" ry="2.02" fill="#9a9a9a" opacity="0.1"/><ellipse cx="207.05" cy="243.33" rx="1.55" ry="2.02" fill="#9a9a9a" opacity="0.1"/><path d="M217.49,250.54 C217.20,262.84 219.49,274.14 219.19,283.82" fill="none" stroke="#b4b4b4" stroke-width="1.5" stroke-linecap="round"/><path d="M213.0,249.0 L209.2,251.5 M222.0,249.0 L225.8,251.5 M213.4,226.3 l-2.6,1.2 M222.4,226.3 l2.6,1.2" stroke="#a8a8a8" stroke-width="1.3" stroke-linecap="round"/><use href="#mb" transform="matrix(6.20 0 -0.53 35.00 218.02 216.54)" fill="url(#mg)"/><ellipse cx="216.18" cy="223.54" rx="0.74" ry="0.97" fill="#9a9a9a" opacity="0.25"/><ellipse cx="219.65" cy="223.54" rx="0.74" ry="0.97" fill="#9a9a9a" opacity="0.25"/><ellipse cx="217.75" cy="234.04" rx="2.79" ry="3.63" fill="#9a9a9a" opacity="0.1"/><ellipse cx="214.52" cy="242.79" rx="1.55" ry="2.02" fill="#9a9a9a" opacity="0.1"/><ellipse cx="220.71" cy="243.84" rx="1.55" ry="2.02" fill="#9a9a9a" opacity="0.1"/><path d="M234.23,250.35 C232.73,262.30 236.34,273.26 236.11,282.64" fill="none" stroke="#b4b4b4" stroke-width="1.5" stroke-linecap="round"/><path d="M229.7,248.8 L225.9,251.3 M238.7,248.8 L242.5,251.3 M229.5,226.1 l-2.6,1.2 M238.5,226.1 l2.6,1.2" stroke="#a8a8a8" stroke-width="1.3" stroke-linecap="round"/><use href="#mb" transform="matrix(6.20 0 0.35 35.00 233.88 216.35)" fill="url(#mg)"/><ellipse cx="232.22" cy="223.35" rx="0.74" ry="0.97" fill="#9a9a9a" opacity="0.25"/><ellipse cx="235.69" cy="223.35" rx="0.74" ry="0.97" fill="#9a9a9a" opacity="0.25"/><ellipse cx="234.06" cy="233.85" rx="2.79" ry="3.63" fill="#9a9a9a" opacity="0.1"/><ellipse cx="231.05" cy="242.60" rx="1.55" ry="2.02" fill="#9a9a9a" opacity="0.1"/><ellipse cx="237.26" cy="243.65" rx="1.55" ry="2.02" fill="#9a9a9a" opacity="0.1"/><path d="M249.94,250.85 C250.58,262.75 249.20,273.65 247.76,282.99" fill="none" stroke="#b4b4b4" stroke-width="1.5" stroke-linecap="round"/><path d="M245.4,249.3 L241.6,251.8 M254.4,249.3 L258.2,251.8 M245.2,226.6 l-2.6,1.2 M254.2,226.6 l2.6,1.2" stroke="#a8a8a8" stroke-width="1.3" stroke-linecap="round"/><use href="#mb" transform="matrix(6.20 0 0.37 35.00 249.57 216.85)" fill="url(#mg)"/><ellipse cx="247.91" cy="223.85" rx="0.74" ry="0.97" fill="#9a9a9a" opacity="0.25"/><ellipse cx="251.38" cy="223.85" rx="0.74" ry="0.97" fill="#9a9a9a" opacity="0.25"/><ellipse cx="249.75" cy="234.35" rx="2.79" ry="3.63" fill="#9a9a9a" opacity="0.1"/><ellipse cx="246.75" cy="243.10" rx="1.55" ry="2.02" fill="#9a9a9a" opacity="0.1"/><ellipse cx="252.96" cy="244.15" rx="1.55" ry="2.02" fill="#9a9a9a" opacity="0.1"/></g>
<g filter="url(#heat)"><rect x="171.5" y="211" width="94.2" height="83" fill="#000"/><use href="#mb" transform="matrix(7.44 0 0.43 37.40 187.72 215.75)" fill="rgb(56,56,56)"/><use href="#mb" transform="matrix(5.58 0 0.43 32.60 187.72 217.75)" fill="rgb(0,0,0)"/><use href="#mb" transform="matrix(4.46 0 0.13 10.50 187.85 220.34)" fill="rgb(102,102,102)"/><ellipse cx="187.97" cy="222.09" rx="1.51" ry="1.66" fill="rgb(13,13,13)"/><ellipse cx="188.75" cy="228.04" rx="1.29" ry="1.42" fill="rgb(51,51,51)"/><ellipse cx="187.96" cy="235.95" rx="4.92" ry="2.50" fill="#000"/><path d="M181.29,238.05 Q184.85,235.60 187.98,237.70 Q191.05,235.60 194.68,238.05 C195.32,244.35 193.11,251.00 188.17,253.10 C183.19,251.00 180.81,244.35 181.29,238.05Z" fill="rgb(255,255,255)"/><ellipse cx="187.85" cy="226.85" rx="3.41" ry="1.71" fill="rgb(230,230,230)"/><use href="#mb" transform="matrix(7.44 0 0.74 37.40 203.36 215.43)" fill="rgb(56,56,56)"/><use href="#mb" transform="matrix(5.58 0 0.74 32.60 203.36 217.43)" fill="rgb(0,0,0)"/><use href="#mb" transform="matrix(4.46 0 0.22 10.50 203.57 219.32)" fill="rgb(128,128,128)"/><ellipse cx="201.98" cy="223.96" rx="1.72" ry="1.89" fill="rgb(76,76,76)"/><ellipse cx="202.61" cy="225.53" rx="1.34" ry="1.47" fill="rgb(76,76,76)"/><ellipse cx="203.78" cy="235.63" rx="4.18" ry="2.08" fill="#000"/><path d="M197.13,237.73 Q200.67,235.28 203.82,237.38 Q206.87,235.28 210.52,237.73 C211.21,244.03 209.06,250.68 204.15,252.78 C199.14,250.68 196.71,244.03 197.13,237.73Z" fill="rgb(255,255,255)"/><ellipse cx="205.73" cy="225.13" rx="1.86" ry="1.95" fill="rgb(242,242,242)"/><ellipse cx="201.73" cy="226.53" rx="1.36" ry="1.43" fill="rgb(230,230,230)"/><use href="#mb" transform="matrix(7.44 0 -0.53 37.40 218.02 215.94)" fill="rgb(56,56,56)"/><use href="#mb" transform="matrix(5.58 0 -0.53 32.60 218.02 217.94)" fill="rgb(0,0,0)"/><use href="#mb" transform="matrix(4.46 0 -0.16 10.50 217.87 219.83)" fill="rgb(76,76,76)"/><ellipse cx="218.31" cy="221.89" rx="1.58" ry="1.73" fill="rgb(204,204,204)"/><ellipse cx="219.18" cy="230.73" rx="1.28" ry="1.40" fill="rgb(153,153,153)"/><ellipse cx="217.54" cy="226.80" rx="1.19" ry="1.31" fill="rgb(0,0,0)"/><ellipse cx="217.72" cy="236.14" rx="4.92" ry="2.50" fill="#000"/><path d="M210.99,238.24 Q214.63,235.79 217.70,237.89 Q220.83,235.79 224.39,238.24 C224.85,244.54 222.46,251.19 217.46,253.29 C212.54,251.19 210.34,244.54 210.99,238.24Z" fill="rgb(255,255,255)"/><ellipse cx="217.88" cy="225.64" rx="1.86" ry="1.95" fill="rgb(230,230,230)"/><ellipse cx="219.70" cy="228.44" rx="1.24" ry="1.30" fill="rgb(153,153,153)"/><use href="#mb" transform="matrix(7.44 0 0.35 37.40 233.88 215.75)" fill="rgb(56,56,56)"/><use href="#mb" transform="matrix(5.58 0 0.35 32.60 233.88 217.75)" fill="rgb(0,0,0)"/><use href="#mb" transform="matrix(4.46 0 0.11 10.50 233.98 219.64)" fill="rgb(128,128,128)"/><ellipse cx="231.86" cy="225.26" rx="1.89" ry="2.08" fill="rgb(38,38,38)"/><ellipse cx="233.89" cy="222.63" rx="1.62" ry="1.78" fill="rgb(38,38,38)"/><ellipse cx="231.49" cy="231.35" rx="1.72" ry="1.89" fill="rgb(255,255,255)"/><ellipse cx="234.08" cy="235.95" rx="4.55" ry="2.29" fill="#000"/><path d="M227.40,238.05 Q230.98,235.60 234.10,237.70 Q237.18,235.60 240.80,238.05 C241.42,244.35 239.19,251.00 234.25,253.10 C229.27,251.00 226.91,244.35 227.40,238.05Z" fill="rgb(255,255,255)"/><ellipse cx="235.19" cy="223.35" rx="1.55" ry="1.63" fill="rgb(242,242,242)"/><ellipse cx="232.44" cy="226.85" rx="1.24" ry="1.30" fill="rgb(242,242,242)"/><use href="#mb" transform="matrix(7.44 0 0.37 37.40 249.57 216.25)" fill="rgb(56,56,56)"/><use href="#mb" transform="matrix(5.58 0 0.37 32.60 249.57 218.25)" fill="rgb(0,0,0)"/><use href="#mb" transform="matrix(4.46 0 0.11 10.50 249.67 220.14)" fill="rgb(128,128,128)"/><ellipse cx="246.94" cy="223.50" rx="1.89" ry="2.08" fill="rgb(38,38,38)"/><ellipse cx="247.34" cy="229.66" rx="1.44" ry="1.58" fill="rgb(38,38,38)"/><ellipse cx="249.78" cy="236.45" rx="4.92" ry="2.50" fill="#000"/><path d="M243.10,238.55 Q246.67,236.10 249.79,238.20 Q252.87,236.10 256.49,238.55 C257.12,244.85 254.90,251.50 249.96,253.60 C244.98,251.50 242.61,244.85 243.10,238.55Z" fill="rgb(255,255,255)"/><ellipse cx="247.49" cy="225.95" rx="1.55" ry="1.63" fill="rgb(255,255,255)"/><ellipse cx="252.16" cy="227.35" rx="1.55" ry="1.63" fill="rgb(255,255,255)"/></g>
</g>
<clipPath id="cp11"><rect x="171.5" y="309" width="94.2" height="83.3"/></clipPath>
<g clip-path="url(#cp11)">
<g filter="url(#soft)"><rect x="171.5" y="309" width="94.2" height="83.3" fill="#414141"/><rect x="177.5" y="309" width="84.2" height="4.5" fill="#4e4e4e"/><rect x="171.5" y="309" width="6" height="4.5" fill="#2a2a2a"/><rect x="179.50" y="313.5" width="78.20" height="33.8" fill="#333"/><rect x="179.10" y="313.5" width="2.4" height="33.8" fill="#262626"/><rect x="194.40" y="313.5" width="2.4" height="33.8" fill="#262626"/><rect x="209.70" y="313.5" width="2.4" height="33.8" fill="#262626"/><rect x="225.00" y="313.5" width="2.4" height="33.8" fill="#262626"/><rect x="240.30" y="313.5" width="2.4" height="33.8" fill="#262626"/><rect x="255.60" y="313.5" width="2.4" height="33.8" fill="#262626"/><path d="M188.86,347.87 C187.75,359.57 187.21,370.27 186.84,379.45" fill="none" stroke="#b4b4b4" stroke-width="1.5" stroke-linecap="round"/><path d="M184.4,346.4 L180.6,348.9 M193.4,346.4 L197.2,348.9 M184.0,323.7 l-2.6,1.2 M193.0,323.7 l2.6,1.2" stroke="#a8a8a8" stroke-width="1.3" stroke-linecap="round"/><use href="#mb" transform="matrix(6.20 0 0.51 35.00 188.35 313.87)" fill="url(#mg)"/><ellipse cx="186.71" cy="320.87" rx="0.74" ry="0.97" fill="#9a9a9a" opacity="0.25"/><ellipse cx="190.19" cy="320.87" rx="0.74" ry="0.97" fill="#9a9a9a" opacity="0.25"/><ellipse cx="188.60" cy="331.37" rx="2.79" ry="3.63" fill="#9a9a9a" opacity="0.1"/><ellipse cx="185.63" cy="340.12" rx="1.55" ry="2.02" fill="#9a9a9a" opacity="0.1"/><ellipse cx="191.85" cy="341.17" rx="1.55" ry="2.02" fill="#9a9a9a" opacity="0.1"/><path d="M188.86,347.87 C187.75,359.57 187.21,370.27 186.84,379.45" fill="none" stroke="#4048d8" stroke-width="1.5" opacity="0.75" stroke-dasharray="12.2,200"/><path d="M204.27,347.66 C204.73,359.34 202.90,370.03 204.22,379.19" fill="none" stroke="#b4b4b4" stroke-width="1.5" stroke-linecap="round"/><path d="M199.8,346.2 L196.0,348.7 M208.8,346.2 L212.6,348.7 M199.3,323.5 l-2.6,1.2 M208.3,323.5 l2.6,1.2" stroke="#a8a8a8" stroke-width="1.3" stroke-linecap="round"/><use href="#mb" transform="matrix(6.20 0 0.71 35.00 203.56 313.66)" fill="url(#mg)"/><ellipse cx="201.97" cy="320.66" rx="0.74" ry="0.97" fill="#9a9a9a" opacity="0.25"/><ellipse cx="205.44" cy="320.66" rx="0.74" ry="0.97" fill="#9a9a9a" opacity="0.25"/><ellipse cx="203.92" cy="331.16" rx="2.79" ry="3.63" fill="#9a9a9a" opacity="0.1"/><ellipse cx="200.99" cy="339.91" rx="1.55" ry="2.02" fill="#9a9a9a" opacity="0.1"/><ellipse cx="207.21" cy="340.96" rx="1.55" ry="2.02" fill="#9a9a9a" opacity="0.1"/><path d="M204.27,347.66 C204.73,359.34 202.90,370.03 204.22,379.19" fill="none" stroke="#4048d8" stroke-width="1.5" opacity="0.75" stroke-dasharray="12.2,200"/><path d="M218.48,348.20 C219.64,360.23 218.56,371.25 220.07,380.71" fill="none" stroke="#b4b4b4" stroke-width="1.5" stroke-linecap="round"/><path d="M214.0,346.7 L210.2,349.2 M223.0,346.7 L226.8,349.2 M213.8,324.0 l-2.6,1.2 M222.8,324.0 l2.6,1.2" stroke="#a8a8a8" stroke-width="1.3" stroke-linecap="round"/><use href="#mb" transform="matrix(6.20 0 0.19 35.00 218.28 314.20)" fill="url(#mg)"/><ellipse cx="216.59" cy="321.20" rx="0.74" ry="0.97" fill="#9a9a9a" opacity="0.25"/><ellipse cx="220.06" cy="321.20" rx="0.74" ry="0.97" fill="#9a9a9a" opacity="0.25"/><ellipse cx="218.38" cy="331.70" rx="2.79" ry="3.63" fill="#9a9a9a" opacity="0.1"/><ellipse cx="215.33" cy="340.45" rx="1.55" ry="2.02" fill="#9a9a9a" opacity="0.1"/><ellipse cx="221.53" cy="341.50" rx="1.55" ry="2.02" fill="#9a9a9a" opacity="0.1"/><path d="M218.48,348.20 C219.64,360.23 218.56,371.25 220.07,380.71" fill="none" stroke="#4048d8" stroke-width="1.5" opacity="0.75" stroke-dasharray="12.6,200"/><path d="M233.48,348.44 C232.05,360.01 231.54,370.59 229.62,379.65" fill="none" stroke="#b4b4b4" stroke-width="1.5" stroke-linecap="round"/><path d="M229.0,346.9 L225.2,349.4 M238.0,346.9 L241.8,349.4 M228.7,324.2 l-2.6,1.2 M237.7,324.2 l2.6,1.2" stroke="#a8a8a8" stroke-width="1.3" stroke-linecap="round"/><use href="#mb" transform="matrix(6.20 0 0.36 35.00 233.12 314.44)" fill="url(#mg)"/><ellipse cx="231.46" cy="321.44" rx="0.74" ry="0.97" fill="#9a9a9a" opacity="0.25"/><ellipse cx="234.93" cy="321.44" rx="0.74" ry="0.97" fill="#9a9a9a" opacity="0.25"/><ellipse cx="233.30" cy="331.94" rx="2.79" ry="3.63" fill="#9a9a9a" opacity="0.1"/><ellipse cx="230.29" cy="340.69" rx="1.55" ry="2.02" fill="#9a9a9a" opacity="0.1"/><ellipse cx="236.50" cy="341.74" rx="1.55" ry="2.02" fill="#9a9a9a" opacity="0.1"/><path d="M233.48,348.44 C232.05,360.01 231.54,370.59 229.62,379.65" fill="none" stroke="#4048d8" stroke-width="1.5" opacity="0.75" stroke-dasharray="12.1,200"/><path d="M249.26,347.52 C247.67,359.49 249.33,370.47 247.21,379.87" fill="none" stroke="#b4b4b4" stroke-width="1.5" stroke-linecap="round"/><path d="M244.8,346.0 L241.0,348.5 M253.8,346.0 L257.6,348.5 M244.6,323.3 l-2.6,1.2 M253.6,323.3 l2.6,1.2" stroke="#a8a8a8" stroke-width="1.3" stroke-linecap="round"/><use href="#mb" transform="matrix(6.20 0 0.27 35.00 248.99 313.52)" fill="url(#mg)"/><ellipse cx="247.31" cy="320.52" rx="0.74" ry="0.97" fill="#9a9a9a" opacity="0.25"/><ellipse cx="250.78" cy="320.52" rx="0.74" ry="0.97" fill="#9a9a9a" opacity="0.25"/><ellipse cx="249.13" cy="331.02" rx="2.79" ry="3.63" fill="#9a9a9a" opacity="0.1"/><ellipse cx="246.09" cy="339.77" rx="1.55" ry="2.02" fill="#9a9a9a" opacity="0.1"/><ellipse cx="252.30" cy="340.82" rx="1.55" ry="2.02" fill="#9a9a9a" opacity="0.1"/><path d="M249.26,347.52 C247.67,359.49 249.33,370.47 247.21,379.87" fill="none" stroke="#4048d8" stroke-width="1.5" opacity="0.75" stroke-dasharray="12.5,200"/></g>
<g filter="url(#heat)"><rect x="171.5" y="309" width="94.2" height="83.3" fill="#000"/><use href="#mb" transform="matrix(7.44 0 0.51 37.40 188.35 313.27)" fill="rgb(56,56,56)"/><use href="#mb" transform="matrix(5.58 0 0.51 32.60 188.35 315.27)" fill="rgb(64,64,64)"/><use href="#mb" transform="matrix(4.46 0 0.15 10.50 188.50 317.86)" fill="rgb(230,230,230)"/><ellipse cx="188.64" cy="333.47" rx="4.55" ry="2.29" fill="#000"/><path d="M181.95,333.89 Q185.50,331.17 188.64,333.50 Q191.70,331.17 195.34,333.89 C196.00,340.89 193.81,348.28 188.89,350.62 C183.89,348.28 181.49,340.89 181.95,333.89Z" fill="rgb(255,255,255)"/><use href="#mb" transform="matrix(7.44 0 0.71 37.40 203.56 313.06)" fill="rgb(56,56,56)"/><use href="#mb" transform="matrix(5.58 0 0.71 32.60 203.56 315.06)" fill="rgb(102,102,102)"/><use href="#mb" transform="matrix(5.36 0 0.21 12.60 203.76 315.64)" fill="rgb(242,242,242)"/><ellipse cx="202.04" cy="322.98" rx="1.32" ry="1.45" fill="rgb(255,255,255)"/><ellipse cx="203.27" cy="322.58" rx="1.36" ry="1.49" fill="rgb(191,191,191)"/><ellipse cx="203.92" cy="331.16" rx="5.89" ry="3.50" fill="rgb(115,115,115)"/><path d="M197.27,333.68 Q200.81,330.96 203.96,333.29 Q207.01,330.96 210.66,333.68 C211.36,340.68 209.22,348.07 204.31,350.41 C199.30,348.07 196.85,340.68 197.27,333.68Z" fill="rgb(255,255,255)"/><use href="#mb" transform="matrix(7.44 0 0.19 37.40 218.28 313.60)" fill="rgb(56,56,56)"/><use href="#mb" transform="matrix(5.58 0 0.19 32.60 218.28 315.60)" fill="rgb(51,51,51)"/><use href="#mb" transform="matrix(4.46 0 0.06 10.50 218.34 317.49)" fill="rgb(153,153,153)"/><ellipse cx="216.78" cy="323.87" rx="1.45" ry="1.60" fill="rgb(102,102,102)"/><ellipse cx="219.62" cy="324.02" rx="1.42" ry="1.56" fill="rgb(102,102,102)"/><ellipse cx="219.65" cy="326.17" rx="1.71" ry="1.88" fill="rgb(229,229,229)"/><ellipse cx="218.39" cy="333.80" rx="4.92" ry="2.50" fill="#000"/><path d="M211.70,334.23 Q215.28,331.50 218.39,333.84 Q221.48,331.50 225.09,334.23 C225.69,341.23 223.43,348.62 218.49,350.95 C213.51,348.62 211.18,341.23 211.70,334.23Z" fill="rgb(255,255,255)"/><ellipse cx="218.96" cy="324.00" rx="1.86" ry="1.95" fill="rgb(255,255,255)"/><use href="#mb" transform="matrix(7.44 0 0.36 37.40 233.12 313.84)" fill="rgb(56,56,56)"/><use href="#mb" transform="matrix(5.58 0 0.36 32.60 233.12 315.84)" fill="rgb(76,76,76)"/><use href="#mb" transform="matrix(4.46 0 0.11 10.50 233.22 317.73)" fill="rgb(230,230,230)"/><ellipse cx="235.18" cy="322.51" rx="1.64" ry="1.80" fill="rgb(255,255,255)"/><ellipse cx="235.73" cy="322.52" rx="1.41" ry="1.55" fill="rgb(178,178,178)"/><ellipse cx="233.32" cy="334.04" rx="4.18" ry="2.08" fill="#000"/><path d="M226.63,334.47 Q230.20,331.75 233.32,334.08 Q236.40,331.75 240.02,334.47 C240.65,341.47 238.43,348.86 233.50,351.19 C228.51,348.86 226.14,341.47 226.63,334.47Z" fill="rgb(255,255,255)"/><use href="#mb" transform="matrix(7.44 0 0.27 37.40 248.99 312.92)" fill="rgb(56,56,56)"/><use href="#mb" transform="matrix(5.58 0 0.27 32.60 248.99 314.92)" fill="rgb(51,51,51)"/><use href="#mb" transform="matrix(4.46 0 0.08 10.50 249.07 316.81)" fill="rgb(242,242,242)"/><ellipse cx="249.14" cy="333.12" rx="5.27" ry="2.71" fill="#000"/><path d="M242.45,334.21 Q246.03,331.60 249.15,333.84 Q252.23,331.60 255.85,334.21 C256.45,340.93 254.21,348.03 249.27,350.27 C244.29,348.03 241.95,340.93 242.45,334.21Z" fill="rgb(255,255,255)"/></g>
</g>
<clipPath id="cp12"><rect x="171.5" y="394" width="94.2" height="84"/></clipPath>
<g clip-path="url(#cp12)">
<g filter="url(#soft)"><rect x="171.5" y="394" width="94.2" height="84" fill="#414141"/><rect x="177.5" y="394" width="84.2" height="4.5" fill="#4e4e4e"/><rect x="171.5" y="394" width="6" height="4.5" fill="#2a2a2a"/><rect x="179.50" y="398.5" width="78.20" height="34.3" fill="#333"/><rect x="179.10" y="398.5" width="2.4" height="34.3" fill="#262626"/><rect x="194.40" y="398.5" width="2.4" height="34.3" fill="#262626"/><rect x="209.70" y="398.5" width="2.4" height="34.3" fill="#262626"/><rect x="225.00" y="398.5" width="2.4" height="34.3" fill="#262626"/><rect x="240.30" y="398.5" width="2.4" height="34.3" fill="#262626"/><rect x="255.60" y="398.5" width="2.4" height="34.3" fill="#262626"/><path d="M188.74,433.13 C190.61,445.55 188.08,456.98 189.82,466.77" fill="none" stroke="#b4b4b4" stroke-width="1.5" stroke-linecap="round"/><path d="M184.2,431.6 L180.4,434.1 M193.2,431.6 L197.0,434.1 M183.7,409.3 l-2.6,1.2 M192.7,409.3 l2.6,1.2" stroke="#a8a8a8" stroke-width="1.3" stroke-linecap="round"/><use href="#mb" transform="matrix(6.20 0 0.72 34.50 188.01 399.63)" fill="url(#mg)"/><ellipse cx="186.42" cy="406.53" rx="0.74" ry="0.97" fill="#9a9a9a" opacity="0.25"/><ellipse cx="189.89" cy="406.53" rx="0.74" ry="0.97" fill="#9a9a9a" opacity="0.25"/><ellipse cx="188.37" cy="416.88" rx="2.79" ry="3.63" fill="#9a9a9a" opacity="0.1"/><ellipse cx="185.46" cy="425.50" rx="1.55" ry="2.02" fill="#9a9a9a" opacity="0.1"/><ellipse cx="191.68" cy="426.54" rx="1.55" ry="2.02" fill="#9a9a9a" opacity="0.1"/><path d="M188.74,433.13 C190.61,445.55 188.08,456.98 189.82,466.77" fill="none" stroke="#4a78e8" stroke-width="1.5" opacity="0.75" stroke-dasharray="27.7,200"/><path d="M202.81,433.60 C203.23,445.89 207.54,457.17 206.12,466.84" fill="none" stroke="#b4b4b4" stroke-width="1.5" stroke-linecap="round"/><path d="M198.3,432.1 L194.5,434.6 M207.3,432.1 L211.1,434.6 M198.4,409.8 l-2.6,1.2 M207.4,409.8 l2.6,1.2" stroke="#a8a8a8" stroke-width="1.3" stroke-linecap="round"/><use href="#mb" transform="matrix(6.20 0 -0.16 34.50 202.97 400.10)" fill="url(#mg)"/><ellipse cx="201.20" cy="407.00" rx="0.74" ry="0.97" fill="#9a9a9a" opacity="0.25"/><ellipse cx="204.67" cy="407.00" rx="0.74" ry="0.97" fill="#9a9a9a" opacity="0.25"/><ellipse cx="202.89" cy="417.35" rx="2.79" ry="3.63" fill="#9a9a9a" opacity="0.1"/><ellipse cx="199.75" cy="425.98" rx="1.55" ry="2.02" fill="#9a9a9a" opacity="0.1"/><ellipse cx="205.94" cy="427.01" rx="1.55" ry="2.02" fill="#9a9a9a" opacity="0.1"/><path d="M202.81,433.60 C203.23,445.89 207.54,457.17 206.12,466.84" fill="none" stroke="#4a78e8" stroke-width="1.5" opacity="0.75" stroke-dasharray="27.4,200"/><path d="M217.99,433.62 C219.38,446.02 220.92,457.42 221.43,467.19" fill="none" stroke="#b4b4b4" stroke-width="1.5" stroke-linecap="round"/><path d="M213.5,432.1 L209.7,434.6 M222.5,432.1 L226.3,434.6 M213.7,409.8 l-2.6,1.2 M222.7,409.8 l2.6,1.2" stroke="#a8a8a8" stroke-width="1.3" stroke-linecap="round"/><use href="#mb" transform="matrix(6.20 0 -0.32 34.50 218.31 400.12)" fill="url(#mg)"/><ellipse cx="216.51" cy="407.02" rx="0.74" ry="0.97" fill="#9a9a9a" opacity="0.25"/><ellipse cx="219.98" cy="407.02" rx="0.74" ry="0.97" fill="#9a9a9a" opacity="0.25"/><ellipse cx="218.15" cy="417.37" rx="2.79" ry="3.63" fill="#9a9a9a" opacity="0.1"/><ellipse cx="214.97" cy="425.99" rx="1.55" ry="2.02" fill="#9a9a9a" opacity="0.1"/><ellipse cx="221.16" cy="427.03" rx="1.55" ry="2.02" fill="#9a9a9a" opacity="0.1"/><path d="M217.99,433.62 C219.38,446.02 220.92,457.42 221.43,467.19" fill="none" stroke="#4a78e8" stroke-width="1.5" opacity="0.75" stroke-dasharray="27.7,200"/><path d="M232.99,433.00 C230.83,445.80 230.31,457.59 229.86,467.70" fill="none" stroke="#b4b4b4" stroke-width="1.5" stroke-linecap="round"/><path d="M228.5,431.5 L224.7,434.0 M237.5,431.5 L241.3,434.0 M228.6,409.2 l-2.6,1.2 M237.6,409.2 l2.6,1.2" stroke="#a8a8a8" stroke-width="1.3" stroke-linecap="round"/><use href="#mb" transform="matrix(6.20 0 -0.15 34.50 233.14 399.50)" fill="url(#mg)"/><ellipse cx="231.38" cy="406.40" rx="0.74" ry="0.97" fill="#9a9a9a" opacity="0.25"/><ellipse cx="234.85" cy="406.40" rx="0.74" ry="0.97" fill="#9a9a9a" opacity="0.25"/><ellipse cx="233.07" cy="416.75" rx="2.79" ry="3.63" fill="#9a9a9a" opacity="0.1"/><ellipse cx="229.93" cy="425.38" rx="1.55" ry="2.02" fill="#9a9a9a" opacity="0.1"/><ellipse cx="236.13" cy="426.41" rx="1.55" ry="2.02" fill="#9a9a9a" opacity="0.1"/><path d="M232.99,433.00 C230.83,445.80 230.31,457.59 229.86,467.70" fill="none" stroke="#4a78e8" stroke-width="1.5" opacity="0.75" stroke-dasharray="28.6,200"/><path d="M249.05,433.56 C250.57,445.65 250.53,456.74 252.78,466.25" fill="none" stroke="#b4b4b4" stroke-width="1.5" stroke-linecap="round"/><path d="M244.6,432.1 L240.8,434.6 M253.6,432.1 L257.4,434.6 M244.9,409.7 l-2.6,1.2 M253.9,409.7 l2.6,1.2" stroke="#a8a8a8" stroke-width="1.3" stroke-linecap="round"/><use href="#mb" transform="matrix(6.20 0 -0.52 34.50 249.57 400.06)" fill="url(#mg)"/><ellipse cx="247.73" cy="406.96" rx="0.74" ry="0.97" fill="#9a9a9a" opacity="0.25"/><ellipse cx="251.20" cy="406.96" rx="0.74" ry="0.97" fill="#9a9a9a" opacity="0.25"/><ellipse cx="249.31" cy="417.31" rx="2.79" ry="3.63" fill="#9a9a9a" opacity="0.1"/><ellipse cx="246.08" cy="425.93" rx="1.55" ry="2.02" fill="#9a9a9a" opacity="0.1"/><ellipse cx="252.27" cy="426.97" rx="1.55" ry="2.02" fill="#9a9a9a" opacity="0.1"/><path d="M249.05,433.56 C250.57,445.65 250.53,456.74 252.78,466.25" fill="none" stroke="#4a78e8" stroke-width="1.5" opacity="0.75" stroke-dasharray="26.9,200"/></g>
<g filter="url(#heat)"><rect x="171.5" y="394" width="94.2" height="84" fill="#000"/><use href="#mb" transform="matrix(7.44 0 0.72 36.90 188.01 399.03)" fill="rgb(56,56,56)"/><use href="#mb" transform="matrix(5.58 0 0.72 32.10 188.01 401.03)" fill="rgb(76,76,76)"/><use href="#mb" transform="matrix(4.82 0 0.22 11.18 188.21 402.36)" fill="rgb(255,255,255)"/><ellipse cx="188.37" cy="416.88" rx="5.89" ry="3.45" fill="rgb(69,69,69)"/><path d="M181.74,420.03 Q185.29,417.45 188.43,419.66 Q191.49,417.45 195.14,420.03 C195.83,426.65 193.69,433.64 188.77,435.85 C183.77,433.64 181.33,426.65 181.74,420.03Z" fill="rgb(255,255,255)"/><ellipse cx="182.46" cy="415.84" rx="0.99" ry="1.79" fill="rgb(255,255,255)"/><ellipse cx="194.24" cy="415.84" rx="0.99" ry="1.79" fill="rgb(255,255,255)"/><use href="#mb" transform="matrix(7.44 0 -0.16 36.90 202.97 399.50)" fill="rgb(56,56,56)"/><use href="#mb" transform="matrix(5.58 0 -0.16 32.10 202.97 401.50)" fill="rgb(89,89,89)"/><use href="#mb" transform="matrix(4.82 0 -0.05 11.18 202.92 402.83)" fill="rgb(255,255,255)"/><ellipse cx="202.89" cy="417.35" rx="5.89" ry="3.45" fill="rgb(76,76,76)"/><path d="M196.18,420.50 Q199.79,417.93 202.87,420.13 Q205.99,417.93 209.57,420.50 C210.10,427.13 207.77,434.12 202.80,436.33 C197.85,434.12 195.59,427.13 196.18,420.50Z" fill="rgb(255,255,255)"/><ellipse cx="197.00" cy="416.32" rx="0.99" ry="1.79" fill="rgb(255,255,255)"/><ellipse cx="208.78" cy="416.32" rx="0.99" ry="1.79" fill="rgb(255,255,255)"/><use href="#mb" transform="matrix(7.44 0 -0.32 36.90 218.31 399.52)" fill="rgb(56,56,56)"/><use href="#mb" transform="matrix(5.58 0 -0.32 32.10 218.31 401.52)" fill="rgb(76,76,76)"/><use href="#mb" transform="matrix(4.82 0 -0.09 11.18 218.22 402.85)" fill="rgb(255,255,255)"/><ellipse cx="218.15" cy="417.37" rx="5.89" ry="3.45" fill="rgb(71,71,71)"/><path d="M211.42,420.52 Q215.04,417.94 218.12,420.15 Q221.24,417.94 224.82,420.52 C225.31,427.14 222.96,434.13 217.98,436.34 C213.04,434.13 210.81,427.14 211.42,420.52Z" fill="rgb(255,255,255)"/><ellipse cx="212.27" cy="416.33" rx="0.99" ry="1.79" fill="rgb(255,255,255)"/><ellipse cx="224.05" cy="416.33" rx="0.99" ry="1.79" fill="rgb(255,255,255)"/><use href="#mb" transform="matrix(7.44 0 -0.15 36.90 233.14 398.90)" fill="rgb(56,56,56)"/><use href="#mb" transform="matrix(5.58 0 -0.15 32.10 233.14 400.90)" fill="rgb(76,76,76)"/><use href="#mb" transform="matrix(4.82 0 -0.04 11.18 233.10 402.23)" fill="rgb(255,255,255)"/><ellipse cx="233.07" cy="416.75" rx="5.89" ry="3.45" fill="rgb(69,69,69)"/><path d="M226.36,419.91 Q229.97,417.33 233.06,419.54 Q236.17,417.33 239.75,419.91 C240.28,426.53 237.96,433.52 232.99,435.73 C228.04,433.52 225.77,426.53 226.36,419.91Z" fill="rgb(255,255,255)"/><ellipse cx="227.18" cy="415.72" rx="0.99" ry="1.79" fill="rgb(255,255,255)"/><ellipse cx="238.96" cy="415.72" rx="0.99" ry="1.79" fill="rgb(255,255,255)"/><use href="#mb" transform="matrix(7.44 0 -0.52 36.90 249.57 399.46)" fill="rgb(56,56,56)"/><use href="#mb" transform="matrix(5.58 0 -0.52 32.10 249.57 401.46)" fill="rgb(76,76,76)"/><use href="#mb" transform="matrix(5.36 0 -0.16 12.42 249.42 402.02)" fill="rgb(255,255,255)"/><ellipse cx="249.31" cy="417.31" rx="5.89" ry="3.45" fill="rgb(69,69,69)"/><path d="M242.58,419.80 Q246.21,417.12 249.28,419.42 Q252.41,417.12 255.97,419.80 C256.42,426.70 254.02,433.98 249.03,436.28 C244.10,433.98 241.92,426.70 242.58,419.80Z" fill="rgb(255,255,255)"/><ellipse cx="250.55" cy="417.31" rx="1.55" ry="1.63" fill="rgb(0,0,0)"/></g>
</g>
<clipPath id="cp13"><rect x="171.5" y="480" width="94.2" height="76"/></clipPath>
<g clip-path="url(#cp13)">
<g filter="url(#soft)"><rect x="171.5" y="480" width="94.2" height="76" fill="#414141"/><rect x="177.5" y="480" width="84.2" height="8" fill="#646464"/><rect x="171.5" y="480" width="6" height="8" fill="#2a2a2a"/><rect x="179.50" y="488" width="78.20" height="35.6" fill="#333"/><rect x="179.10" y="488" width="2.4" height="35.6" fill="#262626"/><rect x="194.40" y="488" width="2.4" height="35.6" fill="#262626"/><rect x="209.70" y="488" width="2.4" height="35.6" fill="#262626"/><rect x="225.00" y="488" width="2.4" height="35.6" fill="#262626"/><rect x="240.30" y="488" width="2.4" height="35.6" fill="#262626"/><rect x="255.60" y="488" width="2.4" height="35.6" fill="#262626"/><path d="M188.40,524.13 C186.73,535.91 189.50,546.70 190.78,555.94" fill="none" stroke="#b4b4b4" stroke-width="1.5" stroke-linecap="round"/><path d="M183.9,522.6 L180.1,525.1 M192.9,522.6 L196.7,525.1 M183.6,499.8 l-2.6,1.2 M192.6,499.8 l2.6,1.2" stroke="#a8a8a8" stroke-width="1.3" stroke-linecap="round"/><use href="#mb" transform="matrix(6.80 0 0.39 35.20 188.02 489.93)" fill="url(#mg)"/><ellipse cx="186.19" cy="496.97" rx="0.82" ry="1.06" fill="#9a9a9a" opacity="0.25"/><ellipse cx="190.00" cy="496.97" rx="0.82" ry="1.06" fill="#9a9a9a" opacity="0.25"/><ellipse cx="188.21" cy="507.53" rx="3.06" ry="3.98" fill="#9a9a9a" opacity="0.1"/><ellipse cx="184.90" cy="516.33" rx="1.70" ry="2.21" fill="#9a9a9a" opacity="0.1"/><ellipse cx="191.72" cy="517.38" rx="1.70" ry="2.21" fill="#9a9a9a" opacity="0.1"/><path d="M188.40,524.13 C186.73,535.91 189.50,546.70 190.78,555.94" fill="none" stroke="#4a78e8" stroke-width="1.5" opacity="0.75" stroke-dasharray="26.2,200"/><path d="M202.49,524.72 C203.90,536.03 200.35,546.34 200.79,555.17" fill="none" stroke="#b4b4b4" stroke-width="1.5" stroke-linecap="round"/><path d="M198.0,523.2 L194.2,525.7 M207.0,523.2 L210.8,525.7 M198.5,500.4 l-2.6,1.2 M207.5,500.4 l2.6,1.2" stroke="#a8a8a8" stroke-width="1.3" stroke-linecap="round"/><use href="#mb" transform="matrix(6.80 0 -0.66 35.20 203.15 490.52)" fill="url(#mg)"/><ellipse cx="201.12" cy="497.56" rx="0.82" ry="1.06" fill="#9a9a9a" opacity="0.25"/><ellipse cx="204.92" cy="497.56" rx="0.82" ry="1.06" fill="#9a9a9a" opacity="0.25"/><ellipse cx="202.82" cy="508.12" rx="3.06" ry="3.98" fill="#9a9a9a" opacity="0.1"/><ellipse cx="199.26" cy="516.92" rx="1.70" ry="2.21" fill="#9a9a9a" opacity="0.1"/><ellipse cx="206.04" cy="517.98" rx="1.70" ry="2.21" fill="#9a9a9a" opacity="0.1"/><path d="M202.49,524.72 C203.90,536.03 200.35,546.34 200.79,555.17" fill="none" stroke="#4a78e8" stroke-width="1.5" opacity="0.75" stroke-dasharray="25.0,200"/><path d="M218.87,524.29 C220.58,535.66 223.57,546.03 222.05,554.92" fill="none" stroke="#b4b4b4" stroke-width="1.5" stroke-linecap="round"/><path d="M214.4,522.8 L210.6,525.3 M223.4,522.8 L227.2,525.3 M213.9,499.9 l-2.6,1.2 M222.9,499.9 l2.6,1.2" stroke="#a8a8a8" stroke-width="1.3" stroke-linecap="round"/><use href="#mb" transform="matrix(6.80 0 0.64 35.20 218.23 490.09)" fill="url(#mg)"/><ellipse cx="216.45" cy="497.13" rx="0.82" ry="1.06" fill="#9a9a9a" opacity="0.25"/><ellipse cx="220.26" cy="497.13" rx="0.82" ry="1.06" fill="#9a9a9a" opacity="0.25"/><ellipse cx="218.55" cy="507.69" rx="3.06" ry="3.98" fill="#9a9a9a" opacity="0.1"/><ellipse cx="215.31" cy="516.49" rx="1.70" ry="2.21" fill="#9a9a9a" opacity="0.1"/><ellipse cx="222.13" cy="517.55" rx="1.70" ry="2.21" fill="#9a9a9a" opacity="0.1"/><path d="M218.87,524.29 C220.58,535.66 223.57,546.03 222.05,554.92" fill="none" stroke="#4a78e8" stroke-width="1.5" opacity="0.75" stroke-dasharray="25.2,200"/><path d="M233.93,524.38 C234.35,535.75 236.63,546.12 236.39,555.02" fill="none" stroke="#b4b4b4" stroke-width="1.5" stroke-linecap="round"/><path d="M229.4,522.9 L225.6,525.4 M238.4,522.9 L242.2,525.4 M229.1,500.0 l-2.6,1.2 M238.1,500.0 l2.6,1.2" stroke="#a8a8a8" stroke-width="1.3" stroke-linecap="round"/><use href="#mb" transform="matrix(6.80 0 0.43 35.20 233.50 490.18)" fill="url(#mg)"/><ellipse cx="231.68" cy="497.22" rx="0.82" ry="1.06" fill="#9a9a9a" opacity="0.25"/><ellipse cx="235.49" cy="497.22" rx="0.82" ry="1.06" fill="#9a9a9a" opacity="0.25"/><ellipse cx="233.71" cy="507.78" rx="3.06" ry="3.98" fill="#9a9a9a" opacity="0.1"/><ellipse cx="230.42" cy="516.58" rx="1.70" ry="2.21" fill="#9a9a9a" opacity="0.1"/><ellipse cx="237.23" cy="517.63" rx="1.70" ry="2.21" fill="#9a9a9a" opacity="0.1"/><path d="M233.93,524.38 C234.35,535.75 236.63,546.12 236.39,555.02" fill="none" stroke="#4a78e8" stroke-width="1.5" opacity="0.75" stroke-dasharray="25.2,200"/><path d="M249.96,524.04 C251.63,535.96 251.03,546.88 253.25,556.24" fill="none" stroke="#b4b4b4" stroke-width="1.5" stroke-linecap="round"/><path d="M245.5,522.5 L241.7,525.0 M254.5,522.5 L258.3,525.0 M244.9,499.7 l-2.6,1.2 M253.9,499.7 l2.6,1.2" stroke="#a8a8a8" stroke-width="1.3" stroke-linecap="round"/><use href="#mb" transform="matrix(6.80 0 0.77 35.20 249.19 489.84)" fill="url(#mg)"/><ellipse cx="247.44" cy="496.88" rx="0.82" ry="1.06" fill="#9a9a9a" opacity="0.25"/><ellipse cx="251.25" cy="496.88" rx="0.82" ry="1.06" fill="#9a9a9a" opacity="0.25"/><ellipse cx="249.57" cy="507.44" rx="3.06" ry="3.98" fill="#9a9a9a" opacity="0.1"/><ellipse cx="246.37" cy="516.24" rx="1.70" ry="2.21" fill="#9a9a9a" opacity="0.1"/><ellipse cx="253.19" cy="517.29" rx="1.70" ry="2.21" fill="#9a9a9a" opacity="0.1"/><path d="M249.96,524.04 C251.63,535.96 251.03,546.88 253.25,556.24" fill="none" stroke="#4a78e8" stroke-width="1.5" opacity="0.75" stroke-dasharray="26.5,200"/></g>
<g filter="url(#heat)"><rect x="171.5" y="480" width="94.2" height="76" fill="#000"/><use href="#mb" transform="matrix(8.16 0 0.39 37.60 188.02 489.33)" fill="rgb(56,56,56)"/><use href="#mb" transform="matrix(6.12 0 0.39 32.80 188.02 491.33)" fill="rgb(76,76,76)"/><use href="#mb" transform="matrix(4.90 0 0.12 10.56 188.12 493.24)" fill="rgb(128,128,128)"/><ellipse cx="187.19" cy="505.17" rx="1.85" ry="2.04" fill="rgb(255,255,255)"/><ellipse cx="190.50" cy="502.45" rx="1.76" ry="1.93" fill="rgb(76,76,76)"/><ellipse cx="190.04" cy="495.08" rx="1.25" ry="1.38" fill="rgb(166,166,166)"/><path d="M180.87,508.39 Q184.78,505.38 188.21,507.96 Q191.58,505.38 195.56,508.39 C196.26,516.13 193.83,524.31 188.42,526.89 C182.95,524.31 180.35,516.13 180.87,508.39Z" fill="rgb(255,255,255)"/><ellipse cx="189.47" cy="498.73" rx="1.50" ry="1.57" fill="rgb(255,255,255)"/><use href="#mb" transform="matrix(8.16 0 -0.66 37.60 203.15 489.92)" fill="rgb(56,56,56)"/><use href="#mb" transform="matrix(6.12 0 -0.66 32.80 203.15 491.92)" fill="rgb(51,51,51)"/><use href="#mb" transform="matrix(4.90 0 -0.20 10.56 202.97 493.83)" fill="rgb(128,128,128)"/><ellipse cx="203.61" cy="496.51" rx="1.39" ry="1.53" fill="rgb(255,255,255)"/><ellipse cx="203.99" cy="505.65" rx="2.15" ry="2.37" fill="rgb(76,76,76)"/><path d="M195.46,508.98 Q199.46,505.97 202.81,508.55 Q206.26,505.97 210.15,508.98 C210.62,516.73 207.95,524.90 202.46,527.48 C197.07,524.90 194.71,516.73 195.46,508.98Z" fill="rgb(255,255,255)"/><ellipse cx="204.35" cy="499.32" rx="2.04" ry="2.14" fill="rgb(255,255,255)"/><ellipse cx="201.22" cy="502.84" rx="1.36" ry="1.43" fill="rgb(242,242,242)"/><use href="#mb" transform="matrix(8.16 0 0.64 37.60 218.23 489.49)" fill="rgb(56,56,56)"/><use href="#mb" transform="matrix(6.12 0 0.64 32.80 218.23 491.49)" fill="rgb(26,26,26)"/><use href="#mb" transform="matrix(4.90 0 0.19 10.56 218.41 493.40)" fill="rgb(89,89,89)"/><ellipse cx="220.38" cy="495.28" rx="2.16" ry="2.37" fill="rgb(128,128,128)"/><ellipse cx="216.59" cy="499.80" rx="1.85" ry="2.04" fill="rgb(166,166,166)"/><ellipse cx="216.90" cy="502.00" rx="2.13" ry="2.34" fill="rgb(166,166,166)"/><path d="M211.22,508.55 Q215.11,505.54 218.56,508.12 Q221.91,505.54 225.91,508.55 C226.66,516.29 224.29,524.47 218.90,527.05 C213.41,524.47 210.75,516.29 211.22,508.55Z" fill="rgb(255,255,255)"/><ellipse cx="219.78" cy="500.65" rx="1.70" ry="1.78" fill="rgb(242,242,242)"/><use href="#mb" transform="matrix(8.16 0 0.43 37.60 233.50 489.58)" fill="rgb(56,56,56)"/><use href="#mb" transform="matrix(6.12 0 0.43 32.80 233.50 491.58)" fill="rgb(51,51,51)"/><use href="#mb" transform="matrix(4.90 0 0.13 10.56 233.62 493.49)" fill="rgb(128,128,128)"/><ellipse cx="234.96" cy="505.14" rx="1.93" ry="2.13" fill="rgb(166,166,166)"/><path d="M226.38,508.64 Q230.28,505.63 233.72,508.21 Q237.08,505.63 241.06,508.64 C241.77,516.38 239.36,524.56 233.95,527.14 C228.48,524.56 225.86,516.38 226.38,508.64Z" fill="rgb(255,255,255)"/><ellipse cx="233.57" cy="496.51" rx="3.06" ry="2.45" fill="rgb(255,255,255)"/><use href="#mb" transform="matrix(8.16 0 0.77 37.60 249.19 489.24)" fill="rgb(56,56,56)"/><use href="#mb" transform="matrix(6.12 0 0.77 32.80 249.19 491.24)" fill="rgb(0,0,0)"/><use href="#mb" transform="matrix(2.94 0 0.23 6.34 249.30 491.19)" fill="rgb(191,191,191)"/><ellipse cx="249.62" cy="509.55" rx="5.78" ry="3.78" fill="#000"/><path d="M242.29,509.98 Q246.17,507.24 249.62,509.59 Q252.97,507.24 256.97,509.98 C257.74,517.02 255.39,524.45 250.00,526.80 C244.51,524.45 241.83,517.02 242.29,509.98Z" fill="rgb(230,230,230)"/><ellipse cx="249.85" cy="520.11" rx="2.04" ry="2.14" fill="rgb(140,140,140)"/></g>
</g>
<clipPath id="cp14"><rect x="171.5" y="558.2" width="94.2" height="75"/></clipPath>
<g clip-path="url(#cp14)">
<g filter="url(#soft)"><rect x="171.5" y="558.2" width="94.2" height="75" fill="#414141"/><rect x="177.5" y="558.2" width="84.2" height="4.5" fill="#4e4e4e"/><rect x="171.5" y="558.2" width="6" height="4.5" fill="#2a2a2a"/><rect x="179.50" y="562.7" width="78.20" height="34.2" fill="#333"/><rect x="179.10" y="562.7" width="2.4" height="34.2" fill="#262626"/><rect x="194.40" y="562.7" width="2.4" height="34.2" fill="#262626"/><rect x="209.70" y="562.7" width="2.4" height="34.2" fill="#262626"/><rect x="225.00" y="562.7" width="2.4" height="34.2" fill="#262626"/><rect x="240.30" y="562.7" width="2.4" height="34.2" fill="#262626"/><rect x="255.60" y="562.7" width="2.4" height="34.2" fill="#262626"/><path d="M187.84,597.21 C188.76,609.81 186.13,621.42 188.10,631.36" fill="none" stroke="#b4b4b4" stroke-width="1.5" stroke-linecap="round"/><path d="M183.3,595.7 L179.5,598.2 M192.3,595.7 L196.1,598.2 M183.6,572.7 l-2.6,1.2 M192.6,572.7 l2.6,1.2" stroke="#a8a8a8" stroke-width="1.3" stroke-linecap="round"/><use href="#mb" transform="matrix(6.30 0 -0.37 35.50 188.22 562.71)" fill="url(#mg)"/><ellipse cx="186.38" cy="569.81" rx="0.76" ry="0.98" fill="#9a9a9a" opacity="0.25"/><ellipse cx="189.91" cy="569.81" rx="0.76" ry="0.98" fill="#9a9a9a" opacity="0.25"/><ellipse cx="188.03" cy="580.46" rx="2.83" ry="3.69" fill="#9a9a9a" opacity="0.1"/><ellipse cx="184.79" cy="589.34" rx="1.57" ry="2.05" fill="#9a9a9a" opacity="0.1"/><ellipse cx="191.08" cy="590.40" rx="1.57" ry="2.05" fill="#9a9a9a" opacity="0.1"/><path d="M187.84,597.21 C188.76,609.81 186.13,621.42 188.10,631.36" fill="none" stroke="#4a78e8" stroke-width="1.5" opacity="0.75" stroke-dasharray="28.2,200"/><path d="M203.77,597.14 C201.52,610.44 200.52,622.75 201.19,633.29" fill="none" stroke="#b4b4b4" stroke-width="1.5" stroke-linecap="round"/><path d="M199.3,595.6 L195.5,598.1 M208.3,595.6 L212.1,598.1 M198.9,572.6 l-2.6,1.2 M207.9,572.6 l2.6,1.2" stroke="#a8a8a8" stroke-width="1.3" stroke-linecap="round"/><use href="#mb" transform="matrix(6.30 0 0.45 35.50 203.31 562.64)" fill="url(#mg)"/><ellipse cx="201.64" cy="569.74" rx="0.76" ry="0.98" fill="#9a9a9a" opacity="0.25"/><ellipse cx="205.17" cy="569.74" rx="0.76" ry="0.98" fill="#9a9a9a" opacity="0.25"/><ellipse cx="203.54" cy="580.39" rx="2.83" ry="3.69" fill="#9a9a9a" opacity="0.1"/><ellipse cx="200.50" cy="589.26" rx="1.57" ry="2.05" fill="#9a9a9a" opacity="0.1"/><ellipse cx="206.82" cy="590.33" rx="1.57" ry="2.05" fill="#9a9a9a" opacity="0.1"/><path d="M203.77,597.14 C201.52,610.44 200.52,622.75 201.19,633.29" fill="none" stroke="#4a78e8" stroke-width="1.5" opacity="0.75" stroke-dasharray="29.9,200"/><path d="M218.35,597.92 C219.67,610.58 217.29,622.24 218.23,632.24" fill="none" stroke="#b4b4b4" stroke-width="1.5" stroke-linecap="round"/><path d="M213.8,596.4 L210.0,598.9 M222.8,596.4 L226.6,598.9 M213.9,573.4 l-2.6,1.2 M222.9,573.4 l2.6,1.2" stroke="#a8a8a8" stroke-width="1.3" stroke-linecap="round"/><use href="#mb" transform="matrix(6.30 0 -0.02 35.50 218.37 563.42)" fill="url(#mg)"/><ellipse cx="216.60" cy="570.52" rx="0.76" ry="0.98" fill="#9a9a9a" opacity="0.25"/><ellipse cx="220.13" cy="570.52" rx="0.76" ry="0.98" fill="#9a9a9a" opacity="0.25"/><ellipse cx="218.36" cy="581.17" rx="2.83" ry="3.69" fill="#9a9a9a" opacity="0.1"/><ellipse cx="215.20" cy="590.04" rx="1.57" ry="2.05" fill="#9a9a9a" opacity="0.1"/><ellipse cx="221.50" cy="591.11" rx="1.57" ry="2.05" fill="#9a9a9a" opacity="0.1"/><path d="M218.35,597.92 C219.67,610.58 217.29,622.24 218.23,632.24" fill="none" stroke="#4a78e8" stroke-width="1.5" opacity="0.75" stroke-dasharray="28.3,200"/><path d="M233.10,598.12 C233.81,610.61 231.11,622.09 230.91,631.93" fill="none" stroke="#b4b4b4" stroke-width="1.5" stroke-linecap="round"/><path d="M228.6,596.6 L224.8,599.1 M237.6,596.6 L241.4,599.1 M229.1,573.6 l-2.6,1.2 M238.1,573.6 l2.6,1.2" stroke="#a8a8a8" stroke-width="1.3" stroke-linecap="round"/><use href="#mb" transform="matrix(6.30 0 -0.73 35.50 233.83 563.62)" fill="url(#mg)"/><ellipse cx="231.92" cy="570.72" rx="0.76" ry="0.98" fill="#9a9a9a" opacity="0.25"/><ellipse cx="235.44" cy="570.72" rx="0.76" ry="0.98" fill="#9a9a9a" opacity="0.25"/><ellipse cx="233.46" cy="581.37" rx="2.83" ry="3.69" fill="#9a9a9a" opacity="0.1"/><ellipse cx="230.13" cy="590.25" rx="1.57" ry="2.05" fill="#9a9a9a" opacity="0.1"/><ellipse cx="236.41" cy="591.31" rx="1.57" ry="2.05" fill="#9a9a9a" opacity="0.1"/><path d="M233.10,598.12 C233.81,610.61 231.11,622.09 230.91,631.93" fill="none" stroke="#4a78e8" stroke-width="1.5" opacity="0.75" stroke-dasharray="27.9,200"/><path d="M249.87,597.65 C248.40,610.89 251.11,623.13 251.65,633.63" fill="none" stroke="#b4b4b4" stroke-width="1.5" stroke-linecap="round"/><path d="M245.4,596.1 L241.6,598.6 M254.4,596.1 L258.2,598.6 M244.9,573.1 l-2.6,1.2 M253.9,573.1 l2.6,1.2" stroke="#a8a8a8" stroke-width="1.3" stroke-linecap="round"/><use href="#mb" transform="matrix(6.30 0 0.71 35.50 249.16 563.15)" fill="url(#mg)"/><ellipse cx="247.54" cy="570.25" rx="0.76" ry="0.98" fill="#9a9a9a" opacity="0.25"/><ellipse cx="251.06" cy="570.25" rx="0.76" ry="0.98" fill="#9a9a9a" opacity="0.25"/><ellipse cx="249.51" cy="580.90" rx="2.83" ry="3.69" fill="#9a9a9a" opacity="0.1"/><ellipse cx="246.54" cy="589.77" rx="1.57" ry="2.05" fill="#9a9a9a" opacity="0.1"/><ellipse cx="252.86" cy="590.84" rx="1.57" ry="2.05" fill="#9a9a9a" opacity="0.1"/><path d="M249.87,597.65 C248.40,610.89 251.11,623.13 251.65,633.63" fill="none" stroke="#4a78e8" stroke-width="1.5" opacity="0.75" stroke-dasharray="29.7,200"/></g>
<g filter="url(#heat)"><rect x="171.5" y="558.2" width="94.2" height="75" fill="#000"/><use href="#mb" transform="matrix(7.56 0 -0.37 37.90 188.22 562.11)" fill="rgb(56,56,56)"/><use href="#mb" transform="matrix(5.67 0 -0.37 33.10 188.22 564.11)" fill="rgb(0,0,0)"/><ellipse cx="188.20" cy="564.49" rx="1.57" ry="2.13" fill="rgb(0,0,0)"/><use href="#mb" transform="matrix(4.54 0 -0.11 10.65 188.11 566.05)" fill="rgb(51,51,51)"/><path d="M181.18,584.72 Q184.86,582.24 187.99,584.37 Q191.16,582.24 194.79,584.72 C195.29,591.11 192.89,597.86 187.83,599.99 C182.81,597.86 180.55,591.11 181.18,584.72Z" fill="rgb(255,255,255)"/><use href="#mb" transform="matrix(7.56 0 0.45 37.90 203.31 562.04)" fill="rgb(56,56,56)"/><use href="#mb" transform="matrix(5.67 0 0.45 33.10 203.31 564.04)" fill="rgb(0,0,0)"/><use href="#mb" transform="matrix(4.54 0 0.14 10.65 203.44 565.97)" fill="rgb(76,76,76)"/><path d="M196.79,584.65 Q200.41,582.16 203.59,584.29 Q206.71,582.16 210.40,584.65 C211.05,591.04 208.80,597.78 203.79,599.91 C198.72,597.78 196.31,591.04 196.79,584.65Z" fill="rgb(255,255,255)"/><ellipse cx="203.45" cy="573.29" rx="1.89" ry="1.98" fill="rgb(255,255,255)"/><use href="#mb" transform="matrix(7.56 0 -0.02 37.90 218.37 562.82)" fill="rgb(56,56,56)"/><use href="#mb" transform="matrix(5.67 0 -0.02 33.10 218.37 564.82)" fill="rgb(0,0,0)"/><ellipse cx="218.37" cy="565.19" rx="1.57" ry="2.13" fill="rgb(0,0,0)"/><use href="#mb" transform="matrix(4.54 0 -0.01 10.65 218.36 566.75)" fill="rgb(64,64,64)"/><ellipse cx="216.08" cy="570.22" rx="1.63" ry="1.79" fill="rgb(191,191,191)"/><ellipse cx="218.57" cy="568.80" rx="1.35" ry="1.49" fill="rgb(0,0,0)"/><path d="M211.55,585.43 Q215.20,582.94 218.35,585.07 Q221.50,582.94 225.16,585.43 C225.72,591.82 223.39,598.56 218.34,600.69 C213.31,598.56 210.98,591.82 211.55,585.43Z" fill="rgb(255,255,255)"/><use href="#mb" transform="matrix(7.56 0 -0.73 37.90 233.83 563.02)" fill="rgb(56,56,56)"/><use href="#mb" transform="matrix(5.67 0 -0.73 33.10 233.83 565.02)" fill="rgb(0,0,0)"/><use href="#mb" transform="matrix(4.54 0 -0.22 10.65 233.62 566.96)" fill="rgb(128,128,128)"/><ellipse cx="233.97" cy="576.71" rx="1.65" ry="1.82" fill="rgb(204,204,204)"/><ellipse cx="231.32" cy="575.06" rx="1.98" ry="2.18" fill="rgb(255,255,255)"/><path d="M226.57,585.63 Q230.28,583.15 233.38,585.28 Q236.58,583.15 240.18,585.63 C240.61,592.02 238.15,598.77 233.06,600.90 C228.07,598.77 225.87,592.02 226.57,585.63Z" fill="rgb(255,255,255)"/><ellipse cx="233.72" cy="568.95" rx="2.20" ry="2.32" fill="rgb(255,255,255)"/><ellipse cx="235.46" cy="576.05" rx="1.26" ry="1.32" fill="rgb(255,255,255)"/><use href="#mb" transform="matrix(7.56 0 0.71 37.90 249.16 562.55)" fill="rgb(56,56,56)"/><use href="#mb" transform="matrix(5.67 0 0.71 33.10 249.16 564.55)" fill="rgb(0,0,0)"/><use href="#mb" transform="matrix(3.63 0 0.21 8.52 249.36 567.80)" fill="rgb(76,76,76)"/><path d="M244.54,587.11 Q247.24,585.24 249.63,586.84 Q251.96,585.24 254.74,587.11 C255.26,591.90 253.62,596.96 249.87,598.56 C246.06,596.96 244.21,591.90 244.54,587.11Z" fill="rgb(217,217,217)"/><ellipse cx="249.30" cy="570.25" rx="1.26" ry="1.32" fill="rgb(255,255,255)"/><ellipse cx="249.39" cy="574.51" rx="1.13" ry="1.19" fill="rgb(230,230,230)"/></g>
</g>
<clipPath id="cp20"><rect x="276" y="211" width="94.9" height="83"/></clipPath>
<g clip-path="url(#cp20)">
<g filter="url(#soft)"><rect x="276" y="211" width="94.9" height="83" fill="#414141"/><rect x="282" y="211" width="84.9" height="4.5" fill="#4e4e4e"/><rect x="276" y="211" width="6" height="4.5" fill="#2a2a2a"/><rect x="284.00" y="215.5" width="78.20" height="34.1" fill="#333"/><rect x="283.60" y="215.5" width="2.4" height="34.1" fill="#262626"/><rect x="298.90" y="215.5" width="2.4" height="34.1" fill="#262626"/><rect x="314.20" y="215.5" width="2.4" height="34.1" fill="#262626"/><rect x="329.50" y="215.5" width="2.4" height="34.1" fill="#262626"/><rect x="344.80" y="215.5" width="2.4" height="34.1" fill="#262626"/><rect x="360.10" y="215.5" width="2.4" height="34.1" fill="#262626"/><path d="M292.47,250.04 C291.25,262.78 287.95,274.52 289.61,284.58" fill="none" stroke="#b4b4b4" stroke-width="1.5" stroke-linecap="round"/><path d="M288.0,248.5 L284.2,251.0 M297.0,248.5 L300.8,251.0 M287.7,225.8 l-2.6,1.2 M296.7,225.8 l2.6,1.2" stroke="#a8a8a8" stroke-width="1.3" stroke-linecap="round"/><use href="#mb" transform="matrix(6.20 0 0.33 35.00 292.14 216.04)" fill="url(#mg)"/><ellipse cx="290.47" cy="223.04" rx="0.74" ry="0.97" fill="#9a9a9a" opacity="0.25"/><ellipse cx="293.94" cy="223.04" rx="0.74" ry="0.97" fill="#9a9a9a" opacity="0.25"/><ellipse cx="292.30" cy="233.54" rx="2.79" ry="3.63" fill="#9a9a9a" opacity="0.1"/><ellipse cx="289.29" cy="242.29" rx="1.55" ry="2.02" fill="#9a9a9a" opacity="0.1"/><ellipse cx="295.50" cy="243.34" rx="1.55" ry="2.02" fill="#9a9a9a" opacity="0.1"/><path d="M292.47,250.04 C291.25,262.78 287.95,274.52 289.61,284.58" fill="none" stroke="#e02010" stroke-width="1.5" opacity="0.75" stroke-dasharray="5.0,200"/><path d="M306.66,250.19 C307.26,262.76 304.98,274.34 304.92,284.26" fill="none" stroke="#b4b4b4" stroke-width="1.5" stroke-linecap="round"/><path d="M302.2,248.7 L298.4,251.2 M311.2,248.7 L315.0,251.2 M302.7,226.0 l-2.6,1.2 M311.7,226.0 l2.6,1.2" stroke="#a8a8a8" stroke-width="1.3" stroke-linecap="round"/><use href="#mb" transform="matrix(6.20 0 -0.79 35.00 307.45 216.19)" fill="url(#mg)"/><ellipse cx="305.56" cy="223.19" rx="0.74" ry="0.97" fill="#9a9a9a" opacity="0.25"/><ellipse cx="309.03" cy="223.19" rx="0.74" ry="0.97" fill="#9a9a9a" opacity="0.25"/><ellipse cx="307.06" cy="233.69" rx="2.79" ry="3.63" fill="#9a9a9a" opacity="0.1"/><ellipse cx="303.76" cy="242.44" rx="1.55" ry="2.02" fill="#9a9a9a" opacity="0.1"/><ellipse cx="309.93" cy="243.49" rx="1.55" ry="2.02" fill="#9a9a9a" opacity="0.1"/><path d="M306.66,250.19 C307.26,262.76 304.98,274.34 304.92,284.26" fill="none" stroke="#4048d8" stroke-width="1.5" opacity="0.75" stroke-dasharray="11.6,200"/><path d="M322.87,250.57 C324.50,262.93 320.40,274.29 320.45,284.03" fill="none" stroke="#b4b4b4" stroke-width="1.5" stroke-linecap="round"/><path d="M318.4,249.1 L314.6,251.6 M327.4,249.1 L331.2,251.6 M318.5,226.4 l-2.6,1.2 M327.5,226.4 l2.6,1.2" stroke="#a8a8a8" stroke-width="1.3" stroke-linecap="round"/><use href="#mb" transform="matrix(6.20 0 -0.14 35.00 323.01 216.57)" fill="url(#mg)"/><ellipse cx="321.25" cy="223.57" rx="0.74" ry="0.97" fill="#9a9a9a" opacity="0.25"/><ellipse cx="324.72" cy="223.57" rx="0.74" ry="0.97" fill="#9a9a9a" opacity="0.25"/><ellipse cx="322.94" cy="234.07" rx="2.79" ry="3.63" fill="#9a9a9a" opacity="0.1"/><ellipse cx="319.80" cy="242.82" rx="1.55" ry="2.02" fill="#9a9a9a" opacity="0.1"/><ellipse cx="326.00" cy="243.87" rx="1.55" ry="2.02" fill="#9a9a9a" opacity="0.1"/><path d="M322.87,250.57 C324.50,262.93 320.40,274.29 320.45,284.03" fill="none" stroke="#4048d8" stroke-width="1.5" opacity="0.75" stroke-dasharray="11.4,200"/><path d="M337.83,250.81 C337.98,263.20 337.08,274.58 335.53,284.34" fill="none" stroke="#b4b4b4" stroke-width="1.5" stroke-linecap="round"/><path d="M333.3,249.3 L329.5,251.8 M342.3,249.3 L346.1,251.8 M333.2,226.6 l-2.6,1.2 M342.2,226.6 l2.6,1.2" stroke="#a8a8a8" stroke-width="1.3" stroke-linecap="round"/><use href="#mb" transform="matrix(6.20 0 0.16 35.00 337.67 216.81)" fill="url(#mg)"/><ellipse cx="335.97" cy="223.81" rx="0.74" ry="0.97" fill="#9a9a9a" opacity="0.25"/><ellipse cx="339.44" cy="223.81" rx="0.74" ry="0.97" fill="#9a9a9a" opacity="0.25"/><ellipse cx="337.75" cy="234.31" rx="2.79" ry="3.63" fill="#9a9a9a" opacity="0.1"/><ellipse cx="334.69" cy="243.06" rx="1.55" ry="2.02" fill="#9a9a9a" opacity="0.1"/><ellipse cx="340.90" cy="244.11" rx="1.55" ry="2.02" fill="#9a9a9a" opacity="0.1"/><path d="M337.83,250.81 C337.98,263.20 337.08,274.58 335.53,284.34" fill="none" stroke="#4048d8" stroke-width="1.5" opacity="0.75" stroke-dasharray="11.4,200"/><path d="M353.75,249.90 C352.79,262.29 351.89,273.68 350.81,283.45" fill="none" stroke="#b4b4b4" stroke-width="1.5" stroke-linecap="round"/><path d="M349.3,248.4 L345.5,250.9 M358.3,248.4 L362.1,250.9 M349.2,225.7 l-2.6,1.2 M358.2,225.7 l2.6,1.2" stroke="#a8a8a8" stroke-width="1.3" stroke-linecap="round"/><use href="#mb" transform="matrix(6.20 0 0.13 35.00 353.62 215.90)" fill="url(#mg)"/><ellipse cx="351.91" cy="222.90" rx="0.74" ry="0.97" fill="#9a9a9a" opacity="0.25"/><ellipse cx="355.38" cy="222.90" rx="0.74" ry="0.97" fill="#9a9a9a" opacity="0.25"/><ellipse cx="353.68" cy="233.40" rx="2.79" ry="3.63" fill="#9a9a9a" opacity="0.1"/><ellipse cx="350.62" cy="242.15" rx="1.55" ry="2.02" fill="#9a9a9a" opacity="0.1"/><ellipse cx="356.82" cy="243.20" rx="1.55" ry="2.02" fill="#9a9a9a" opacity="0.1"/><path d="M353.75,249.90 C352.79,262.29 351.89,273.68 350.81,283.45" fill="none" stroke="#4048d8" stroke-width="1.5" opacity="0.75" stroke-dasharray="11.4,200"/></g>
<g filter="url(#heat)"><rect x="276" y="211" width="94.9" height="83" fill="#000"/><use href="#mb" transform="matrix(7.44 0 0.33 37.40 292.14 215.44)" fill="rgb(56,56,56)"/><use href="#mb" transform="matrix(5.58 0 0.33 32.60 292.14 217.44)" fill="rgb(0,0,0)"/><use href="#mb" transform="matrix(4.46 0 0.10 10.50 292.23 219.33)" fill="rgb(71,71,71)"/><ellipse cx="292.32" cy="235.64" rx="4.92" ry="2.50" fill="#000"/><path d="M285.65,237.74 Q289.22,235.29 292.34,237.39 Q295.42,235.29 299.04,237.74 C299.66,244.04 297.43,250.69 292.49,252.79 C287.51,250.69 285.15,244.04 285.65,237.74Z" fill="rgb(255,255,255)"/><ellipse cx="293.48" cy="226.54" rx="1.86" ry="1.95" fill="rgb(230,230,230)"/><ellipse cx="290.34" cy="223.04" rx="0.93" ry="0.98" fill="rgb(0,0,0)"/><use href="#mb" transform="matrix(7.44 0 -0.79 37.40 307.45 215.59)" fill="rgb(56,56,56)"/><use href="#mb" transform="matrix(5.58 0 -0.79 32.60 307.45 217.59)" fill="rgb(0,0,0)"/><use href="#mb" transform="matrix(4.46 0 -0.24 10.50 307.23 219.48)" fill="rgb(64,64,64)"/><ellipse cx="307.01" cy="235.79" rx="4.92" ry="2.50" fill="#000"/><path d="M300.27,237.89 Q303.92,235.44 306.97,237.54 Q310.12,235.44 313.66,237.89 C314.07,244.19 311.63,250.84 306.62,252.94 C301.71,250.84 299.56,244.19 300.27,237.89Z" fill="rgb(255,255,255)"/><ellipse cx="307.22" cy="226.69" rx="1.24" ry="1.30" fill="rgb(242,242,242)"/><ellipse cx="307.33" cy="221.79" rx="1.36" ry="1.43" fill="rgb(0,0,0)"/><use href="#mb" transform="matrix(7.44 0 -0.14 37.40 323.01 215.97)" fill="rgb(56,56,56)"/><use href="#mb" transform="matrix(5.58 0 -0.14 32.60 323.01 217.97)" fill="rgb(0,0,0)"/><use href="#mb" transform="matrix(4.46 0 -0.04 10.50 322.97 219.86)" fill="rgb(76,76,76)"/><ellipse cx="322.93" cy="236.17" rx="4.92" ry="2.50" fill="#000"/><path d="M316.23,238.27 Q319.83,235.82 322.92,237.92 Q326.03,235.82 329.62,238.27 C330.15,244.57 327.83,251.22 322.86,253.32 C317.91,251.22 315.64,244.57 316.23,238.27Z" fill="rgb(255,255,255)"/><ellipse cx="321.11" cy="225.32" rx="1.36" ry="1.43" fill="rgb(242,242,242)"/><ellipse cx="324.83" cy="227.07" rx="1.24" ry="1.30" fill="rgb(230,230,230)"/><ellipse cx="322.96" cy="229.87" rx="1.24" ry="1.30" fill="rgb(0,0,0)"/><use href="#mb" transform="matrix(7.44 0 0.16 37.40 337.67 216.21)" fill="rgb(56,56,56)"/><use href="#mb" transform="matrix(5.58 0 0.16 32.60 337.67 218.21)" fill="rgb(0,0,0)"/><use href="#mb" transform="matrix(4.46 0 0.05 10.50 337.72 220.10)" fill="rgb(102,102,102)"/><ellipse cx="338.35" cy="229.30" rx="1.79" ry="1.97" fill="rgb(140,140,140)"/><ellipse cx="337.76" cy="236.41" rx="4.92" ry="2.50" fill="#000"/><path d="M331.08,238.51 Q334.66,236.06 337.77,238.16 Q340.86,236.06 344.47,238.51 C345.06,244.81 342.79,251.46 337.84,253.56 C332.87,251.46 330.55,244.81 331.08,238.51Z" fill="rgb(255,255,255)"/><ellipse cx="338.32" cy="223.81" rx="1.55" ry="1.63" fill="rgb(242,242,242)"/><ellipse cx="336.49" cy="229.41" rx="1.24" ry="1.30" fill="rgb(0,0,0)"/><use href="#mb" transform="matrix(7.44 0 0.13 37.40 353.62 215.30)" fill="rgb(56,56,56)"/><use href="#mb" transform="matrix(5.58 0 0.13 32.60 353.62 217.30)" fill="rgb(0,0,0)"/><use href="#mb" transform="matrix(4.46 0 0.04 10.50 353.66 219.19)" fill="rgb(76,76,76)"/><ellipse cx="353.69" cy="235.50" rx="4.92" ry="2.50" fill="#000"/><path d="M347.00,237.60 Q350.59,235.15 353.70,237.25 Q356.79,235.15 360.40,237.60 C360.98,243.90 358.71,250.55 353.76,252.65 C348.79,250.55 346.47,243.90 347.00,237.60Z" fill="rgb(255,255,255)"/><ellipse cx="353.65" cy="225.35" rx="2.17" ry="2.28" fill="rgb(255,255,255)"/></g>
</g>
<clipPath id="cp21"><rect x="276" y="309" width="94.9" height="83.3"/></clipPath>
<g clip-path="url(#cp21)">
<g filter="url(#soft)"><rect x="276" y="309" width="94.9" height="83.3" fill="#414141"/><rect x="282" y="309" width="84.9" height="4.5" fill="#4e4e4e"/><rect x="276" y="309" width="6" height="4.5" fill="#2a2a2a"/><rect x="284.00" y="313.5" width="78.20" height="33.8" fill="#333"/><rect x="283.60" y="313.5" width="2.4" height="33.8" fill="#262626"/><rect x="298.90" y="313.5" width="2.4" height="33.8" fill="#262626"/><rect x="314.20" y="313.5" width="2.4" height="33.8" fill="#262626"/><rect x="329.50" y="313.5" width="2.4" height="33.8" fill="#262626"/><rect x="344.80" y="313.5" width="2.4" height="33.8" fill="#262626"/><rect x="360.10" y="313.5" width="2.4" height="33.8" fill="#262626"/><path d="M292.77,348.22 C290.78,359.47 291.25,369.72 292.01,378.50" fill="none" stroke="#b4b4b4" stroke-width="1.5" stroke-linecap="round"/><path d="M288.3,346.7 L284.5,349.2 M297.3,346.7 L301.1,349.2 M288.0,324.0 l-2.6,1.2 M297.0,324.0 l2.6,1.2" stroke="#a8a8a8" stroke-width="1.3" stroke-linecap="round"/><use href="#mb" transform="matrix(6.20 0 0.36 35.00 292.41 314.22)" fill="url(#mg)"/><ellipse cx="290.74" cy="321.22" rx="0.74" ry="0.97" fill="#9a9a9a" opacity="0.25"/><ellipse cx="294.22" cy="321.22" rx="0.74" ry="0.97" fill="#9a9a9a" opacity="0.25"/><ellipse cx="292.59" cy="331.72" rx="2.79" ry="3.63" fill="#9a9a9a" opacity="0.1"/><ellipse cx="289.58" cy="340.47" rx="1.55" ry="2.02" fill="#9a9a9a" opacity="0.1"/><ellipse cx="295.79" cy="341.52" rx="1.55" ry="2.02" fill="#9a9a9a" opacity="0.1"/><path d="M307.09,348.29 C308.00,360.00 311.23,370.71 310.15,379.90" fill="none" stroke="#b4b4b4" stroke-width="1.5" stroke-linecap="round"/><path d="M302.6,346.8 L298.8,349.3 M311.6,346.8 L315.4,349.3 M303.1,324.1 l-2.6,1.2 M312.1,324.1 l2.6,1.2" stroke="#a8a8a8" stroke-width="1.3" stroke-linecap="round"/><use href="#mb" transform="matrix(6.20 0 -0.77 35.00 307.85 314.29)" fill="url(#mg)"/><ellipse cx="305.96" cy="321.29" rx="0.74" ry="0.97" fill="#9a9a9a" opacity="0.25"/><ellipse cx="309.43" cy="321.29" rx="0.74" ry="0.97" fill="#9a9a9a" opacity="0.25"/><ellipse cx="307.47" cy="331.79" rx="2.79" ry="3.63" fill="#9a9a9a" opacity="0.1"/><ellipse cx="304.18" cy="340.54" rx="1.55" ry="2.02" fill="#9a9a9a" opacity="0.1"/><ellipse cx="310.35" cy="341.59" rx="1.55" ry="2.02" fill="#9a9a9a" opacity="0.1"/><path d="M323.05,348.58 C321.32,360.11 318.06,370.65 319.52,379.68" fill="none" stroke="#b4b4b4" stroke-width="1.5" stroke-linecap="round"/><path d="M318.5,347.1 L314.7,349.6 M327.5,347.1 L331.3,349.6 M318.3,324.4 l-2.6,1.2 M327.3,324.4 l2.6,1.2" stroke="#a8a8a8" stroke-width="1.3" stroke-linecap="round"/><use href="#mb" transform="matrix(6.20 0 0.33 35.00 322.72 314.58)" fill="url(#mg)"/><ellipse cx="321.05" cy="321.58" rx="0.74" ry="0.97" fill="#9a9a9a" opacity="0.25"/><ellipse cx="324.52" cy="321.58" rx="0.74" ry="0.97" fill="#9a9a9a" opacity="0.25"/><ellipse cx="322.88" cy="332.08" rx="2.79" ry="3.63" fill="#9a9a9a" opacity="0.1"/><ellipse cx="319.86" cy="340.83" rx="1.55" ry="2.02" fill="#9a9a9a" opacity="0.1"/><ellipse cx="326.07" cy="341.88" rx="1.55" ry="2.02" fill="#9a9a9a" opacity="0.1"/><path d="M336.95,347.66 C336.13,359.47 335.74,370.27 336.28,379.53" fill="none" stroke="#b4b4b4" stroke-width="1.5" stroke-linecap="round"/><path d="M332.5,346.2 L328.7,348.7 M341.5,346.2 L345.3,348.7 M333.0,323.5 l-2.6,1.2 M342.0,323.5 l2.6,1.2" stroke="#a8a8a8" stroke-width="1.3" stroke-linecap="round"/><use href="#mb" transform="matrix(6.20 0 -0.77 35.00 337.72 313.66)" fill="url(#mg)"/><ellipse cx="335.83" cy="320.66" rx="0.74" ry="0.97" fill="#9a9a9a" opacity="0.25"/><ellipse cx="339.30" cy="320.66" rx="0.74" ry="0.97" fill="#9a9a9a" opacity="0.25"/><ellipse cx="337.34" cy="331.16" rx="2.79" ry="3.63" fill="#9a9a9a" opacity="0.1"/><ellipse cx="334.05" cy="339.91" rx="1.55" ry="2.02" fill="#9a9a9a" opacity="0.1"/><ellipse cx="340.22" cy="340.96" rx="1.55" ry="2.02" fill="#9a9a9a" opacity="0.1"/><path d="M353.39,347.83 C352.31,359.50 351.85,370.17 353.71,379.32" fill="none" stroke="#b4b4b4" stroke-width="1.5" stroke-linecap="round"/><path d="M348.9,346.3 L345.1,348.8 M357.9,346.3 L361.7,348.8 M349.1,323.6 l-2.6,1.2 M358.1,323.6 l2.6,1.2" stroke="#a8a8a8" stroke-width="1.3" stroke-linecap="round"/><use href="#mb" transform="matrix(6.20 0 -0.32 35.00 353.71 313.83)" fill="url(#mg)"/><ellipse cx="351.91" cy="320.83" rx="0.74" ry="0.97" fill="#9a9a9a" opacity="0.25"/><ellipse cx="355.39" cy="320.83" rx="0.74" ry="0.97" fill="#9a9a9a" opacity="0.25"/><ellipse cx="353.55" cy="331.33" rx="2.79" ry="3.63" fill="#9a9a9a" opacity="0.1"/><ellipse cx="350.37" cy="340.08" rx="1.55" ry="2.02" fill="#9a9a9a" opacity="0.1"/><ellipse cx="356.56" cy="341.13" rx="1.55" ry="2.02" fill="#9a9a9a" opacity="0.1"/></g>
<g filter="url(#heat)"><rect x="276" y="309" width="94.9" height="83.3" fill="#000"/><use href="#mb" transform="matrix(7.44 0 0.36 37.40 292.41 313.62)" fill="rgb(56,56,56)"/><use href="#mb" transform="matrix(5.58 0 0.36 32.60 292.41 315.62)" fill="rgb(0,0,0)"/><use href="#mb" transform="matrix(4.02 0 0.11 9.45 292.51 318.16)" fill="rgb(76,76,76)"/><ellipse cx="289.90" cy="341.52" rx="3.41" ry="3.58" fill="rgb(255,255,255)"/><ellipse cx="293.64" cy="342.92" rx="2.17" ry="2.28" fill="rgb(153,153,153)"/><ellipse cx="295.78" cy="340.12" rx="2.60" ry="2.73" fill="rgb(255,255,255)"/><use href="#mb" transform="matrix(7.44 0 -0.77 37.40 307.85 313.69)" fill="rgb(56,56,56)"/><use href="#mb" transform="matrix(5.58 0 -0.77 32.60 307.85 315.69)" fill="rgb(0,0,0)"/><use href="#mb" transform="matrix(3.57 0 -0.23 8.40 307.64 318.88)" fill="rgb(71,71,71)"/><ellipse cx="306.00" cy="342.29" rx="3.72" ry="3.91" fill="rgb(255,255,255)"/><ellipse cx="310.40" cy="339.49" rx="2.17" ry="2.28" fill="rgb(140,140,140)"/><use href="#mb" transform="matrix(7.44 0 0.33 37.40 322.72 313.98)" fill="rgb(56,56,56)"/><use href="#mb" transform="matrix(5.58 0 0.33 32.60 322.72 315.98)" fill="rgb(0,0,0)"/><use href="#mb" transform="matrix(3.57 0 0.10 8.40 322.81 319.17)" fill="rgb(64,64,64)"/><path d="M316.56,336.66 Q319.96,334.34 322.92,336.33 Q325.85,334.34 329.29,336.66 C329.87,342.65 327.75,348.97 323.06,350.96 C318.33,348.97 316.09,342.65 316.56,336.66Z" fill="rgb(255,255,255)"/><use href="#mb" transform="matrix(7.44 0 -0.77 37.40 337.72 313.06)" fill="rgb(56,56,56)"/><use href="#mb" transform="matrix(5.58 0 -0.77 32.60 337.72 315.06)" fill="rgb(0,0,0)"/><use href="#mb" transform="matrix(3.57 0 -0.23 8.40 337.51 318.26)" fill="rgb(71,71,71)"/><ellipse cx="339.60" cy="340.96" rx="3.41" ry="3.58" fill="rgb(255,255,255)"/><ellipse cx="334.64" cy="340.96" rx="2.79" ry="2.93" fill="rgb(153,153,153)"/><use href="#mb" transform="matrix(7.44 0 -0.32 37.40 353.71 313.23)" fill="rgb(0,0,0)"/><use href="#mb" transform="matrix(5.58 0 -0.32 32.60 353.71 315.23)" fill="rgb(0,0,0)"/><ellipse cx="353.45" cy="342.53" rx="4.03" ry="3.22" fill="rgb(76,76,76)"/><ellipse cx="353.44" cy="343.23" rx="1.86" ry="1.95" fill="rgb(178,178,178)"/></g>
</g>
<clipPath id="cp22"><rect x="276" y="394" width="94.9" height="84"/></clipPath>
<g clip-path="url(#cp22)">
<g filter="url(#soft)"><rect x="276" y="394" width="94.9" height="84" fill="#414141"/><rect x="282" y="394" width="84.9" height="4.5" fill="#4e4e4e"/><rect x="276" y="394" width="6" height="4.5" fill="#2a2a2a"/><rect x="284.00" y="398.5" width="78.20" height="34.3" fill="#333"/><rect x="283.60" y="398.5" width="2.4" height="34.3" fill="#262626"/><rect x="298.90" y="398.5" width="2.4" height="34.3" fill="#262626"/><rect x="314.20" y="398.5" width="2.4" height="34.3" fill="#262626"/><rect x="329.50" y="398.5" width="2.4" height="34.3" fill="#262626"/><rect x="344.80" y="398.5" width="2.4" height="34.3" fill="#262626"/><rect x="360.10" y="398.5" width="2.4" height="34.3" fill="#262626"/><path d="M292.30,433.18 C292.08,445.39 291.53,456.60 290.51,466.21" fill="none" stroke="#b4b4b4" stroke-width="1.5" stroke-linecap="round"/><path d="M287.8,431.7 L284.0,434.2 M296.8,431.7 L300.6,434.2 M288.1,409.3 l-2.6,1.2 M297.1,409.3 l2.6,1.2" stroke="#a8a8a8" stroke-width="1.3" stroke-linecap="round"/><use href="#mb" transform="matrix(6.20 0 -0.40 34.50 292.70 399.68)" fill="url(#mg)"/><ellipse cx="290.88" cy="406.58" rx="0.74" ry="0.97" fill="#9a9a9a" opacity="0.25"/><ellipse cx="294.35" cy="406.58" rx="0.74" ry="0.97" fill="#9a9a9a" opacity="0.25"/><ellipse cx="292.50" cy="416.93" rx="2.79" ry="3.63" fill="#9a9a9a" opacity="0.1"/><ellipse cx="289.30" cy="425.55" rx="1.55" ry="2.02" fill="#9a9a9a" opacity="0.1"/><ellipse cx="295.49" cy="426.59" rx="1.55" ry="2.02" fill="#9a9a9a" opacity="0.1"/><path d="M307.25,433.01 C308.56,445.10 308.98,456.19 309.82,465.69" fill="none" stroke="#b4b4b4" stroke-width="1.5" stroke-linecap="round"/><path d="M302.7,431.5 L298.9,434.0 M311.7,431.5 L315.5,434.0 M303.0,409.2 l-2.6,1.2 M312.0,409.2 l2.6,1.2" stroke="#a8a8a8" stroke-width="1.3" stroke-linecap="round"/><use href="#mb" transform="matrix(6.20 0 -0.35 34.50 307.60 399.51)" fill="url(#mg)"/><ellipse cx="305.79" cy="406.41" rx="0.74" ry="0.97" fill="#9a9a9a" opacity="0.25"/><ellipse cx="309.26" cy="406.41" rx="0.74" ry="0.97" fill="#9a9a9a" opacity="0.25"/><ellipse cx="307.42" cy="416.76" rx="2.79" ry="3.63" fill="#9a9a9a" opacity="0.1"/><ellipse cx="304.23" cy="425.39" rx="1.55" ry="2.02" fill="#9a9a9a" opacity="0.1"/><ellipse cx="310.42" cy="426.42" rx="1.55" ry="2.02" fill="#9a9a9a" opacity="0.1"/><path d="M322.71,433.18 C323.30,445.20 319.09,456.22 318.95,465.67" fill="none" stroke="#b4b4b4" stroke-width="1.5" stroke-linecap="round"/><path d="M318.2,431.7 L314.4,434.2 M327.2,431.7 L331.0,434.2 M318.4,409.3 l-2.6,1.2 M327.4,409.3 l2.6,1.2" stroke="#a8a8a8" stroke-width="1.3" stroke-linecap="round"/><use href="#mb" transform="matrix(6.20 0 -0.31 34.50 323.02 399.68)" fill="url(#mg)"/><ellipse cx="321.23" cy="406.58" rx="0.74" ry="0.97" fill="#9a9a9a" opacity="0.25"/><ellipse cx="324.70" cy="406.58" rx="0.74" ry="0.97" fill="#9a9a9a" opacity="0.25"/><ellipse cx="322.87" cy="416.93" rx="2.79" ry="3.63" fill="#9a9a9a" opacity="0.1"/><ellipse cx="319.69" cy="425.56" rx="1.55" ry="2.02" fill="#9a9a9a" opacity="0.1"/><ellipse cx="325.88" cy="426.59" rx="1.55" ry="2.02" fill="#9a9a9a" opacity="0.1"/><path d="M337.69,433.43 C338.42,445.66 339.03,456.88 337.95,466.51" fill="none" stroke="#b4b4b4" stroke-width="1.5" stroke-linecap="round"/><path d="M333.2,431.9 L329.4,434.4 M342.2,431.9 L346.0,434.4 M333.3,409.6 l-2.6,1.2 M342.3,409.6 l2.6,1.2" stroke="#a8a8a8" stroke-width="1.3" stroke-linecap="round"/><use href="#mb" transform="matrix(6.20 0 -0.17 34.50 337.87 399.93)" fill="url(#mg)"/><ellipse cx="336.10" cy="406.83" rx="0.74" ry="0.97" fill="#9a9a9a" opacity="0.25"/><ellipse cx="339.57" cy="406.83" rx="0.74" ry="0.97" fill="#9a9a9a" opacity="0.25"/><ellipse cx="337.78" cy="417.18" rx="2.79" ry="3.63" fill="#9a9a9a" opacity="0.1"/><ellipse cx="334.64" cy="425.80" rx="1.55" ry="2.02" fill="#9a9a9a" opacity="0.1"/><ellipse cx="340.83" cy="426.84" rx="1.55" ry="2.02" fill="#9a9a9a" opacity="0.1"/><path d="M352.67,433.13 C352.41,445.17 354.64,456.22 352.96,465.68" fill="none" stroke="#b4b4b4" stroke-width="1.5" stroke-linecap="round"/><path d="M348.2,431.6 L344.4,434.1 M357.2,431.6 L361.0,434.1 M348.7,409.3 l-2.6,1.2 M357.7,409.3 l2.6,1.2" stroke="#a8a8a8" stroke-width="1.3" stroke-linecap="round"/><use href="#mb" transform="matrix(6.20 0 -0.68 34.50 353.35 399.63)" fill="url(#mg)"/><ellipse cx="351.48" cy="406.53" rx="0.74" ry="0.97" fill="#9a9a9a" opacity="0.25"/><ellipse cx="354.95" cy="406.53" rx="0.74" ry="0.97" fill="#9a9a9a" opacity="0.25"/><ellipse cx="353.01" cy="416.88" rx="2.79" ry="3.63" fill="#9a9a9a" opacity="0.1"/><ellipse cx="349.74" cy="425.50" rx="1.55" ry="2.02" fill="#9a9a9a" opacity="0.1"/><ellipse cx="355.92" cy="426.54" rx="1.55" ry="2.02" fill="#9a9a9a" opacity="0.1"/></g>
<g filter="url(#heat)"><rect x="276" y="394" width="94.9" height="84" fill="#000"/><ellipse cx="290.43" cy="434.87" rx="1.55" ry="1.63" fill="rgb(56,56,56)"/><ellipse cx="307.59" cy="400.55" rx="1.86" ry="1.95" fill="rgb(64,64,64)"/></g>
</g>
<clipPath id="cp23"><rect x="276" y="480" width="94.9" height="76"/></clipPath>
<g clip-path="url(#cp23)">
<g filter="url(#soft)"><rect x="276" y="480" width="94.9" height="76" fill="#414141"/><rect x="282" y="480" width="84.9" height="8" fill="#646464"/><rect x="276" y="480" width="6" height="8" fill="#2a2a2a"/><rect x="284.00" y="488" width="78.20" height="35.6" fill="#333"/><rect x="283.60" y="488" width="2.4" height="35.6" fill="#262626"/><rect x="298.90" y="488" width="2.4" height="35.6" fill="#262626"/><rect x="314.20" y="488" width="2.4" height="35.6" fill="#262626"/><rect x="329.50" y="488" width="2.4" height="35.6" fill="#262626"/><rect x="344.80" y="488" width="2.4" height="35.6" fill="#262626"/><rect x="360.10" y="488" width="2.4" height="35.6" fill="#262626"/><path d="M293.37,524.16 C294.31,535.82 297.20,546.48 296.45,555.61" fill="none" stroke="#b4b4b4" stroke-width="1.5" stroke-linecap="round"/><path d="M288.9,522.7 L285.1,525.2 M297.9,522.7 L301.7,525.2 M288.4,499.8 l-2.6,1.2 M297.4,499.8 l2.6,1.2" stroke="#a8a8a8" stroke-width="1.3" stroke-linecap="round"/><use href="#mb" transform="matrix(6.80 0 0.70 35.20 292.66 489.96)" fill="url(#mg)"/><ellipse cx="290.90" cy="497.00" rx="0.82" ry="1.06" fill="#9a9a9a" opacity="0.25"/><ellipse cx="294.71" cy="497.00" rx="0.82" ry="1.06" fill="#9a9a9a" opacity="0.25"/><ellipse cx="293.02" cy="507.56" rx="3.06" ry="3.98" fill="#9a9a9a" opacity="0.1"/><ellipse cx="289.79" cy="516.36" rx="1.70" ry="2.21" fill="#9a9a9a" opacity="0.1"/><ellipse cx="296.61" cy="517.42" rx="1.70" ry="2.21" fill="#9a9a9a" opacity="0.1"/><path d="M308.60,524.95 C309.90,536.82 312.88,547.68 311.48,556.99" fill="none" stroke="#b4b4b4" stroke-width="1.5" stroke-linecap="round"/><path d="M304.1,523.5 L300.3,526.0 M313.1,523.5 L316.9,526.0 M303.7,500.6 l-2.6,1.2 M312.7,500.6 l2.6,1.2" stroke="#a8a8a8" stroke-width="1.3" stroke-linecap="round"/><use href="#mb" transform="matrix(6.80 0 0.52 35.20 308.08 490.75)" fill="url(#mg)"/><ellipse cx="306.28" cy="497.79" rx="0.82" ry="1.06" fill="#9a9a9a" opacity="0.25"/><ellipse cx="310.09" cy="497.79" rx="0.82" ry="1.06" fill="#9a9a9a" opacity="0.25"/><ellipse cx="308.34" cy="508.35" rx="3.06" ry="3.98" fill="#9a9a9a" opacity="0.1"/><ellipse cx="305.07" cy="517.15" rx="1.70" ry="2.21" fill="#9a9a9a" opacity="0.1"/><ellipse cx="311.89" cy="518.21" rx="1.70" ry="2.21" fill="#9a9a9a" opacity="0.1"/><path d="M321.95,524.08 C321.36,535.49 326.28,545.89 324.80,554.82" fill="none" stroke="#b4b4b4" stroke-width="1.5" stroke-linecap="round"/><path d="M317.5,522.6 L313.7,525.1 M326.5,522.6 L330.3,525.1 M317.9,499.7 l-2.6,1.2 M326.9,499.7 l2.6,1.2" stroke="#a8a8a8" stroke-width="1.3" stroke-linecap="round"/><use href="#mb" transform="matrix(6.80 0 -0.67 35.20 322.62 489.88)" fill="url(#mg)"/><ellipse cx="320.59" cy="496.92" rx="0.82" ry="1.06" fill="#9a9a9a" opacity="0.25"/><ellipse cx="324.39" cy="496.92" rx="0.82" ry="1.06" fill="#9a9a9a" opacity="0.25"/><ellipse cx="322.29" cy="507.48" rx="3.06" ry="3.98" fill="#9a9a9a" opacity="0.1"/><ellipse cx="318.72" cy="516.28" rx="1.70" ry="2.21" fill="#9a9a9a" opacity="0.1"/><ellipse cx="325.50" cy="517.34" rx="1.70" ry="2.21" fill="#9a9a9a" opacity="0.1"/><path d="M338.19,524.55 C337.24,536.02 341.68,546.48 340.59,555.45" fill="none" stroke="#b4b4b4" stroke-width="1.5" stroke-linecap="round"/><path d="M333.7,523.1 L329.9,525.6 M342.7,523.1 L346.5,525.6 M333.7,500.2 l-2.6,1.2 M342.7,500.2 l2.6,1.2" stroke="#a8a8a8" stroke-width="1.3" stroke-linecap="round"/><use href="#mb" transform="matrix(6.80 0 0.04 35.20 338.15 490.35)" fill="url(#mg)"/><ellipse cx="336.25" cy="497.39" rx="0.82" ry="1.06" fill="#9a9a9a" opacity="0.25"/><ellipse cx="340.06" cy="497.39" rx="0.82" ry="1.06" fill="#9a9a9a" opacity="0.25"/><ellipse cx="338.17" cy="507.95" rx="3.06" ry="3.98" fill="#9a9a9a" opacity="0.1"/><ellipse cx="334.78" cy="516.75" rx="1.70" ry="2.21" fill="#9a9a9a" opacity="0.1"/><ellipse cx="341.58" cy="517.81" rx="1.70" ry="2.21" fill="#9a9a9a" opacity="0.1"/><path d="M354.15,524.84 C354.41,536.23 358.82,546.61 357.53,555.52" fill="none" stroke="#b4b4b4" stroke-width="1.5" stroke-linecap="round"/><path d="M349.6,523.3 L345.8,525.8 M358.6,523.3 L362.4,525.8 M349.2,500.5 l-2.6,1.2 M358.2,500.5 l2.6,1.2" stroke="#a8a8a8" stroke-width="1.3" stroke-linecap="round"/><use href="#mb" transform="matrix(6.80 0 0.57 35.20 353.57 490.64)" fill="url(#mg)"/><ellipse cx="351.78" cy="497.68" rx="0.82" ry="1.06" fill="#9a9a9a" opacity="0.25"/><ellipse cx="355.59" cy="497.68" rx="0.82" ry="1.06" fill="#9a9a9a" opacity="0.25"/><ellipse cx="353.86" cy="508.24" rx="3.06" ry="3.98" fill="#9a9a9a" opacity="0.1"/><ellipse cx="350.60" cy="517.04" rx="1.70" ry="2.21" fill="#9a9a9a" opacity="0.1"/><ellipse cx="357.42" cy="518.09" rx="1.70" ry="2.21" fill="#9a9a9a" opacity="0.1"/></g>
<g filter="url(#heat)"><rect x="276" y="480" width="94.9" height="76" fill="#000"/><ellipse cx="340.55" cy="510.07" rx="1.90" ry="2.00" fill="rgb(102,102,102)"/></g>
</g>
<clipPath id="cp24"><rect x="276" y="558.2" width="94.9" height="75"/></clipPath>
<g clip-path="url(#cp24)">
<g filter="url(#soft)"><rect x="276" y="558.2" width="94.9" height="75" fill="#414141"/><rect x="282" y="558.2" width="84.9" height="4.5" fill="#4e4e4e"/><rect x="276" y="558.2" width="6" height="4.5" fill="#2a2a2a"/><rect x="284.00" y="562.7" width="78.20" height="34.2" fill="#333"/><rect x="283.60" y="562.7" width="2.4" height="34.2" fill="#262626"/><rect x="298.90" y="562.7" width="2.4" height="34.2" fill="#262626"/><rect x="314.20" y="562.7" width="2.4" height="34.2" fill="#262626"/><rect x="329.50" y="562.7" width="2.4" height="34.2" fill="#262626"/><rect x="344.80" y="562.7" width="2.4" height="34.2" fill="#262626"/><rect x="360.10" y="562.7" width="2.4" height="34.2" fill="#262626"/><path d="M293.52,597.17 C293.48,610.38 292.76,622.59 292.05,633.06" fill="none" stroke="#b4b4b4" stroke-width="1.5" stroke-linecap="round"/><path d="M289.0,595.7 L285.2,598.2 M298.0,595.7 L301.8,598.2 M288.5,572.6 l-2.6,1.2 M297.5,572.6 l2.6,1.2" stroke="#a8a8a8" stroke-width="1.3" stroke-linecap="round"/><use href="#mb" transform="matrix(6.30 0 0.73 35.50 292.79 562.67)" fill="url(#mg)"/><ellipse cx="291.17" cy="569.77" rx="0.76" ry="0.98" fill="#9a9a9a" opacity="0.25"/><ellipse cx="294.70" cy="569.77" rx="0.76" ry="0.98" fill="#9a9a9a" opacity="0.25"/><ellipse cx="293.15" cy="580.42" rx="2.83" ry="3.69" fill="#9a9a9a" opacity="0.1"/><ellipse cx="290.19" cy="589.30" rx="1.57" ry="2.05" fill="#9a9a9a" opacity="0.1"/><ellipse cx="296.51" cy="590.36" rx="1.57" ry="2.05" fill="#9a9a9a" opacity="0.1"/><path d="M307.72,598.00 C306.82,611.02 309.77,623.03 309.33,633.33" fill="none" stroke="#b4b4b4" stroke-width="1.5" stroke-linecap="round"/><path d="M303.2,596.5 L299.4,599.0 M312.2,596.5 L316.0,599.0 M303.4,573.4 l-2.6,1.2 M312.4,573.4 l2.6,1.2" stroke="#a8a8a8" stroke-width="1.3" stroke-linecap="round"/><use href="#mb" transform="matrix(6.30 0 -0.23 35.50 307.95 563.50)" fill="url(#mg)"/><ellipse cx="306.14" cy="570.60" rx="0.76" ry="0.98" fill="#9a9a9a" opacity="0.25"/><ellipse cx="309.67" cy="570.60" rx="0.76" ry="0.98" fill="#9a9a9a" opacity="0.25"/><ellipse cx="307.83" cy="581.25" rx="2.83" ry="3.69" fill="#9a9a9a" opacity="0.1"/><ellipse cx="304.63" cy="590.13" rx="1.57" ry="2.05" fill="#9a9a9a" opacity="0.1"/><ellipse cx="310.92" cy="591.19" rx="1.57" ry="2.05" fill="#9a9a9a" opacity="0.1"/><path d="M323.41,597.70 C324.61,610.61 322.31,622.53 324.40,632.74" fill="none" stroke="#b4b4b4" stroke-width="1.5" stroke-linecap="round"/><path d="M318.9,596.2 L315.1,598.7 M327.9,596.2 L331.7,598.7 M318.4,573.1 l-2.6,1.2 M327.4,573.1 l2.6,1.2" stroke="#a8a8a8" stroke-width="1.3" stroke-linecap="round"/><use href="#mb" transform="matrix(6.30 0 0.74 35.50 322.67 563.20)" fill="url(#mg)"/><ellipse cx="321.05" cy="570.30" rx="0.76" ry="0.98" fill="#9a9a9a" opacity="0.25"/><ellipse cx="324.58" cy="570.30" rx="0.76" ry="0.98" fill="#9a9a9a" opacity="0.25"/><ellipse cx="323.04" cy="580.95" rx="2.83" ry="3.69" fill="#9a9a9a" opacity="0.1"/><ellipse cx="320.07" cy="589.82" rx="1.57" ry="2.05" fill="#9a9a9a" opacity="0.1"/><ellipse cx="326.39" cy="590.89" rx="1.57" ry="2.05" fill="#9a9a9a" opacity="0.1"/><path d="M338.26,597.73 C337.27,610.42 335.92,622.10 337.87,632.12" fill="none" stroke="#b4b4b4" stroke-width="1.5" stroke-linecap="round"/><path d="M333.8,596.2 L330.0,598.7 M342.8,596.2 L346.6,598.7 M333.8,573.2 l-2.6,1.2 M342.8,573.2 l2.6,1.2" stroke="#a8a8a8" stroke-width="1.3" stroke-linecap="round"/><use href="#mb" transform="matrix(6.30 0 -0.12 35.50 338.38 563.23)" fill="url(#mg)"/><ellipse cx="336.59" cy="570.33" rx="0.76" ry="0.98" fill="#9a9a9a" opacity="0.25"/><ellipse cx="340.12" cy="570.33" rx="0.76" ry="0.98" fill="#9a9a9a" opacity="0.25"/><ellipse cx="338.32" cy="580.98" rx="2.83" ry="3.69" fill="#9a9a9a" opacity="0.1"/><ellipse cx="335.14" cy="589.86" rx="1.57" ry="2.05" fill="#9a9a9a" opacity="0.1"/><ellipse cx="341.44" cy="590.92" rx="1.57" ry="2.05" fill="#9a9a9a" opacity="0.1"/><path d="M354.35,598.05 C352.51,610.91 351.91,622.77 353.42,632.94" fill="none" stroke="#b4b4b4" stroke-width="1.5" stroke-linecap="round"/><path d="M349.8,596.5 L346.0,599.0 M358.8,596.5 L362.6,599.0 M349.6,573.5 l-2.6,1.2 M358.6,573.5 l2.6,1.2" stroke="#a8a8a8" stroke-width="1.3" stroke-linecap="round"/><use href="#mb" transform="matrix(6.30 0 0.29 35.50 354.06 563.55)" fill="url(#mg)"/><ellipse cx="352.35" cy="570.65" rx="0.76" ry="0.98" fill="#9a9a9a" opacity="0.25"/><ellipse cx="355.88" cy="570.65" rx="0.76" ry="0.98" fill="#9a9a9a" opacity="0.25"/><ellipse cx="354.20" cy="581.30" rx="2.83" ry="3.69" fill="#9a9a9a" opacity="0.1"/><ellipse cx="351.12" cy="590.17" rx="1.57" ry="2.05" fill="#9a9a9a" opacity="0.1"/><ellipse cx="357.43" cy="591.24" rx="1.57" ry="2.05" fill="#9a9a9a" opacity="0.1"/></g>
<g filter="url(#heat)"><rect x="276" y="558.2" width="94.9" height="75" fill="#000"/><ellipse cx="341.14" cy="584.53" rx="1.89" ry="1.32" fill="rgb(102,102,102)"/></g>
</g>
<clipPath id="cp30"><rect x="372.0" y="211" width="94.0" height="83"/></clipPath>
<g clip-path="url(#cp30)">
<g filter="url(#soft)"><rect x="372.0" y="211" width="94.0" height="83" fill="#414141"/><rect x="378.0" y="211" width="84.0" height="4.5" fill="#4e4e4e"/><rect x="372.0" y="211" width="6" height="4.5" fill="#2a2a2a"/><rect x="380.00" y="215.5" width="78.20" height="34.1" fill="#333"/><rect x="379.60" y="215.5" width="2.4" height="34.1" fill="#262626"/><rect x="394.90" y="215.5" width="2.4" height="34.1" fill="#262626"/><rect x="410.20" y="215.5" width="2.4" height="34.1" fill="#262626"/><rect x="425.50" y="215.5" width="2.4" height="34.1" fill="#262626"/><rect x="440.80" y="215.5" width="2.4" height="34.1" fill="#262626"/><rect x="456.10" y="215.5" width="2.4" height="34.1" fill="#262626"/><path d="M387.78,250.21 C387.35,262.85 386.99,274.49 386.55,284.47" fill="none" stroke="#b4b4b4" stroke-width="1.5" stroke-linecap="round"/><path d="M383.3,248.7 L379.5,251.2 M392.3,248.7 L396.1,251.2 M383.9,226.0 l-2.6,1.2 M392.9,226.0 l2.6,1.2" stroke="#a8a8a8" stroke-width="1.3" stroke-linecap="round"/><use href="#mb" transform="matrix(6.20 0 -0.80 35.00 388.58 216.21)" fill="url(#mg)"/><ellipse cx="386.68" cy="223.21" rx="0.74" ry="0.97" fill="#9a9a9a" opacity="0.25"/><ellipse cx="390.15" cy="223.21" rx="0.74" ry="0.97" fill="#9a9a9a" opacity="0.25"/><ellipse cx="388.18" cy="233.71" rx="2.79" ry="3.63" fill="#9a9a9a" opacity="0.1"/><ellipse cx="384.88" cy="242.46" rx="1.55" ry="2.02" fill="#9a9a9a" opacity="0.1"/><ellipse cx="391.06" cy="243.51" rx="1.55" ry="2.02" fill="#9a9a9a" opacity="0.1"/><path d="M387.78,250.21 C387.35,262.85 386.99,274.49 386.55,284.47" fill="none" stroke="#4048d8" stroke-width="1.5" opacity="0.75" stroke-dasharray="10.0,200"/><path d="M403.71,250.76 C404.35,262.59 402.43,273.42 403.38,282.71" fill="none" stroke="#b4b4b4" stroke-width="1.5" stroke-linecap="round"/><path d="M399.2,249.3 L395.4,251.8 M408.2,249.3 L412.0,251.8 M399.2,226.6 l-2.6,1.2 M408.2,226.6 l2.6,1.2" stroke="#a8a8a8" stroke-width="1.3" stroke-linecap="round"/><use href="#mb" transform="matrix(6.20 0 -0.01 35.00 403.72 216.76)" fill="url(#mg)"/><ellipse cx="401.98" cy="223.76" rx="0.74" ry="0.97" fill="#9a9a9a" opacity="0.25"/><ellipse cx="405.45" cy="223.76" rx="0.74" ry="0.97" fill="#9a9a9a" opacity="0.25"/><ellipse cx="403.71" cy="234.26" rx="2.79" ry="3.63" fill="#9a9a9a" opacity="0.1"/><ellipse cx="400.61" cy="243.01" rx="1.55" ry="2.02" fill="#9a9a9a" opacity="0.1"/><ellipse cx="406.81" cy="244.06" rx="1.55" ry="2.02" fill="#9a9a9a" opacity="0.1"/><path d="M403.71,250.76 C404.35,262.59 402.43,273.42 403.38,282.71" fill="none" stroke="#4048d8" stroke-width="1.5" opacity="0.75" stroke-dasharray="9.3,200"/><path d="M419.26,250.45 C417.39,262.34 418.67,273.23 419.06,282.57" fill="none" stroke="#b4b4b4" stroke-width="1.5" stroke-linecap="round"/><path d="M414.8,248.9 L411.0,251.4 M423.8,248.9 L427.6,251.4 M414.7,226.2 l-2.6,1.2 M423.7,226.2 l2.6,1.2" stroke="#a8a8a8" stroke-width="1.3" stroke-linecap="round"/><use href="#mb" transform="matrix(6.20 0 0.09 35.00 419.17 216.45)" fill="url(#mg)"/><ellipse cx="417.45" cy="223.45" rx="0.74" ry="0.97" fill="#9a9a9a" opacity="0.25"/><ellipse cx="420.93" cy="223.45" rx="0.74" ry="0.97" fill="#9a9a9a" opacity="0.25"/><ellipse cx="419.21" cy="233.95" rx="2.79" ry="3.63" fill="#9a9a9a" opacity="0.1"/><ellipse cx="416.14" cy="242.70" rx="1.55" ry="2.02" fill="#9a9a9a" opacity="0.1"/><ellipse cx="422.34" cy="243.75" rx="1.55" ry="2.02" fill="#9a9a9a" opacity="0.1"/><path d="M419.26,250.45 C417.39,262.34 418.67,273.23 419.06,282.57" fill="none" stroke="#4048d8" stroke-width="1.5" opacity="0.75" stroke-dasharray="9.3,200"/><path d="M433.14,250.96 C432.57,263.47 436.76,274.98 437.09,284.84" fill="none" stroke="#b4b4b4" stroke-width="1.5" stroke-linecap="round"/><path d="M428.6,249.5 L424.8,252.0 M437.6,249.5 L441.4,252.0 M429.0,226.8 l-2.6,1.2 M438.0,226.8 l2.6,1.2" stroke="#a8a8a8" stroke-width="1.3" stroke-linecap="round"/><use href="#mb" transform="matrix(6.20 0 -0.49 35.00 433.63 216.96)" fill="url(#mg)"/><ellipse cx="431.79" cy="223.96" rx="0.74" ry="0.97" fill="#9a9a9a" opacity="0.25"/><ellipse cx="435.26" cy="223.96" rx="0.74" ry="0.97" fill="#9a9a9a" opacity="0.25"/><ellipse cx="433.38" cy="234.46" rx="2.79" ry="3.63" fill="#9a9a9a" opacity="0.1"/><ellipse cx="430.16" cy="243.21" rx="1.55" ry="2.02" fill="#9a9a9a" opacity="0.1"/><ellipse cx="436.34" cy="244.26" rx="1.55" ry="2.02" fill="#9a9a9a" opacity="0.1"/><path d="M433.14,250.96 C432.57,263.47 436.76,274.98 437.09,284.84" fill="none" stroke="#4048d8" stroke-width="1.5" opacity="0.75" stroke-dasharray="9.9,200"/><path d="M449.97,250.31 C450.61,262.30 448.84,273.28 449.58,282.70" fill="none" stroke="#b4b4b4" stroke-width="1.5" stroke-linecap="round"/><path d="M445.5,248.8 L441.7,251.3 M454.5,248.8 L458.3,251.3 M445.1,226.1 l-2.6,1.2 M454.1,226.1 l2.6,1.2" stroke="#a8a8a8" stroke-width="1.3" stroke-linecap="round"/><use href="#mb" transform="matrix(6.20 0 0.56 35.00 449.41 216.31)" fill="url(#mg)"/><ellipse cx="447.78" cy="223.31" rx="0.74" ry="0.97" fill="#9a9a9a" opacity="0.25"/><ellipse cx="451.26" cy="223.31" rx="0.74" ry="0.97" fill="#9a9a9a" opacity="0.25"/><ellipse cx="449.69" cy="233.81" rx="2.79" ry="3.63" fill="#9a9a9a" opacity="0.1"/><ellipse cx="446.73" cy="242.56" rx="1.55" ry="2.02" fill="#9a9a9a" opacity="0.1"/><ellipse cx="452.95" cy="243.61" rx="1.55" ry="2.02" fill="#9a9a9a" opacity="0.1"/><path d="M449.97,250.31 C450.61,262.30 448.84,273.28 449.58,282.70" fill="none" stroke="#4048d8" stroke-width="1.5" opacity="0.75" stroke-dasharray="9.4,200"/></g>
<g filter="url(#heat)"><rect x="372.0" y="211" width="94.0" height="83" fill="#000"/><use href="#mb" transform="matrix(7.44 0 -0.80 37.40 388.58 215.61)" fill="rgb(56,56,56)"/><use href="#mb" transform="matrix(5.58 0 -0.80 32.60 388.58 217.61)" fill="rgb(0,0,0)"/><use href="#mb" transform="matrix(4.46 0 -0.24 10.50 388.35 219.50)" fill="rgb(76,76,76)"/><ellipse cx="388.13" cy="235.81" rx="4.92" ry="2.50" fill="#000"/><path d="M381.39,237.91 Q385.04,235.46 388.09,237.56 Q391.24,235.46 394.78,237.91 C395.19,244.21 392.75,250.86 387.74,252.96 C382.83,250.86 380.69,244.21 381.39,237.91Z" fill="rgb(255,255,255)"/><ellipse cx="388.34" cy="226.71" rx="1.98" ry="2.08" fill="rgb(255,255,255)"/><use href="#mb" transform="matrix(7.44 0 -0.01 37.40 403.72 216.16)" fill="rgb(56,56,56)"/><use href="#mb" transform="matrix(5.58 0 -0.01 32.60 403.72 218.16)" fill="rgb(0,0,0)"/><use href="#mb" transform="matrix(4.46 0 -0.00 10.50 403.72 220.05)" fill="rgb(76,76,76)"/><ellipse cx="403.71" cy="236.36" rx="4.92" ry="2.50" fill="#000"/><path d="M397.02,238.46 Q400.61,236.01 403.71,238.11 Q406.81,236.01 410.41,238.46 C410.96,244.76 408.67,251.41 403.71,253.51 C398.75,251.41 396.46,244.76 397.02,238.46Z" fill="rgb(255,255,255)"/><ellipse cx="403.72" cy="226.21" rx="2.60" ry="2.73" fill="rgb(255,255,255)"/><use href="#mb" transform="matrix(7.44 0 0.09 37.40 419.17 215.85)" fill="rgb(56,56,56)"/><use href="#mb" transform="matrix(5.58 0 0.09 32.60 419.17 217.85)" fill="rgb(0,0,0)"/><use href="#mb" transform="matrix(4.46 0 0.03 10.50 419.20 219.74)" fill="rgb(76,76,76)"/><ellipse cx="419.22" cy="236.05" rx="4.92" ry="2.50" fill="#000"/><path d="M412.53,238.15 Q416.12,235.70 419.22,237.80 Q422.32,235.70 425.92,238.15 C426.49,244.45 424.22,251.10 419.26,253.20 C414.30,251.10 411.99,244.45 412.53,238.15Z" fill="rgb(217,217,217)"/><ellipse cx="420.43" cy="225.20" rx="1.55" ry="1.63" fill="rgb(242,242,242)"/><ellipse cx="417.65" cy="228.70" rx="1.24" ry="1.30" fill="rgb(0,0,0)"/><ellipse cx="419.24" cy="246.20" rx="2.17" ry="2.28" fill="rgb(140,140,140)"/><use href="#mb" transform="matrix(7.44 0 -0.49 37.40 433.63 216.36)" fill="rgb(56,56,56)"/><use href="#mb" transform="matrix(5.58 0 -0.49 32.60 433.63 218.36)" fill="rgb(0,0,0)"/><use href="#mb" transform="matrix(4.46 0 -0.15 10.50 433.49 220.25)" fill="rgb(76,76,76)"/><ellipse cx="433.35" cy="236.56" rx="4.92" ry="2.50" fill="#000"/><path d="M426.63,238.66 Q430.26,236.21 433.33,238.31 Q436.46,236.21 440.02,238.66 C440.49,244.96 438.10,251.61 433.11,253.71 C428.18,251.61 425.98,244.96 426.63,238.66Z" fill="rgb(217,217,217)"/><ellipse cx="432.26" cy="225.71" rx="1.55" ry="1.63" fill="rgb(242,242,242)"/><ellipse cx="433.83" cy="246.71" rx="2.17" ry="2.28" fill="rgb(128,128,128)"/><use href="#mb" transform="matrix(7.44 0 0.56 37.40 449.41 215.71)" fill="rgb(56,56,56)"/><use href="#mb" transform="matrix(5.58 0 0.56 32.60 449.41 217.71)" fill="rgb(0,0,0)"/><use href="#mb" transform="matrix(4.46 0 0.17 10.50 449.56 219.60)" fill="rgb(82,82,82)"/><ellipse cx="449.99" cy="223.63" rx="1.77" ry="1.95" fill="rgb(0,0,0)"/><ellipse cx="447.03" cy="223.98" rx="1.70" ry="1.87" fill="rgb(120,120,120)"/><ellipse cx="449.72" cy="235.91" rx="4.92" ry="2.50" fill="#000"/><path d="M443.06,238.01 Q446.62,235.56 449.75,237.66 Q452.82,235.56 456.45,238.01 C457.11,244.31 454.92,250.96 450.00,253.06 C445.00,250.96 442.60,244.31 443.06,238.01Z" fill="rgb(255,255,255)"/></g>
</g>
<clipPath id="cp31"><rect x="372.0" y="309" width="94.0" height="83.3"/></clipPath>
<g clip-path="url(#cp31)">
<g filter="url(#soft)"><rect x="372.0" y="309" width="94.0" height="83.3" fill="#414141"/><rect x="378.0" y="309" width="84.0" height="4.5" fill="#4e4e4e"/><rect x="372.0" y="309" width="6" height="4.5" fill="#2a2a2a"/><rect x="380.00" y="313.5" width="78.20" height="33.8" fill="#333"/><rect x="379.60" y="313.5" width="2.4" height="33.8" fill="#262626"/><rect x="394.90" y="313.5" width="2.4" height="33.8" fill="#262626"/><rect x="410.20" y="313.5" width="2.4" height="33.8" fill="#262626"/><rect x="425.50" y="313.5" width="2.4" height="33.8" fill="#262626"/><rect x="440.80" y="313.5" width="2.4" height="33.8" fill="#262626"/><rect x="456.10" y="313.5" width="2.4" height="33.8" fill="#262626"/><path d="M388.16,347.63 C389.46,359.53 386.73,370.42 386.45,379.76" fill="none" stroke="#b4b4b4" stroke-width="1.5" stroke-linecap="round"/><path d="M383.7,346.1 L379.9,348.6 M392.7,346.1 L396.5,348.6 M383.9,323.4 l-2.6,1.2 M392.9,323.4 l2.6,1.2" stroke="#a8a8a8" stroke-width="1.3" stroke-linecap="round"/><use href="#mb" transform="matrix(6.20 0 -0.38 35.00 388.54 313.63)" fill="url(#mg)"/><ellipse cx="386.73" cy="320.63" rx="0.74" ry="0.97" fill="#9a9a9a" opacity="0.25"/><ellipse cx="390.20" cy="320.63" rx="0.74" ry="0.97" fill="#9a9a9a" opacity="0.25"/><ellipse cx="388.35" cy="331.13" rx="2.79" ry="3.63" fill="#9a9a9a" opacity="0.1"/><ellipse cx="385.15" cy="339.88" rx="1.55" ry="2.02" fill="#9a9a9a" opacity="0.1"/><ellipse cx="391.34" cy="340.93" rx="1.55" ry="2.02" fill="#9a9a9a" opacity="0.1"/><path d="M403.37,347.71 C401.94,359.98 403.12,371.25 402.86,380.91" fill="none" stroke="#b4b4b4" stroke-width="1.5" stroke-linecap="round"/><path d="M398.9,346.2 L395.1,348.7 M407.9,346.2 L411.7,348.7 M399.4,323.5 l-2.6,1.2 M408.4,323.5 l2.6,1.2" stroke="#a8a8a8" stroke-width="1.3" stroke-linecap="round"/><use href="#mb" transform="matrix(6.20 0 -0.69 35.00 404.06 313.71)" fill="url(#mg)"/><ellipse cx="402.18" cy="320.71" rx="0.74" ry="0.97" fill="#9a9a9a" opacity="0.25"/><ellipse cx="405.66" cy="320.71" rx="0.74" ry="0.97" fill="#9a9a9a" opacity="0.25"/><ellipse cx="403.71" cy="331.21" rx="2.79" ry="3.63" fill="#9a9a9a" opacity="0.1"/><ellipse cx="400.44" cy="339.96" rx="1.55" ry="2.02" fill="#9a9a9a" opacity="0.1"/><ellipse cx="406.62" cy="341.01" rx="1.55" ry="2.02" fill="#9a9a9a" opacity="0.1"/><path d="M418.17,348.19 C416.66,360.29 416.39,371.40 415.36,380.91" fill="none" stroke="#b4b4b4" stroke-width="1.5" stroke-linecap="round"/><path d="M413.7,346.7 L409.9,349.2 M422.7,346.7 L426.5,349.2 M414.2,324.0 l-2.6,1.2 M423.2,324.0 l2.6,1.2" stroke="#a8a8a8" stroke-width="1.3" stroke-linecap="round"/><use href="#mb" transform="matrix(6.20 0 -0.75 35.00 418.92 314.19)" fill="url(#mg)"/><ellipse cx="417.03" cy="321.19" rx="0.74" ry="0.97" fill="#9a9a9a" opacity="0.25"/><ellipse cx="420.51" cy="321.19" rx="0.74" ry="0.97" fill="#9a9a9a" opacity="0.25"/><ellipse cx="418.55" cy="331.69" rx="2.79" ry="3.63" fill="#9a9a9a" opacity="0.1"/><ellipse cx="415.26" cy="340.44" rx="1.55" ry="2.02" fill="#9a9a9a" opacity="0.1"/><ellipse cx="421.44" cy="341.49" rx="1.55" ry="2.02" fill="#9a9a9a" opacity="0.1"/><path d="M433.93,348.56 C432.79,359.72 436.01,369.87 436.91,378.58" fill="none" stroke="#b4b4b4" stroke-width="1.5" stroke-linecap="round"/><path d="M429.4,347.1 L425.6,349.6 M438.4,347.1 L442.2,349.6 M429.5,324.4 l-2.6,1.2 M438.5,324.4 l2.6,1.2" stroke="#a8a8a8" stroke-width="1.3" stroke-linecap="round"/><use href="#mb" transform="matrix(6.20 0 -0.12 35.00 434.05 314.56)" fill="url(#mg)"/><ellipse cx="432.29" cy="321.56" rx="0.74" ry="0.97" fill="#9a9a9a" opacity="0.25"/><ellipse cx="435.76" cy="321.56" rx="0.74" ry="0.97" fill="#9a9a9a" opacity="0.25"/><ellipse cx="433.99" cy="332.06" rx="2.79" ry="3.63" fill="#9a9a9a" opacity="0.1"/><ellipse cx="430.86" cy="340.81" rx="1.55" ry="2.02" fill="#9a9a9a" opacity="0.1"/><ellipse cx="437.06" cy="341.86" rx="1.55" ry="2.02" fill="#9a9a9a" opacity="0.1"/><path d="M448.66,347.53 C447.59,359.09 449.77,369.65 449.69,378.70" fill="none" stroke="#b4b4b4" stroke-width="1.5" stroke-linecap="round"/><path d="M444.2,346.0 L440.4,348.5 M453.2,346.0 L457.0,348.5 M444.7,323.3 l-2.6,1.2 M453.7,323.3 l2.6,1.2" stroke="#a8a8a8" stroke-width="1.3" stroke-linecap="round"/><use href="#mb" transform="matrix(6.20 0 -0.80 35.00 449.46 313.53)" fill="url(#mg)"/><ellipse cx="447.56" cy="320.53" rx="0.74" ry="0.97" fill="#9a9a9a" opacity="0.25"/><ellipse cx="451.03" cy="320.53" rx="0.74" ry="0.97" fill="#9a9a9a" opacity="0.25"/><ellipse cx="449.06" cy="331.03" rx="2.79" ry="3.63" fill="#9a9a9a" opacity="0.1"/><ellipse cx="445.76" cy="339.78" rx="1.55" ry="2.02" fill="#9a9a9a" opacity="0.1"/><ellipse cx="451.94" cy="340.83" rx="1.55" ry="2.02" fill="#9a9a9a" opacity="0.1"/></g>
<g filter="url(#heat)"><rect x="372.0" y="309" width="94.0" height="83.3" fill="#000"/><use href="#mb" transform="matrix(7.44 0 -0.38 37.40 388.54 313.03)" fill="rgb(56,56,56)"/><use href="#mb" transform="matrix(5.58 0 -0.38 32.60 388.54 315.03)" fill="rgb(0,0,0)"/><use href="#mb" transform="matrix(3.57 0 -0.12 8.40 388.43 318.22)" fill="rgb(102,102,102)"/><ellipse cx="385.14" cy="340.93" rx="2.79" ry="2.93" fill="rgb(255,255,255)"/><ellipse cx="391.03" cy="340.93" rx="2.79" ry="2.93" fill="rgb(242,242,242)"/><ellipse cx="388.23" cy="341.63" rx="1.24" ry="1.30" fill="rgb(64,64,64)"/><use href="#mb" transform="matrix(7.44 0 -0.69 37.40 404.06 313.11)" fill="rgb(56,56,56)"/><use href="#mb" transform="matrix(5.58 0 -0.69 32.60 404.06 315.11)" fill="rgb(0,0,0)"/><use href="#mb" transform="matrix(3.57 0 -0.21 8.40 403.86 318.30)" fill="rgb(89,89,89)"/><ellipse cx="403.51" cy="341.71" rx="4.34" ry="4.56" fill="rgb(255,255,255)"/><ellipse cx="406.06" cy="338.21" rx="1.86" ry="1.95" fill="rgb(153,153,153)"/><use href="#mb" transform="matrix(7.44 0 -0.75 37.40 418.92 313.59)" fill="rgb(56,56,56)"/><use href="#mb" transform="matrix(5.58 0 -0.75 32.60 418.92 315.59)" fill="rgb(0,0,0)"/><use href="#mb" transform="matrix(3.57 0 -0.22 8.40 418.71 318.78)" fill="rgb(76,76,76)"/><ellipse cx="421.13" cy="341.49" rx="3.10" ry="3.26" fill="rgb(242,242,242)"/><ellipse cx="415.86" cy="341.49" rx="2.48" ry="2.60" fill="rgb(76,76,76)"/><use href="#mb" transform="matrix(7.44 0 -0.80 37.40 449.46 312.93)" fill="rgb(46,46,46)"/><use href="#mb" transform="matrix(5.58 0 -0.80 32.60 449.46 314.93)" fill="rgb(0,0,0)"/><ellipse cx="449.42" cy="315.28" rx="1.55" ry="2.10" fill="rgb(0,0,0)"/><ellipse cx="449.08" cy="330.33" rx="2.79" ry="2.93" fill="rgb(242,242,242)"/><ellipse cx="448.86" cy="339.78" rx="3.72" ry="2.23" fill="rgb(115,115,115)"/><ellipse cx="448.96" cy="335.23" rx="1.86" ry="1.95" fill="rgb(64,64,64)"/></g>
</g>
<clipPath id="cp32"><rect x="372.0" y="394" width="94.0" height="84"/></clipPath>
<g clip-path="url(#cp32)">
<g filter="url(#soft)"><rect x="372.0" y="394" width="94.0" height="84" fill="#414141"/><rect x="378.0" y="394" width="84.0" height="4.5" fill="#4e4e4e"/><rect x="372.0" y="394" width="6" height="4.5" fill="#2a2a2a"/><rect x="380.00" y="398.5" width="78.20" height="34.3" fill="#333"/><rect x="379.60" y="398.5" width="2.4" height="34.3" fill="#262626"/><rect x="394.90" y="398.5" width="2.4" height="34.3" fill="#262626"/><rect x="410.20" y="398.5" width="2.4" height="34.3" fill="#262626"/><rect x="425.50" y="398.5" width="2.4" height="34.3" fill="#262626"/><rect x="440.80" y="398.5" width="2.4" height="34.3" fill="#262626"/><rect x="456.10" y="398.5" width="2.4" height="34.3" fill="#262626"/><path d="M388.36,433.66 C386.58,445.72 387.13,456.78 386.94,466.26" fill="none" stroke="#b4b4b4" stroke-width="1.5" stroke-linecap="round"/><path d="M383.9,432.2 L380.1,434.7 M392.9,432.2 L396.7,434.7 M383.9,409.8 l-2.6,1.2 M392.9,409.8 l2.6,1.2" stroke="#a8a8a8" stroke-width="1.3" stroke-linecap="round"/><use href="#mb" transform="matrix(6.20 0 -0.10 34.50 388.46 400.16)" fill="url(#mg)"/><ellipse cx="386.70" cy="407.06" rx="0.74" ry="0.97" fill="#9a9a9a" opacity="0.25"/><ellipse cx="390.17" cy="407.06" rx="0.74" ry="0.97" fill="#9a9a9a" opacity="0.25"/><ellipse cx="388.41" cy="417.41" rx="2.79" ry="3.63" fill="#9a9a9a" opacity="0.1"/><ellipse cx="385.28" cy="426.03" rx="1.55" ry="2.02" fill="#9a9a9a" opacity="0.1"/><ellipse cx="391.48" cy="427.07" rx="1.55" ry="2.02" fill="#9a9a9a" opacity="0.1"/><path d="M403.72,433.05 C405.59,445.89 405.04,457.74 403.26,467.89" fill="none" stroke="#b4b4b4" stroke-width="1.5" stroke-linecap="round"/><path d="M399.2,431.6 L395.4,434.1 M408.2,431.6 L412.0,434.1 M399.1,409.2 l-2.6,1.2 M408.1,409.2 l2.6,1.2" stroke="#a8a8a8" stroke-width="1.3" stroke-linecap="round"/><use href="#mb" transform="matrix(6.20 0 0.10 34.50 403.62 399.55)" fill="url(#mg)"/><ellipse cx="401.90" cy="406.45" rx="0.74" ry="0.97" fill="#9a9a9a" opacity="0.25"/><ellipse cx="405.38" cy="406.45" rx="0.74" ry="0.97" fill="#9a9a9a" opacity="0.25"/><ellipse cx="403.67" cy="416.80" rx="2.79" ry="3.63" fill="#9a9a9a" opacity="0.1"/><ellipse cx="400.59" cy="425.43" rx="1.55" ry="2.02" fill="#9a9a9a" opacity="0.1"/><ellipse cx="406.80" cy="426.46" rx="1.55" ry="2.02" fill="#9a9a9a" opacity="0.1"/><path d="M418.97,433.88 C420.59,445.72 414.45,456.56 415.48,465.85" fill="none" stroke="#b4b4b4" stroke-width="1.5" stroke-linecap="round"/><path d="M414.5,432.4 L410.7,434.9 M423.5,432.4 L427.3,434.9 M414.6,410.0 l-2.6,1.2 M423.6,410.0 l2.6,1.2" stroke="#a8a8a8" stroke-width="1.3" stroke-linecap="round"/><use href="#mb" transform="matrix(6.20 0 -0.13 34.50 419.10 400.38)" fill="url(#mg)"/><ellipse cx="417.34" cy="407.28" rx="0.74" ry="0.97" fill="#9a9a9a" opacity="0.25"/><ellipse cx="420.81" cy="407.28" rx="0.74" ry="0.97" fill="#9a9a9a" opacity="0.25"/><ellipse cx="419.03" cy="417.63" rx="2.79" ry="3.63" fill="#9a9a9a" opacity="0.1"/><ellipse cx="415.90" cy="426.25" rx="1.55" ry="2.02" fill="#9a9a9a" opacity="0.1"/><ellipse cx="422.10" cy="427.29" rx="1.55" ry="2.02" fill="#9a9a9a" opacity="0.1"/><path d="M433.60,433.77 C434.11,445.92 433.81,457.07 432.07,466.63" fill="none" stroke="#b4b4b4" stroke-width="1.5" stroke-linecap="round"/><path d="M429.1,432.3 L425.3,434.8 M438.1,432.3 L441.9,434.8 M429.5,409.9 l-2.6,1.2 M438.5,409.9 l2.6,1.2" stroke="#a8a8a8" stroke-width="1.3" stroke-linecap="round"/><use href="#mb" transform="matrix(6.20 0 -0.58 34.50 434.19 400.27)" fill="url(#mg)"/><ellipse cx="432.33" cy="407.17" rx="0.74" ry="0.97" fill="#9a9a9a" opacity="0.25"/><ellipse cx="435.81" cy="407.17" rx="0.74" ry="0.97" fill="#9a9a9a" opacity="0.25"/><ellipse cx="433.90" cy="417.52" rx="2.79" ry="3.63" fill="#9a9a9a" opacity="0.1"/><ellipse cx="430.65" cy="426.15" rx="1.55" ry="2.02" fill="#9a9a9a" opacity="0.1"/><ellipse cx="436.83" cy="427.18" rx="1.55" ry="2.02" fill="#9a9a9a" opacity="0.1"/><path d="M450.52,433.76 C451.81,445.91 448.60,457.05 450.29,466.60" fill="none" stroke="#b4b4b4" stroke-width="1.5" stroke-linecap="round"/><path d="M446.0,432.3 L442.2,434.8 M455.0,432.3 L458.8,434.8 M445.5,409.9 l-2.6,1.2 M454.5,409.9 l2.6,1.2" stroke="#a8a8a8" stroke-width="1.3" stroke-linecap="round"/><use href="#mb" transform="matrix(6.20 0 0.75 34.50 449.77 400.26)" fill="url(#mg)"/><ellipse cx="448.19" cy="407.16" rx="0.74" ry="0.97" fill="#9a9a9a" opacity="0.25"/><ellipse cx="451.66" cy="407.16" rx="0.74" ry="0.97" fill="#9a9a9a" opacity="0.25"/><ellipse cx="450.15" cy="417.51" rx="2.79" ry="3.63" fill="#9a9a9a" opacity="0.1"/><ellipse cx="447.23" cy="426.13" rx="1.55" ry="2.02" fill="#9a9a9a" opacity="0.1"/><ellipse cx="453.46" cy="427.17" rx="1.55" ry="2.02" fill="#9a9a9a" opacity="0.1"/></g>
<g filter="url(#heat)"><rect x="372.0" y="394" width="94.0" height="84" fill="#000"/><ellipse cx="419.09" cy="401.76" rx="2.17" ry="2.28" fill="rgb(64,64,64)"/><use href="#mb" transform="matrix(7.44 0 0.75 36.90 449.77 399.66)" fill="rgb(51,51,51)"/><use href="#mb" transform="matrix(5.58 0 0.75 32.10 449.77 401.66)" fill="rgb(0,0,0)"/><ellipse cx="449.81" cy="401.98" rx="1.55" ry="2.07" fill="rgb(0,0,0)"/><ellipse cx="449.86" cy="404.40" rx="1.86" ry="1.95" fill="rgb(56,56,56)"/><ellipse cx="450.46" cy="417.51" rx="4.65" ry="4.19" fill="rgb(76,76,76)"/><ellipse cx="450.46" cy="417.51" rx="3.72" ry="3.16" fill="rgb(255,255,255)"/><ellipse cx="449.06" cy="424.41" rx="2.17" ry="2.28" fill="rgb(128,128,128)"/></g>
</g>
<clipPath id="cp33"><rect x="372.0" y="480" width="94.0" height="76"/></clipPath>
<g clip-path="url(#cp33)">
<g filter="url(#soft)"><rect x="372.0" y="480" width="94.0" height="76" fill="#414141"/><rect x="378.0" y="480" width="84.0" height="8" fill="#646464"/><rect x="372.0" y="480" width="6" height="8" fill="#2a2a2a"/><rect x="380.00" y="488" width="78.20" height="35.6" fill="#333"/><rect x="379.60" y="488" width="2.4" height="35.6" fill="#262626"/><rect x="394.90" y="488" width="2.4" height="35.6" fill="#262626"/><rect x="410.20" y="488" width="2.4" height="35.6" fill="#262626"/><rect x="425.50" y="488" width="2.4" height="35.6" fill="#262626"/><rect x="440.80" y="488" width="2.4" height="35.6" fill="#262626"/><rect x="456.10" y="488" width="2.4" height="35.6" fill="#262626"/><path d="M389.56,524.54 C389.95,535.52 388.20,545.50 388.77,554.05" fill="none" stroke="#b4b4b4" stroke-width="1.5" stroke-linecap="round"/><path d="M385.1,523.0 L381.3,525.5 M394.1,523.0 L397.9,525.5 M384.6,500.2 l-2.6,1.2 M393.6,500.2 l2.6,1.2" stroke="#a8a8a8" stroke-width="1.3" stroke-linecap="round"/><use href="#mb" transform="matrix(6.80 0 0.70 35.20 388.86 490.34)" fill="url(#mg)"/><ellipse cx="387.10" cy="497.38" rx="0.82" ry="1.06" fill="#9a9a9a" opacity="0.25"/><ellipse cx="390.90" cy="497.38" rx="0.82" ry="1.06" fill="#9a9a9a" opacity="0.25"/><ellipse cx="389.21" cy="507.94" rx="3.06" ry="3.98" fill="#9a9a9a" opacity="0.1"/><ellipse cx="385.98" cy="516.74" rx="1.70" ry="2.21" fill="#9a9a9a" opacity="0.1"/><ellipse cx="392.80" cy="517.80" rx="1.70" ry="2.21" fill="#9a9a9a" opacity="0.1"/><path d="M403.54,524.19 C404.43,535.93 406.08,546.68 406.50,555.90" fill="none" stroke="#b4b4b4" stroke-width="1.5" stroke-linecap="round"/><path d="M399.0,522.7 L395.2,525.2 M408.0,522.7 L411.8,525.2 M399.4,499.8 l-2.6,1.2 M408.4,499.8 l2.6,1.2" stroke="#a8a8a8" stroke-width="1.3" stroke-linecap="round"/><use href="#mb" transform="matrix(6.80 0 -0.53 35.20 404.07 489.99)" fill="url(#mg)"/><ellipse cx="402.06" cy="497.03" rx="0.82" ry="1.06" fill="#9a9a9a" opacity="0.25"/><ellipse cx="405.87" cy="497.03" rx="0.82" ry="1.06" fill="#9a9a9a" opacity="0.25"/><ellipse cx="403.81" cy="507.59" rx="3.06" ry="3.98" fill="#9a9a9a" opacity="0.1"/><ellipse cx="400.27" cy="516.39" rx="1.70" ry="2.21" fill="#9a9a9a" opacity="0.1"/><ellipse cx="407.06" cy="517.44" rx="1.70" ry="2.21" fill="#9a9a9a" opacity="0.1"/><path d="M418.73,524.43 C416.89,535.84 421.04,546.25 420.33,555.18" fill="none" stroke="#b4b4b4" stroke-width="1.5" stroke-linecap="round"/><path d="M414.2,522.9 L410.4,525.4 M423.2,522.9 L427.0,525.4 M414.1,500.1 l-2.6,1.2 M423.1,500.1 l2.6,1.2" stroke="#a8a8a8" stroke-width="1.3" stroke-linecap="round"/><use href="#mb" transform="matrix(6.80 0 0.13 35.20 418.60 490.23)" fill="url(#mg)"/><ellipse cx="416.72" cy="497.27" rx="0.82" ry="1.06" fill="#9a9a9a" opacity="0.25"/><ellipse cx="420.53" cy="497.27" rx="0.82" ry="1.06" fill="#9a9a9a" opacity="0.25"/><ellipse cx="418.66" cy="507.83" rx="3.06" ry="3.98" fill="#9a9a9a" opacity="0.1"/><ellipse cx="415.29" cy="516.63" rx="1.70" ry="2.21" fill="#9a9a9a" opacity="0.1"/><ellipse cx="422.10" cy="517.69" rx="1.70" ry="2.21" fill="#9a9a9a" opacity="0.1"/><path d="M434.82,524.22 C433.85,535.86 430.82,546.50 431.47,555.61" fill="none" stroke="#b4b4b4" stroke-width="1.5" stroke-linecap="round"/><path d="M430.3,522.7 L426.5,525.2 M439.3,522.7 L443.1,525.2 M429.8,499.9 l-2.6,1.2 M438.8,499.9 l2.6,1.2" stroke="#a8a8a8" stroke-width="1.3" stroke-linecap="round"/><use href="#mb" transform="matrix(6.80 0 0.77 35.20 434.04 490.02)" fill="url(#mg)"/><ellipse cx="432.29" cy="497.06" rx="0.82" ry="1.06" fill="#9a9a9a" opacity="0.25"/><ellipse cx="436.10" cy="497.06" rx="0.82" ry="1.06" fill="#9a9a9a" opacity="0.25"/><ellipse cx="434.43" cy="507.62" rx="3.06" ry="3.98" fill="#9a9a9a" opacity="0.1"/><ellipse cx="431.22" cy="516.42" rx="1.70" ry="2.21" fill="#9a9a9a" opacity="0.1"/><ellipse cx="438.05" cy="517.48" rx="1.70" ry="2.21" fill="#9a9a9a" opacity="0.1"/><path d="M450.68,524.47 C450.00,535.83 451.22,546.20 450.04,555.08" fill="none" stroke="#b4b4b4" stroke-width="1.5" stroke-linecap="round"/><path d="M446.2,523.0 L442.4,525.5 M455.2,523.0 L459.0,525.5 M445.7,500.1 l-2.6,1.2 M454.7,500.1 l2.6,1.2" stroke="#a8a8a8" stroke-width="1.3" stroke-linecap="round"/><use href="#mb" transform="matrix(6.80 0 0.64 35.20 450.04 490.27)" fill="url(#mg)"/><ellipse cx="448.26" cy="497.31" rx="0.82" ry="1.06" fill="#9a9a9a" opacity="0.25"/><ellipse cx="452.07" cy="497.31" rx="0.82" ry="1.06" fill="#9a9a9a" opacity="0.25"/><ellipse cx="450.36" cy="507.87" rx="3.06" ry="3.98" fill="#9a9a9a" opacity="0.1"/><ellipse cx="447.12" cy="516.67" rx="1.70" ry="2.21" fill="#9a9a9a" opacity="0.1"/><ellipse cx="453.94" cy="517.72" rx="1.70" ry="2.21" fill="#9a9a9a" opacity="0.1"/></g>
<g filter="url(#heat)"><rect x="372.0" y="480" width="94.0" height="76" fill="#000"/><ellipse cx="434.17" cy="495.66" rx="2.86" ry="1.71" fill="rgb(82,82,82)"/><use href="#mb" transform="matrix(8.16 0 0.64 37.60 450.04 489.67)" fill="rgb(51,51,51)"/><use href="#mb" transform="matrix(6.12 0 0.64 32.80 450.04 491.67)" fill="rgb(0,0,0)"/><ellipse cx="450.07" cy="492.03" rx="1.70" ry="2.11" fill="rgb(0,0,0)"/><ellipse cx="450.17" cy="497.31" rx="2.38" ry="1.43" fill="rgb(64,64,64)"/><ellipse cx="450.39" cy="509.63" rx="5.78" ry="5.20" fill="rgb(76,76,76)"/><ellipse cx="450.36" cy="507.87" rx="5.44" ry="4.35" fill="rgb(255,255,255)"/><ellipse cx="449.83" cy="516.31" rx="2.04" ry="2.14" fill="rgb(153,153,153)"/></g>
</g>
<clipPath id="cp34"><rect x="372.0" y="558.2" width="94.0" height="75"/></clipPath>
<g clip-path="url(#cp34)">
<g filter="url(#soft)"><rect x="372.0" y="558.2" width="94.0" height="75" fill="#414141"/><rect x="378.0" y="558.2" width="84.0" height="4.5" fill="#4e4e4e"/><rect x="372.0" y="558.2" width="6" height="4.5" fill="#2a2a2a"/><rect x="380.00" y="562.7" width="78.20" height="34.2" fill="#333"/><rect x="379.60" y="562.7" width="2.4" height="34.2" fill="#262626"/><rect x="394.90" y="562.7" width="2.4" height="34.2" fill="#262626"/><rect x="410.20" y="562.7" width="2.4" height="34.2" fill="#262626"/><rect x="425.50" y="562.7" width="2.4" height="34.2" fill="#262626"/><rect x="440.80" y="562.7" width="2.4" height="34.2" fill="#262626"/><rect x="456.10" y="562.7" width="2.4" height="34.2" fill="#262626"/><path d="M388.47,597.21 C387.81,609.88 389.88,621.55 390.86,631.56" fill="none" stroke="#b4b4b4" stroke-width="1.5" stroke-linecap="round"/><path d="M384.0,595.7 L380.2,598.2 M393.0,595.7 L396.8,598.2 M383.9,572.7 l-2.6,1.2 M392.9,572.7 l2.6,1.2" stroke="#a8a8a8" stroke-width="1.3" stroke-linecap="round"/><use href="#mb" transform="matrix(6.30 0 0.05 35.50 388.42 562.71)" fill="url(#mg)"/><ellipse cx="386.67" cy="569.81" rx="0.76" ry="0.98" fill="#9a9a9a" opacity="0.25"/><ellipse cx="390.19" cy="569.81" rx="0.76" ry="0.98" fill="#9a9a9a" opacity="0.25"/><ellipse cx="388.44" cy="580.46" rx="2.83" ry="3.69" fill="#9a9a9a" opacity="0.1"/><ellipse cx="385.30" cy="589.34" rx="1.57" ry="2.05" fill="#9a9a9a" opacity="0.1"/><ellipse cx="391.61" cy="590.40" rx="1.57" ry="2.05" fill="#9a9a9a" opacity="0.1"/><path d="M403.31,597.78 C402.00,611.02 398.41,623.26 399.78,633.74" fill="none" stroke="#b4b4b4" stroke-width="1.5" stroke-linecap="round"/><path d="M398.8,596.3 L395.0,598.8 M407.8,596.3 L411.6,598.8 M399.2,573.2 l-2.6,1.2 M408.2,573.2 l2.6,1.2" stroke="#a8a8a8" stroke-width="1.3" stroke-linecap="round"/><use href="#mb" transform="matrix(6.30 0 -0.56 35.50 403.87 563.28)" fill="url(#mg)"/><ellipse cx="401.99" cy="570.38" rx="0.76" ry="0.98" fill="#9a9a9a" opacity="0.25"/><ellipse cx="405.52" cy="570.38" rx="0.76" ry="0.98" fill="#9a9a9a" opacity="0.25"/><ellipse cx="403.59" cy="581.03" rx="2.83" ry="3.69" fill="#9a9a9a" opacity="0.1"/><ellipse cx="400.30" cy="589.91" rx="1.57" ry="2.05" fill="#9a9a9a" opacity="0.1"/><ellipse cx="406.58" cy="590.97" rx="1.57" ry="2.05" fill="#9a9a9a" opacity="0.1"/><path d="M417.81,597.80 C419.68,610.93 417.76,623.06 417.67,633.46" fill="none" stroke="#b4b4b4" stroke-width="1.5" stroke-linecap="round"/><path d="M413.3,596.3 L409.5,598.8 M422.3,596.3 L426.1,598.8 M413.8,573.2 l-2.6,1.2 M422.8,573.2 l2.6,1.2" stroke="#a8a8a8" stroke-width="1.3" stroke-linecap="round"/><use href="#mb" transform="matrix(6.30 0 -0.69 35.50 418.50 563.30)" fill="url(#mg)"/><ellipse cx="416.60" cy="570.40" rx="0.76" ry="0.98" fill="#9a9a9a" opacity="0.25"/><ellipse cx="420.12" cy="570.40" rx="0.76" ry="0.98" fill="#9a9a9a" opacity="0.25"/><ellipse cx="418.15" cy="581.05" rx="2.83" ry="3.69" fill="#9a9a9a" opacity="0.1"/><ellipse cx="414.83" cy="589.93" rx="1.57" ry="2.05" fill="#9a9a9a" opacity="0.1"/><ellipse cx="421.11" cy="590.99" rx="1.57" ry="2.05" fill="#9a9a9a" opacity="0.1"/><path d="M434.43,598.01 C434.48,610.37 433.74,621.74 434.06,631.48" fill="none" stroke="#b4b4b4" stroke-width="1.5" stroke-linecap="round"/><path d="M429.9,596.5 L426.1,599.0 M438.9,596.5 L442.7,599.0 M429.4,573.5 l-2.6,1.2 M438.4,573.5 l2.6,1.2" stroke="#a8a8a8" stroke-width="1.3" stroke-linecap="round"/><use href="#mb" transform="matrix(6.30 0 0.68 35.50 433.75 563.51)" fill="url(#mg)"/><ellipse cx="432.12" cy="570.61" rx="0.76" ry="0.98" fill="#9a9a9a" opacity="0.25"/><ellipse cx="435.65" cy="570.61" rx="0.76" ry="0.98" fill="#9a9a9a" opacity="0.25"/><ellipse cx="434.09" cy="581.26" rx="2.83" ry="3.69" fill="#9a9a9a" opacity="0.1"/><ellipse cx="431.11" cy="590.14" rx="1.57" ry="2.05" fill="#9a9a9a" opacity="0.1"/><ellipse cx="437.43" cy="591.20" rx="1.57" ry="2.05" fill="#9a9a9a" opacity="0.1"/><path d="M450.23,597.22 C451.27,610.73 453.57,623.25 453.47,633.97" fill="none" stroke="#b4b4b4" stroke-width="1.5" stroke-linecap="round"/><path d="M445.7,595.7 L441.9,598.2 M454.7,595.7 L458.5,598.2 M445.3,572.7 l-2.6,1.2 M454.3,572.7 l2.6,1.2" stroke="#a8a8a8" stroke-width="1.3" stroke-linecap="round"/><use href="#mb" transform="matrix(6.30 0 0.62 35.50 449.60 562.72)" fill="url(#mg)"/><ellipse cx="447.96" cy="569.82" rx="0.76" ry="0.98" fill="#9a9a9a" opacity="0.25"/><ellipse cx="451.49" cy="569.82" rx="0.76" ry="0.98" fill="#9a9a9a" opacity="0.25"/><ellipse cx="449.91" cy="580.47" rx="2.83" ry="3.69" fill="#9a9a9a" opacity="0.1"/><ellipse cx="446.92" cy="589.35" rx="1.57" ry="2.05" fill="#9a9a9a" opacity="0.1"/><ellipse cx="453.24" cy="590.41" rx="1.57" ry="2.05" fill="#9a9a9a" opacity="0.1"/></g>
<g filter="url(#heat)"><rect x="372.0" y="558.2" width="94.0" height="75" fill="#000"/><ellipse cx="433.87" cy="569.55" rx="4.72" ry="2.83" fill="rgb(76,76,76)"/><ellipse cx="433.87" cy="569.55" rx="3.78" ry="2.27" fill="rgb(255,255,255)"/><use href="#mb" transform="matrix(7.56 0 0.62 37.90 449.60 562.12)" fill="rgb(51,51,51)"/><use href="#mb" transform="matrix(5.67 0 0.62 33.10 449.60 564.12)" fill="rgb(0,0,0)"/><ellipse cx="449.63" cy="564.50" rx="1.57" ry="2.13" fill="rgb(0,0,0)"/><ellipse cx="449.69" cy="568.05" rx="2.52" ry="1.51" fill="rgb(64,64,64)"/><ellipse cx="449.98" cy="584.02" rx="6.30" ry="6.62" fill="rgb(76,76,76)"/><ellipse cx="449.96" cy="583.31" rx="5.80" ry="5.80" fill="rgb(255,255,255)"/></g>
</g>
<linearGradient id="cbar" x1="0" y1="1" x2="0" y2="0"><stop offset="0" stop-color="#2a2a7a"/><stop offset="0.2" stop-color="#3050a0"/><stop offset="0.4" stop-color="#70a0a0"/><stop offset="0.55" stop-color="#80b060"/><stop offset="0.72" stop-color="#e0d040"/><stop offset="0.86" stop-color="#c06020"/><stop offset="1" stop-color="#6a2a1a"/></linearGradient>
<rect x="473" y="218" width="3.2" height="70.5" fill="url(#cbar)"/>
<rect x="475.6" y="218.5" width="1.4" height="1.2" fill="#111"/>
<rect x="475.6" y="221.5" width="1.4" height="1.2" fill="#111"/>
<rect x="475.6" y="224.5" width="1.4" height="1.2" fill="#111"/>
<rect x="475.6" y="227.5" width="1.4" height="1.2" fill="#111"/>
<rect x="475.6" y="230.5" width="1.4" height="1.2" fill="#111"/>
<rect x="475.6" y="233.5" width="1.4" height="1.2" fill="#111"/>
<rect x="475.6" y="236.5" width="1.4" height="1.2" fill="#111"/>
<rect x="475.6" y="239.5" width="1.4" height="1.2" fill="#111"/>
<rect x="475.6" y="242.5" width="1.4" height="1.2" fill="#111"/>
<rect x="475.6" y="245.5" width="1.4" height="1.2" fill="#111"/>
<rect x="475.6" y="248.5" width="1.4" height="1.2" fill="#111"/>
<rect x="475.6" y="251.5" width="1.4" height="1.2" fill="#111"/>
<rect x="475.6" y="254.5" width="1.4" height="1.2" fill="#111"/>
<rect x="475.6" y="257.5" width="1.4" height="1.2" fill="#111"/>
<rect x="475.6" y="260.5" width="1.4" height="1.2" fill="#111"/>
<rect x="475.6" y="263.5" width="1.4" height="1.2" fill="#111"/>
<rect x="475.6" y="266.5" width="1.4" height="1.2" fill="#111"/>
<rect x="475.6" y="269.5" width="1.4" height="1.2" fill="#111"/>
<rect x="475.6" y="272.5" width="1.4" height="1.2" fill="#111"/>
<rect x="475.6" y="275.5" width="1.4" height="1.2" fill="#111"/>
<rect x="475.6" y="278.5" width="1.4" height="1.2" fill="#111"/>
<rect x="475.6" y="281.5" width="1.4" height="1.2" fill="#111"/>
<rect x="475.6" y="284.5" width="1.4" height="1.2" fill="#111"/>
<rect x="475.6" y="287.5" width="1.4" height="1.2" fill="#111"/>
<text x="492.5" y="211.5" font-size="5.8" text-anchor="middle" font-family="'Liberation Sans', sans-serif" fill="#111">Luminescence</text>
<text x="481.5" y="221.4" font-size="5.6" font-family="'Liberation Sans', sans-serif" fill="#111">10</text>
<text x="481.5" y="236.7" font-size="5.6" font-family="'Liberation Sans', sans-serif" fill="#111">0.8</text>
<text x="481.5" y="253.1" font-size="5.6" font-family="'Liberation Sans', sans-serif" fill="#111">0.6</text>
<text x="481.5" y="268.3" font-size="5.6" font-family="'Liberation Sans', sans-serif" fill="#111">0.4</text>
<text x="481.5" y="283.40000000000003" font-size="5.6" font-family="'Liberation Sans', sans-serif" fill="#111">0.2</text>
<text x="496" y="258.5" font-size="8.5" font-family="'Liberation Sans', sans-serif" fill="#111">×10<tspan dy="-3.5" font-size="5.5">5</tspan></text>
<text x="473.6" y="297.4" font-size="5.9" font-family="'Liberation Sans', sans-serif" fill="#111">Radiance</text>
<text x="473.6" y="304.6" font-size="5.9" font-family="'Liberation Sans', sans-serif" fill="#111">(p/sec/cm<tspan dy="-2" font-size="4.2">2</tspan><tspan dy="2">/sr)</tspan></text>
<rect x="472.7" y="310.3" width="39.4" height="23.6" fill="#fff" stroke="#111" stroke-width="1.15"/>
<text x="475" y="316.5" font-size="5.4" font-family="'Liberation Sans', sans-serif" fill="#111">Color Scale</text>
<text x="475" y="324.3" font-size="5.4" font-family="'Liberation Sans', sans-serif" fill="#111">Min = 1.00e4</text>
<text x="475" y="331.6" font-size="5.4" font-family="'Liberation Sans', sans-serif" fill="#111">Max = 1.00e5</text>
<rect x="0" y="0" width="520" height="1.5" fill="#000"/><rect x="0" y="0" width="1.3" height="641" fill="#000"/><rect x="518.1" y="0" width="1.9" height="641" fill="#000"/><rect x="0" y="639.1" width="520" height="1.9" fill="#000"/>
</svg>
</body></html>
